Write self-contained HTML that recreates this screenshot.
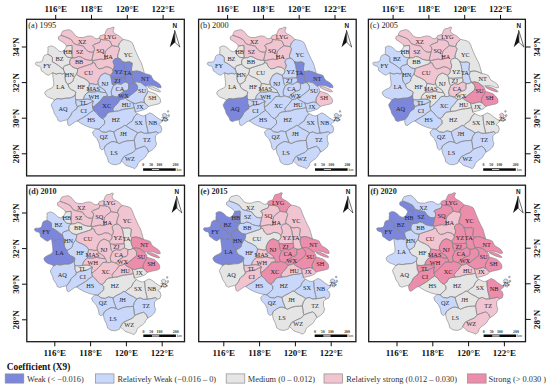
<!DOCTYPE html>
<html><head><meta charset="utf-8"><title>Coefficient (X9) maps</title>
<style>
html,body{margin:0;padding:0;background:#fff;}
body{width:550px;height:389px;overflow:hidden;font-family:"Liberation Serif",serif;}
svg{display:block;}
</style></head><body>
<svg width="550" height="389" viewBox="0 0 550 389">
<g>
<path d="M61 35.3L61.3 33.4L62.9 31L66.7 30L69.3 29.7L71.7 31.1L73.9 33.5L75.9 36.2L78.7 37.4L83.2 37.6L86.7 36.3L89.9 35.9L92.7 36.4L94.5 38L96.7 38.8L99.3 38L100.7 39.4L100 42.2L96.9 43.4L93.7 44.6L92.5 45.8L94 46.8L94.5 49.4L93.6 51.9L92 52.2L89.1 51.9L86.9 50.4L85.4 49L83.5 46.2L80.2 45.4L76.8 44.7L74.2 43.8L72.9 42L71.3 39.7L68.1 37.9L64.2 36.4Z" fill="#f1c4d1"/>
<path d="M99.3 38L100.2 35.6L102.7 35L105 34L106 30.8L107.2 28.9L110.5 28.3L113 27L114.3 27.6L113.7 28.9L113 30.8L113.7 32.7L115.6 34L118.2 35.3L120.7 37.2L123.1 39.4L121.4 41.1L119.4 43L118.8 45L118.2 46.6L115 46.2L112 45.6L111.2 43.7L110.5 41.7L108.5 40.5L106 39.8L103.4 39.8L100.7 39.4Z" fill="#f1c4d1"/>
<path d="M66.5 46L64.8 43.6L61.6 41.4L58.5 39.4L58.4 36.8L61 35.3L64.2 36.4L68.1 37.9L71.3 39.7L72.9 42L74.2 43.8L76.8 44.7L80.2 45.4L83.5 46.2L85.4 49L86.9 50.4L89.1 51.9L92 52.2L93.6 51.9L93.2 53.9L92.5 56.9L91.9 59.3L92 60.2L90.5 60.4L87.6 59.9L84.7 59.1L81.1 57L78.2 56.4L76 57.7L72.3 57.9L72.1 55.5L71.9 52.6L72.2 48.9L72 45.4L69.1 45.6Z" fill="#f1c4d1"/>
<path d="M100.7 39.4L100 42.2L96.9 43.4L93.7 44.6L92.5 45.8L94 46.8L94.5 49.4L93.6 51.9L93.2 53.9L92.5 56.9L91.9 59.3L92 60.2L94 60.5L96.9 59.8L101.2 59L103.2 59.6L106.2 59.2L104.9 56.9L104.9 53.9L105.6 51L107.8 48.9L112 45.6L111.2 43.7L110.5 41.7L108.5 40.5L106 39.8L103.4 39.8Z" fill="#f1c4d1"/>
<path d="M92 60.2L92.9 61.3L92.5 62.4L94.8 63L96.3 66.5L99 68.9L102.6 68.3L105.8 66.7L109.4 67.3L111.5 68.5L112.7 69.5L113.9 68L114.3 65L113.2 62.5L113.2 60.5L115 58.8L118 58L117.5 56L118.5 52.5L119.7 48.8L118.2 46.6L115 46.2L112 45.6L107.8 48.9L105.6 51L104.9 53.9L104.9 56.9L106.2 59.2L103.2 59.6L101.2 59L96.9 59.8L94 60.5Z" fill="#f1c4d1"/>
<path d="M123.1 39.4L126.2 40L129.2 40.8L131.8 42.2L133.3 45L134.3 47.9L135.8 51.5L137.4 55.1L139.4 59.3L141.4 63L142.6 66.8L143.6 70.5L144.5 73.5L140.5 71.8L136.8 70.9L132.7 71.6L131.4 70L131.8 66.8L132.3 63.2L129.5 61.8L125 62.3L122.3 61.4L120.5 59.1L118 58L117.5 56L118.5 52.5L119.7 48.8L118.2 46.6L118.8 45L119.4 43L121.4 41.1Z" fill="#e5e5e6"/>
<path d="M63.7 50.8L65.1 49L65.9 47.5L66.5 46L69.1 45.6L72 45.4L72.2 48.9L71.9 52.6L72.1 55.5L72.3 57.9L67.9 57.3L65.5 55.4L64.3 53Z" fill="#e5e5e6"/>
<path d="M47.9 54.4L47.8 52L48.1 49.5L47.8 47.3L50.6 45.9L53.3 46.4L56 48.2L58.7 50.9L61.5 51.8L63.7 50.8L64.3 53L65.5 55.4L67.9 57.3L72.3 57.9L70.1 59.5L69.6 62L69.9 64.2L68.2 64.7L64.6 65.8L63.3 67.5L63.5 69.5L62 68.3L58.8 65.7L54.9 63.1L52.4 61.9L52.4 57.6L51.2 56L49 54.9Z" fill="#e5e5e6"/>
<path d="M52.5 72.8L50.4 74.1L48.5 75.3L45.9 74.1L43.4 72.1L41.4 70.8L40.8 67.6L39.9 66.3L37.7 65.8L35.9 64.8L35.3 63.2L36.2 62.2L39.2 62.2L41.7 61.6L42.8 60L43.1 58.2L43.6 56.5L44.7 55.2L46.8 54.6L47.9 54.4L49 54.9L51.2 56L52.4 57.6L52.4 61.9L54.9 63.1L58.8 65.7L62 68.3L63.5 69.5L64 71L64.7 72.6L62.6 74.1L60.7 73.4L58.8 73.4L56.2 74.1L54.3 73.4Z" fill="#e5e5e6"/>
<path d="M69.9 64.2L69.6 62L70.1 59.5L72.3 57.9L76 57.7L78.2 56.4L81.1 57L84.7 59.1L87.6 59.9L90.5 60.4L92 60.2L92.9 61.3L92.5 62.4L92.3 63.5L89.3 64.6L83.9 66.4L80.2 67.6L77.5 68.6L74.2 67.9L71.9 66.4Z" fill="#f1c4d1"/>
<path d="M63.5 69.5L63.3 67.5L64.6 65.8L68.2 64.7L69.9 64.2L71.9 66.4L74.2 67.9L77.5 68.6L77.5 71.2L76.5 74.1L74.6 76.5L73.3 79.5L73.2 81L70.9 82.8L67.9 84.4L65.9 82L65.1 79L65.1 75.6L64.7 72.6L64 71Z" fill="#e5e5e6"/>
<path d="M92.5 62.4L92.3 63.5L89.3 64.6L83.9 66.4L80.2 67.6L77.5 68.6L77.5 71.2L76.5 74.1L78 75.5L80.7 77L82.9 77.8L85.1 79L87.8 80.8L89.5 83.5L93.1 83.9L95.9 84.6L98.2 83.8L98 81.2L99.5 77.6L101.3 74.9L104.9 73L108.6 74.6L110.2 75.3L111.7 74L113 71.8L112.7 69.5L111.5 68.5L109.4 67.3L105.8 66.7L102.6 68.3L99 68.9L96.3 66.5L94.8 63Z" fill="#f1c4d1"/>
<path d="M54.5 100L52.7 98.8L50.1 98L47.5 96.8L45.7 95.2L44.7 92.8L45.9 91L48.5 89.4L51.9 88L53.7 85.8L53.7 82.5L53 77.3L52.5 72.8L54.3 73.4L56.2 74.1L58.8 73.4L60.7 73.4L62.6 74.1L64.7 72.6L65.1 75.6L65.1 79L65.9 82L67.9 84.4L68.9 87.4L71.2 89.5L74.2 90.9L75.9 92.2L75.2 95L73 96.8L70.1 98L65.5 98.2L61 99L57.3 98.5Z" fill="#e5e5e6"/>
<path d="M76.5 74.1L74.6 76.5L73.3 79.5L73.2 81L70.9 82.8L67.9 84.4L68.9 87.4L71.2 89.5L74.2 90.9L75.9 92.2L75.2 95L75.3 97.5L75.7 99.6L79.6 99.9L83.5 99.4L84.2 96.5L85.9 93.9L88.5 92L88 90L88.6 87.6L89.5 83.5L87.8 80.8L85.1 79L82.9 77.8L80.7 77L78 75.5Z" fill="#e5e5e6"/>
<path d="M118 58L115 58.8L113.2 60.5L113.2 62.5L114.3 65L113.9 68L112.7 69.5L113 71.8L111.7 74L110.2 75.3L111.2 78L115.7 78.3L119.7 78L125 77.8L125 73.6L124.5 70L123.7 65L122.3 61.4L120.5 59.1Z" fill="#7c87dc"/>
<path d="M122.3 61.4L123.7 65L124.5 70L125 73.6L125 77.8L125.7 80L125.2 82L127.2 82.8L128.9 83.6L131.2 83.6L134 82.3L132.7 79.1L131.8 75.5L132.7 71.6L131.4 70L131.8 66.8L132.3 63.2L129.5 61.8L125 62.3Z" fill="#7c87dc"/>
<path d="M144.5 73.5L148.6 74.4L151.2 75.6L152.2 78L153.8 80.3L157.1 82.2L159.6 84L161 86.2L161 87.8L158 87.6L154.8 86.1L151.7 85.6L148.6 85.6L145.5 86.3L144.5 85.5L140.9 82.7L137.2 81.8L134 82.3L132.7 79.1L131.8 75.5L132.7 71.6L136.8 70.9L140.5 71.8Z" fill="#7c87dc"/>
<path d="M110.2 75.3L111.2 78L111.6 81.4L112.2 84.2L113.5 85.5L112.2 88.5L111.2 91.5L111.5 94.2L112.2 95.8L110.2 96.5L108.6 96.7L107.2 96.2L107.2 94.4L106 92.6L105 90.4L102.4 88.5L99.3 86.4L98.2 83.8L98 81.2L99.5 77.6L101.3 74.9L104.9 73L108.6 74.6Z" fill="#c9d8fa"/>
<path d="M111.2 78L115.7 78.3L119.7 78L125 77.8L125.7 80L125.2 82L123.6 82.7L120.9 84.3L117.2 83.6L113.5 85.5L112.2 84.2L111.6 81.4Z" fill="#7c87dc"/>
<path d="M113.5 85.5L117.2 83.6L120.9 84.3L123.6 82.7L125.2 82L127.2 82.8L128.9 83.6L128.5 85.9L128.7 88.2L127.2 90.5L124.5 91L121.8 92.7L119.1 94.5L117.2 97.2L114.5 96.4L112.2 95.8L111.5 94.2L111.2 91.5L112.2 88.5Z" fill="#c9d8fa"/>
<path d="M128.9 83.6L131.2 83.6L134 82.3L136.7 84.5L137.7 87L137.2 90L134 92.5L130.4 95.4L127.7 97.3L125.2 98L123.2 99L120.7 99.5L119.2 98.8L117.2 97.2L119.1 94.5L121.8 92.7L124.5 91L127.2 90.5L128.7 88.2L128.5 85.9Z" fill="#7c87dc"/>
<path d="M145.5 86.3L146.7 87.5L147.7 89.6L147.9 91.4L146.6 94.1L144.7 97.3L143.9 100L144.6 102.8L141.9 101.9L138.2 102.8L135.5 103.7L132.8 102.8L131 101.9L127.3 99.8L125.2 98L127.7 97.3L130.4 95.4L134 92.5L137.2 90L137.7 87L136.7 84.5L134 82.3L137.2 81.8L140.9 82.7L144.5 85.5Z" fill="#c9d8fa"/>
<path d="M147.9 91.4L150.4 91.9L153 92.8L155.6 93.8L158.1 96.1L160.1 98.6L160.7 101.2L160.1 103.1L158.2 104L154.6 104.8L151 105.6L148.2 106.5L146.4 104.6L144.6 102.8L143.9 100L144.7 97.3L146.6 94.1Z" fill="#e5e5e6"/>
<path d="M106 92.6L102.7 92.4L97.7 91.4L93.1 92.1L88.5 92L88 90L88.6 87.6L89.5 83.5L93.1 83.9L95.9 84.6L98.2 83.8L99.3 86.4L102.4 88.5L105 90.4Z" fill="#c9d8fa"/>
<path d="M83.5 99.4L87.8 99L91.5 99.9L93.3 101.2L92.4 104.4L92.5 107L94.2 106.2L97.3 103.6L100.9 100L103.6 96.6L107.2 96.2L107.2 94.4L106 92.6L102.7 92.4L97.7 91.4L93.1 92.1L88.5 92L85.9 93.9L84.2 96.5Z" fill="#c9d8fa"/>
<path d="M117.2 97.2L119.2 98.8L120.7 99.5L119.2 100.9L117.4 103.7L114.6 106.4L112.8 109.1L113.7 111.6L111.9 111.7L109.2 112.2L106.9 113.8L105.5 116.5L102.7 118.6L100.5 117.6L98.4 115.4L96.4 112.8L93.5 110.4L93 109L92.5 107L94.2 106.2L97.3 103.6L100.9 100L103.6 96.6L107.2 96.2L108.6 96.7L110.2 96.5L112.2 95.8L114.5 96.4Z" fill="#7c87dc"/>
<path d="M75.7 99.6L75.9 103.5L77.3 106.6L80.5 105.6L84.2 104.9L87.8 104L90.6 102.6L93.3 101.2L91.5 99.9L87.8 99L83.5 99.4L79.6 99.9Z" fill="#c9d8fa"/>
<path d="M77.5 120.9L75.2 121.7L72.9 123.4L69.6 125.7L68 124.9L67.2 121L67.9 119.2L68.9 118.1L70.5 115.8L72 112.7L74.3 110.4L76.6 108.9L77.3 106.6L80.5 105.6L84.2 104.9L87.8 104L90.6 102.6L93.3 101.2L92.4 104.4L92.5 107L93 109L93.5 110.4L92.2 111.2L89.7 112.8L86.7 115.3L83.7 117.2L80.7 118.9Z" fill="#c9d8fa"/>
<path d="M67.9 119.2L66.6 119.9L63.5 120.6L60.4 121.6L58.1 120.4L57.4 118.1L55.8 115.8L54.3 113.5L53.5 110.4L52 107.3L51.2 104.9L52.7 102.4L54.5 100L57.3 98.5L61 99L65.5 98.2L70.1 98L73 96.8L75.2 95L75.3 97.5L75.7 99.6L75.9 103.5L77.3 106.6L76.6 108.9L74.3 110.4L72 112.7L70.5 115.8L68.9 118.1Z" fill="#c9d8fa"/>
<path d="M95.8 128.8L94.4 128.6L90.1 127.5L84.6 125.3L80.7 123.2L77.5 120.9L80.7 118.9L83.7 117.2L86.7 115.3L89.7 112.8L92.2 111.2L93.5 110.4L96.4 112.8L98.4 115.4L100.5 117.6L102.7 118.6L104.6 120.5L104.6 123.7L101.9 126.4L98.7 129.2Z" fill="#c9d8fa"/>
<path d="M120.7 99.5L123.2 99L125.2 98L127.3 99.8L131 101.9L132.8 102.8L133.7 105.3L134.2 107.5L131.9 108.2L128.3 108.7L124.6 109.1L121 110L118.3 111L115.5 111.2L113.7 111.6L112.8 109.1L114.6 106.4L117.4 103.7L119.2 100.9Z" fill="#c9d8fa"/>
<path d="M148.2 106.5L146.6 108.4L144.4 109.5L141.1 110.6L137.9 111.5L135.3 112L134.9 110L134.2 107.5L133.7 105.3L132.8 102.8L135.5 103.7L138.2 102.8L141.9 101.9L144.6 102.8L146.4 104.6Z" fill="#c9d8fa"/>
<path d="M135.3 112L136.2 113L137.2 113.6L134.2 116.8L132.3 120.9L129 123.1L127 124.8L126.2 125.8L124.7 125.3L121.4 127.5L117 129.7L113.8 131.8L109.4 130.8L106.1 132.4L101.8 131.8L98.7 129.2L101.9 126.4L104.6 123.7L104.6 120.5L102.7 118.6L105.5 116.5L106.9 113.8L109.2 112.2L111.9 111.7L113.7 111.6L115.5 111.2L118.3 111L121 110L124.6 109.1L128.3 108.7L131.9 108.2L134.2 107.5L134.9 110Z" fill="#c9d8fa"/>
<path d="M137.2 113.6L139.2 114.5L141.1 115.5L143.2 116L145.5 115.3L145.9 120.9L146.5 125.3L147.6 129.7L148.2 133.2L144.3 133.3L141 131.8L137.7 132.9L134.5 130.8L130.1 128.6L126.8 126.4L126.2 125.8L127 124.8L129 123.1L132.3 120.9L134.2 116.8Z" fill="#c9d8fa"/>
<path d="M145.5 115.3L149.9 112.8L153.1 114.4L156.4 117.1L159.7 119.3L163 120.9L160.8 122.6L158.6 124.8L160.8 125.8L161.9 129.1L160.8 132.4L158.3 133.2L156.4 131.6L152.1 132.6L148.2 133.2L147.6 129.7L146.5 125.3L145.9 120.9Z" fill="#c9d8fa"/>
<path d="M113.8 131.8L114.9 136.2L116.2 139.5L117.2 142.5L119.2 143.6L123.6 141.7L127.2 140.8L131.4 140.6L134.2 140.3L135.2 136.5L137.7 132.9L134.5 130.8L130.1 128.6L126.8 126.4L126.2 125.8L124.7 125.3L121.4 127.5L117 129.7Z" fill="#c9d8fa"/>
<path d="M104.2 148.5L101.9 150L100.1 148.4L99 143L96.9 138.6L93.6 135.3L92.5 132L95.8 128.8L98.7 129.2L101.8 131.8L106.1 132.4L109.4 130.8L113.8 131.8L114.9 136.2L116.2 139.5L117.2 142.5L114.2 141.6L111.8 141.6L108.3 143.5L105.2 145.8Z" fill="#c9d8fa"/>
<path d="M158.3 133.2L155.4 135.9L155.4 140.3L156.5 143.6L155.4 146.9L152.1 150.1L148.7 152L147.2 148.5L144.5 146.2L140.1 147.6L135.9 149.2L135.2 147.5L134.9 144L134.2 140.3L135.2 136.5L137.7 132.9L141 131.8L144.3 133.3L148.2 133.2L152.1 132.6L156.4 131.6Z" fill="#c9d8fa"/>
<path d="M121.2 161L120.5 163.2L116.1 164.8L111.8 164.3L108.5 162.1L107.4 157.8L105.2 153.4L104.2 148.5L105.2 145.8L108.3 143.5L111.8 141.6L114.2 141.6L117.2 142.5L119.2 143.6L123.6 141.7L127.2 140.8L131.4 140.6L134.2 140.3L134.9 144L135.2 147.5L135.9 149.2L133.2 152.3L128.1 154.5L123.8 156.7Z" fill="#c9d8fa"/>
<path d="M148.7 152L146.7 154.5L145.6 156.7L143.4 158.8L140.1 161L138 163.2L136.9 166.5L134.7 168.7L132.5 167.6L129.2 166.5L126 165.4L122.7 162.1L121.2 161L123.8 156.7L128.1 154.5L133.2 152.3L135.9 149.2L140.1 147.6L144.5 146.2L147.2 148.5Z" fill="#c9d8fa"/>
<path d="M147.9 86.4L152.4 86.9L156.2 88.5L159.4 90.2L160.7 91.6L159.2 91.9L154.3 90.4L150.4 88.7L148.5 87.6Z" fill="#e5e5e6"/>
<path d="M162.2 114.5L164.2 113.2L166.2 114L166.7 116L165.2 117.5L163.2 117Z" fill="#c9d8fa"/>
<path d="M163.7 118.5L165.7 118L167.2 119.5L166.2 121.5L164.2 121Z" fill="#c9d8fa"/>
<path d="M167.7 115L169.2 114.5L169.7 116L168.2 116.8Z" fill="#c9d8fa"/>
<path d="M167.2 111L168.5 110.5L168.9 111.8L167.7 112.3Z" fill="#c9d8fa"/>
<path d="M61 35.3L61.3 33.4L62.9 31L66.7 30L69.3 29.7L71.7 31.1L73.9 33.5L75.9 36.2L78.7 37.4L83.2 37.6L86.7 36.3L89.9 35.9L92.7 36.4L94.5 38L96.7 38.8L99.3 38L100.7 39.4L100 42.2L96.9 43.4L93.7 44.6L92.5 45.8L94 46.8L94.5 49.4L93.6 51.9L92 52.2L89.1 51.9L86.9 50.4L85.4 49L83.5 46.2L80.2 45.4L76.8 44.7L74.2 43.8L72.9 42L71.3 39.7L68.1 37.9L64.2 36.4ZM99.3 38L100.2 35.6L102.7 35L105 34L106 30.8L107.2 28.9L110.5 28.3L113 27L114.3 27.6L113.7 28.9L113 30.8L113.7 32.7L115.6 34L118.2 35.3L120.7 37.2L123.1 39.4L121.4 41.1L119.4 43L118.8 45L118.2 46.6L115 46.2L112 45.6L111.2 43.7L110.5 41.7L108.5 40.5L106 39.8L103.4 39.8L100.7 39.4ZM66.5 46L64.8 43.6L61.6 41.4L58.5 39.4L58.4 36.8L61 35.3L64.2 36.4L68.1 37.9L71.3 39.7L72.9 42L74.2 43.8L76.8 44.7L80.2 45.4L83.5 46.2L85.4 49L86.9 50.4L89.1 51.9L92 52.2L93.6 51.9L93.2 53.9L92.5 56.9L91.9 59.3L92 60.2L90.5 60.4L87.6 59.9L84.7 59.1L81.1 57L78.2 56.4L76 57.7L72.3 57.9L72.1 55.5L71.9 52.6L72.2 48.9L72 45.4L69.1 45.6ZM100.7 39.4L100 42.2L96.9 43.4L93.7 44.6L92.5 45.8L94 46.8L94.5 49.4L93.6 51.9L93.2 53.9L92.5 56.9L91.9 59.3L92 60.2L94 60.5L96.9 59.8L101.2 59L103.2 59.6L106.2 59.2L104.9 56.9L104.9 53.9L105.6 51L107.8 48.9L112 45.6L111.2 43.7L110.5 41.7L108.5 40.5L106 39.8L103.4 39.8ZM92 60.2L92.9 61.3L92.5 62.4L94.8 63L96.3 66.5L99 68.9L102.6 68.3L105.8 66.7L109.4 67.3L111.5 68.5L112.7 69.5L113.9 68L114.3 65L113.2 62.5L113.2 60.5L115 58.8L118 58L117.5 56L118.5 52.5L119.7 48.8L118.2 46.6L115 46.2L112 45.6L107.8 48.9L105.6 51L104.9 53.9L104.9 56.9L106.2 59.2L103.2 59.6L101.2 59L96.9 59.8L94 60.5ZM123.1 39.4L126.2 40L129.2 40.8L131.8 42.2L133.3 45L134.3 47.9L135.8 51.5L137.4 55.1L139.4 59.3L141.4 63L142.6 66.8L143.6 70.5L144.5 73.5L140.5 71.8L136.8 70.9L132.7 71.6L131.4 70L131.8 66.8L132.3 63.2L129.5 61.8L125 62.3L122.3 61.4L120.5 59.1L118 58L117.5 56L118.5 52.5L119.7 48.8L118.2 46.6L118.8 45L119.4 43L121.4 41.1ZM63.7 50.8L65.1 49L65.9 47.5L66.5 46L69.1 45.6L72 45.4L72.2 48.9L71.9 52.6L72.1 55.5L72.3 57.9L67.9 57.3L65.5 55.4L64.3 53ZM47.9 54.4L47.8 52L48.1 49.5L47.8 47.3L50.6 45.9L53.3 46.4L56 48.2L58.7 50.9L61.5 51.8L63.7 50.8L64.3 53L65.5 55.4L67.9 57.3L72.3 57.9L70.1 59.5L69.6 62L69.9 64.2L68.2 64.7L64.6 65.8L63.3 67.5L63.5 69.5L62 68.3L58.8 65.7L54.9 63.1L52.4 61.9L52.4 57.6L51.2 56L49 54.9ZM52.5 72.8L50.4 74.1L48.5 75.3L45.9 74.1L43.4 72.1L41.4 70.8L40.8 67.6L39.9 66.3L37.7 65.8L35.9 64.8L35.3 63.2L36.2 62.2L39.2 62.2L41.7 61.6L42.8 60L43.1 58.2L43.6 56.5L44.7 55.2L46.8 54.6L47.9 54.4L49 54.9L51.2 56L52.4 57.6L52.4 61.9L54.9 63.1L58.8 65.7L62 68.3L63.5 69.5L64 71L64.7 72.6L62.6 74.1L60.7 73.4L58.8 73.4L56.2 74.1L54.3 73.4ZM69.9 64.2L69.6 62L70.1 59.5L72.3 57.9L76 57.7L78.2 56.4L81.1 57L84.7 59.1L87.6 59.9L90.5 60.4L92 60.2L92.9 61.3L92.5 62.4L92.3 63.5L89.3 64.6L83.9 66.4L80.2 67.6L77.5 68.6L74.2 67.9L71.9 66.4ZM63.5 69.5L63.3 67.5L64.6 65.8L68.2 64.7L69.9 64.2L71.9 66.4L74.2 67.9L77.5 68.6L77.5 71.2L76.5 74.1L74.6 76.5L73.3 79.5L73.2 81L70.9 82.8L67.9 84.4L65.9 82L65.1 79L65.1 75.6L64.7 72.6L64 71ZM92.5 62.4L92.3 63.5L89.3 64.6L83.9 66.4L80.2 67.6L77.5 68.6L77.5 71.2L76.5 74.1L78 75.5L80.7 77L82.9 77.8L85.1 79L87.8 80.8L89.5 83.5L93.1 83.9L95.9 84.6L98.2 83.8L98 81.2L99.5 77.6L101.3 74.9L104.9 73L108.6 74.6L110.2 75.3L111.7 74L113 71.8L112.7 69.5L111.5 68.5L109.4 67.3L105.8 66.7L102.6 68.3L99 68.9L96.3 66.5L94.8 63ZM54.5 100L52.7 98.8L50.1 98L47.5 96.8L45.7 95.2L44.7 92.8L45.9 91L48.5 89.4L51.9 88L53.7 85.8L53.7 82.5L53 77.3L52.5 72.8L54.3 73.4L56.2 74.1L58.8 73.4L60.7 73.4L62.6 74.1L64.7 72.6L65.1 75.6L65.1 79L65.9 82L67.9 84.4L68.9 87.4L71.2 89.5L74.2 90.9L75.9 92.2L75.2 95L73 96.8L70.1 98L65.5 98.2L61 99L57.3 98.5ZM76.5 74.1L74.6 76.5L73.3 79.5L73.2 81L70.9 82.8L67.9 84.4L68.9 87.4L71.2 89.5L74.2 90.9L75.9 92.2L75.2 95L75.3 97.5L75.7 99.6L79.6 99.9L83.5 99.4L84.2 96.5L85.9 93.9L88.5 92L88 90L88.6 87.6L89.5 83.5L87.8 80.8L85.1 79L82.9 77.8L80.7 77L78 75.5ZM118 58L115 58.8L113.2 60.5L113.2 62.5L114.3 65L113.9 68L112.7 69.5L113 71.8L111.7 74L110.2 75.3L111.2 78L115.7 78.3L119.7 78L125 77.8L125 73.6L124.5 70L123.7 65L122.3 61.4L120.5 59.1ZM122.3 61.4L123.7 65L124.5 70L125 73.6L125 77.8L125.7 80L125.2 82L127.2 82.8L128.9 83.6L131.2 83.6L134 82.3L132.7 79.1L131.8 75.5L132.7 71.6L131.4 70L131.8 66.8L132.3 63.2L129.5 61.8L125 62.3ZM144.5 73.5L148.6 74.4L151.2 75.6L152.2 78L153.8 80.3L157.1 82.2L159.6 84L161 86.2L161 87.8L158 87.6L154.8 86.1L151.7 85.6L148.6 85.6L145.5 86.3L144.5 85.5L140.9 82.7L137.2 81.8L134 82.3L132.7 79.1L131.8 75.5L132.7 71.6L136.8 70.9L140.5 71.8ZM110.2 75.3L111.2 78L111.6 81.4L112.2 84.2L113.5 85.5L112.2 88.5L111.2 91.5L111.5 94.2L112.2 95.8L110.2 96.5L108.6 96.7L107.2 96.2L107.2 94.4L106 92.6L105 90.4L102.4 88.5L99.3 86.4L98.2 83.8L98 81.2L99.5 77.6L101.3 74.9L104.9 73L108.6 74.6ZM111.2 78L115.7 78.3L119.7 78L125 77.8L125.7 80L125.2 82L123.6 82.7L120.9 84.3L117.2 83.6L113.5 85.5L112.2 84.2L111.6 81.4ZM113.5 85.5L117.2 83.6L120.9 84.3L123.6 82.7L125.2 82L127.2 82.8L128.9 83.6L128.5 85.9L128.7 88.2L127.2 90.5L124.5 91L121.8 92.7L119.1 94.5L117.2 97.2L114.5 96.4L112.2 95.8L111.5 94.2L111.2 91.5L112.2 88.5ZM128.9 83.6L131.2 83.6L134 82.3L136.7 84.5L137.7 87L137.2 90L134 92.5L130.4 95.4L127.7 97.3L125.2 98L123.2 99L120.7 99.5L119.2 98.8L117.2 97.2L119.1 94.5L121.8 92.7L124.5 91L127.2 90.5L128.7 88.2L128.5 85.9ZM145.5 86.3L146.7 87.5L147.7 89.6L147.9 91.4L146.6 94.1L144.7 97.3L143.9 100L144.6 102.8L141.9 101.9L138.2 102.8L135.5 103.7L132.8 102.8L131 101.9L127.3 99.8L125.2 98L127.7 97.3L130.4 95.4L134 92.5L137.2 90L137.7 87L136.7 84.5L134 82.3L137.2 81.8L140.9 82.7L144.5 85.5ZM147.9 91.4L150.4 91.9L153 92.8L155.6 93.8L158.1 96.1L160.1 98.6L160.7 101.2L160.1 103.1L158.2 104L154.6 104.8L151 105.6L148.2 106.5L146.4 104.6L144.6 102.8L143.9 100L144.7 97.3L146.6 94.1ZM106 92.6L102.7 92.4L97.7 91.4L93.1 92.1L88.5 92L88 90L88.6 87.6L89.5 83.5L93.1 83.9L95.9 84.6L98.2 83.8L99.3 86.4L102.4 88.5L105 90.4ZM83.5 99.4L87.8 99L91.5 99.9L93.3 101.2L92.4 104.4L92.5 107L94.2 106.2L97.3 103.6L100.9 100L103.6 96.6L107.2 96.2L107.2 94.4L106 92.6L102.7 92.4L97.7 91.4L93.1 92.1L88.5 92L85.9 93.9L84.2 96.5ZM117.2 97.2L119.2 98.8L120.7 99.5L119.2 100.9L117.4 103.7L114.6 106.4L112.8 109.1L113.7 111.6L111.9 111.7L109.2 112.2L106.9 113.8L105.5 116.5L102.7 118.6L100.5 117.6L98.4 115.4L96.4 112.8L93.5 110.4L93 109L92.5 107L94.2 106.2L97.3 103.6L100.9 100L103.6 96.6L107.2 96.2L108.6 96.7L110.2 96.5L112.2 95.8L114.5 96.4ZM75.7 99.6L75.9 103.5L77.3 106.6L80.5 105.6L84.2 104.9L87.8 104L90.6 102.6L93.3 101.2L91.5 99.9L87.8 99L83.5 99.4L79.6 99.9ZM77.5 120.9L75.2 121.7L72.9 123.4L69.6 125.7L68 124.9L67.2 121L67.9 119.2L68.9 118.1L70.5 115.8L72 112.7L74.3 110.4L76.6 108.9L77.3 106.6L80.5 105.6L84.2 104.9L87.8 104L90.6 102.6L93.3 101.2L92.4 104.4L92.5 107L93 109L93.5 110.4L92.2 111.2L89.7 112.8L86.7 115.3L83.7 117.2L80.7 118.9ZM67.9 119.2L66.6 119.9L63.5 120.6L60.4 121.6L58.1 120.4L57.4 118.1L55.8 115.8L54.3 113.5L53.5 110.4L52 107.3L51.2 104.9L52.7 102.4L54.5 100L57.3 98.5L61 99L65.5 98.2L70.1 98L73 96.8L75.2 95L75.3 97.5L75.7 99.6L75.9 103.5L77.3 106.6L76.6 108.9L74.3 110.4L72 112.7L70.5 115.8L68.9 118.1ZM95.8 128.8L94.4 128.6L90.1 127.5L84.6 125.3L80.7 123.2L77.5 120.9L80.7 118.9L83.7 117.2L86.7 115.3L89.7 112.8L92.2 111.2L93.5 110.4L96.4 112.8L98.4 115.4L100.5 117.6L102.7 118.6L104.6 120.5L104.6 123.7L101.9 126.4L98.7 129.2ZM120.7 99.5L123.2 99L125.2 98L127.3 99.8L131 101.9L132.8 102.8L133.7 105.3L134.2 107.5L131.9 108.2L128.3 108.7L124.6 109.1L121 110L118.3 111L115.5 111.2L113.7 111.6L112.8 109.1L114.6 106.4L117.4 103.7L119.2 100.9ZM148.2 106.5L146.6 108.4L144.4 109.5L141.1 110.6L137.9 111.5L135.3 112L134.9 110L134.2 107.5L133.7 105.3L132.8 102.8L135.5 103.7L138.2 102.8L141.9 101.9L144.6 102.8L146.4 104.6ZM135.3 112L136.2 113L137.2 113.6L134.2 116.8L132.3 120.9L129 123.1L127 124.8L126.2 125.8L124.7 125.3L121.4 127.5L117 129.7L113.8 131.8L109.4 130.8L106.1 132.4L101.8 131.8L98.7 129.2L101.9 126.4L104.6 123.7L104.6 120.5L102.7 118.6L105.5 116.5L106.9 113.8L109.2 112.2L111.9 111.7L113.7 111.6L115.5 111.2L118.3 111L121 110L124.6 109.1L128.3 108.7L131.9 108.2L134.2 107.5L134.9 110ZM137.2 113.6L139.2 114.5L141.1 115.5L143.2 116L145.5 115.3L145.9 120.9L146.5 125.3L147.6 129.7L148.2 133.2L144.3 133.3L141 131.8L137.7 132.9L134.5 130.8L130.1 128.6L126.8 126.4L126.2 125.8L127 124.8L129 123.1L132.3 120.9L134.2 116.8ZM145.5 115.3L149.9 112.8L153.1 114.4L156.4 117.1L159.7 119.3L163 120.9L160.8 122.6L158.6 124.8L160.8 125.8L161.9 129.1L160.8 132.4L158.3 133.2L156.4 131.6L152.1 132.6L148.2 133.2L147.6 129.7L146.5 125.3L145.9 120.9ZM113.8 131.8L114.9 136.2L116.2 139.5L117.2 142.5L119.2 143.6L123.6 141.7L127.2 140.8L131.4 140.6L134.2 140.3L135.2 136.5L137.7 132.9L134.5 130.8L130.1 128.6L126.8 126.4L126.2 125.8L124.7 125.3L121.4 127.5L117 129.7ZM104.2 148.5L101.9 150L100.1 148.4L99 143L96.9 138.6L93.6 135.3L92.5 132L95.8 128.8L98.7 129.2L101.8 131.8L106.1 132.4L109.4 130.8L113.8 131.8L114.9 136.2L116.2 139.5L117.2 142.5L114.2 141.6L111.8 141.6L108.3 143.5L105.2 145.8ZM158.3 133.2L155.4 135.9L155.4 140.3L156.5 143.6L155.4 146.9L152.1 150.1L148.7 152L147.2 148.5L144.5 146.2L140.1 147.6L135.9 149.2L135.2 147.5L134.9 144L134.2 140.3L135.2 136.5L137.7 132.9L141 131.8L144.3 133.3L148.2 133.2L152.1 132.6L156.4 131.6ZM121.2 161L120.5 163.2L116.1 164.8L111.8 164.3L108.5 162.1L107.4 157.8L105.2 153.4L104.2 148.5L105.2 145.8L108.3 143.5L111.8 141.6L114.2 141.6L117.2 142.5L119.2 143.6L123.6 141.7L127.2 140.8L131.4 140.6L134.2 140.3L134.9 144L135.2 147.5L135.9 149.2L133.2 152.3L128.1 154.5L123.8 156.7ZM148.7 152L146.7 154.5L145.6 156.7L143.4 158.8L140.1 161L138 163.2L136.9 166.5L134.7 168.7L132.5 167.6L129.2 166.5L126 165.4L122.7 162.1L121.2 161L123.8 156.7L128.1 154.5L133.2 152.3L135.9 149.2L140.1 147.6L144.5 146.2L147.2 148.5ZM147.9 86.4L152.4 86.9L156.2 88.5L159.4 90.2L160.7 91.6L159.2 91.9L154.3 90.4L150.4 88.7L148.5 87.6ZM162.2 114.5L164.2 113.2L166.2 114L166.7 116L165.2 117.5L163.2 117ZM163.7 118.5L165.7 118L167.2 119.5L166.2 121.5L164.2 121ZM167.7 115L169.2 114.5L169.7 116L168.2 116.8ZM167.2 111L168.5 110.5L168.9 111.8L167.7 112.3Z" fill="none" stroke="#808080" stroke-width="0.6" stroke-linejoin="round"/>
</g>
<g font-family="Liberation Serif" font-size="6.3" fill="#1e1e2a" text-anchor="middle"><text transform="translate(82.2 44.25) scale(1.0 1.06)">XZ</text><text transform="translate(110.1 38.95) scale(1.0 1.06)">LYG</text><text transform="translate(67.7 53.95) scale(1.0 1.06)">HB</text><text transform="translate(79.6 53.55) scale(1.0 1.06)">SZ</text><text transform="translate(100.2 52.85) scale(1.0 1.06)">SQ</text><text transform="translate(108.3 59.15) scale(1.0 1.06)">HA</text><text transform="translate(128 57.35) scale(1.0 1.06)">YC</text><text transform="translate(59.5 61.35) scale(1.0 1.06)">BZ</text><text transform="translate(79.1 63.95) scale(1.0 1.06)">BB</text><text transform="translate(47.2 68.35) scale(1.0 1.06)">FY</text><text transform="translate(69.4 77.45) scale(1.0 1.06)">HN</text><text transform="translate(88.7 75.25) scale(1.0 1.06)">CU</text><text transform="translate(118.7 74.05) scale(1.0 1.06)">YZ</text><text transform="translate(127.5 74.55) scale(1.0 1.06)">TA</text><text transform="translate(145.3 81.35) scale(1.0 1.06)">NT</text><text transform="translate(117.3 83.25) scale(1.0 1.06)">ZJ</text><text transform="translate(104.9 86.15) scale(1.0 1.06)">NJ</text><text transform="translate(81.2 88.95) scale(1.0 1.06)">HF</text><text transform="translate(60.5 88.85) scale(1.0 1.06)">LA</text><text transform="translate(93.3 91.35) scale(1.0 1.06)">MAS</text><text transform="translate(119.8 90.85) scale(1.0 1.06)">CA</text><text transform="translate(142.1 93.45) scale(1.0 1.06)">SU</text><text transform="translate(123.6 97.85) scale(1.0 1.06)">WX</text><text transform="translate(93.7 99.15) scale(1.0 1.06)">WH</text><text transform="translate(152.2 100.35) scale(1.0 1.06)">SH</text><text transform="translate(83.5 105.15) scale(1.0 1.06)">TL</text><text transform="translate(106.7 107.95) scale(1.0 1.06)">XC</text><text transform="translate(126.2 107.35) scale(1.0 1.06)">HU</text><text transform="translate(140.1 108.65) scale(1.0 1.06)">JX</text><text transform="translate(63.1 110.95) scale(1.0 1.06)">AQ</text><text transform="translate(83.6 113.15) scale(1.0 1.06)">CI</text><text transform="translate(164.9 120.65) scale(1.0 1.06)">ZS</text><text transform="translate(91.2 122.05) scale(1.0 1.06)">HS</text><text transform="translate(115.9 122.35) scale(1.0 1.06)">HZ</text><text transform="translate(138.8 124.55) scale(1.0 1.06)">SX</text><text transform="translate(152.8 125.15) scale(1.0 1.06)">NB</text><text transform="translate(103.9 139.45) scale(1.0 1.06)">QZ</text><text transform="translate(123.3 136.35) scale(1.0 1.06)">JH</text><text transform="translate(146.9 142.05) scale(1.0 1.06)">TZ</text><text transform="translate(114.1 154.55) scale(1.0 1.06)">LS</text><text transform="translate(130 160.85) scale(1.0 1.06)">WZ</text></g>
<rect x="26.6" y="19.3" width="157.7" height="156.6" fill="none" stroke="#1a1a1a" stroke-width="1.3"/>
<text x="28.3" y="28.2" font-family="Liberation Serif" font-weight="normal" font-size="8.3" fill="#222">(a) 1995</text>
<text x="174.9" y="28" font-family="Liberation Sans" font-weight="bold" font-size="6.4" fill="#222" text-anchor="middle">N</text>
<path d="M174.7 30.3L169.7 47.2L175 42.3Z" fill="#111"/>
<path d="M174.7 30.3L179.9 47.1L175 42.3Z" fill="#fff" stroke="#111" stroke-width="0.6" stroke-linejoin="round"/>
<rect x="143.1" y="168.3" width="32.6" height="2.5" fill="#0a0a0a"/>
<rect x="151.9" y="169.1" width="7.2" height="0.9" fill="#d8d8d8"/>
<g font-family="Liberation Serif" font-weight="bold" font-size="3.9" fill="#333"><text x="143.3" y="166.4" text-anchor="middle">0</text><text x="151.1" y="166.4" text-anchor="middle">50</text><text x="159.3" y="166.4" text-anchor="middle">100</text><text x="175.5" y="166.4" text-anchor="middle">200</text><text x="176.6" y="170.7" font-weight="normal">km</text></g>
<g>
<path d="M232.9 35.3L233.2 33.4L234.8 31L238.6 30L241.2 29.7L243.6 31.1L245.8 33.5L247.8 36.2L250.6 37.4L255.1 37.6L258.6 36.3L261.8 35.9L264.6 36.4L266.4 38L268.6 38.8L271.2 38L272.6 39.4L271.9 42.2L268.8 43.4L265.6 44.6L264.4 45.8L265.9 46.8L266.4 49.4L265.5 51.9L263.9 52.2L261 51.9L258.8 50.4L257.3 49L255.4 46.2L252.1 45.4L248.7 44.7L246.1 43.8L244.8 42L243.2 39.7L240 37.9L236.1 36.4Z" fill="#f1c4d1"/>
<path d="M271.2 38L272.1 35.6L274.6 35L276.9 34L277.9 30.8L279.1 28.9L282.4 28.3L284.9 27L286.2 27.6L285.6 28.9L284.9 30.8L285.6 32.7L287.5 34L290.1 35.3L292.6 37.2L295 39.4L293.3 41.1L291.3 43L290.7 45L290.1 46.6L286.9 46.2L283.9 45.6L283.1 43.7L282.4 41.7L280.4 40.5L277.9 39.8L275.3 39.8L272.6 39.4Z" fill="#f1c4d1"/>
<path d="M238.4 46L236.7 43.6L233.5 41.4L230.4 39.4L230.3 36.8L232.9 35.3L236.1 36.4L240 37.9L243.2 39.7L244.8 42L246.1 43.8L248.7 44.7L252.1 45.4L255.4 46.2L257.3 49L258.8 50.4L261 51.9L263.9 52.2L265.5 51.9L265.1 53.9L264.4 56.9L263.8 59.3L263.9 60.2L262.4 60.4L259.5 59.9L256.6 59.1L253 57L250.1 56.4L247.9 57.7L244.2 57.9L244 55.5L243.8 52.6L244.1 48.9L243.9 45.4L241 45.6Z" fill="#f1c4d1"/>
<path d="M272.6 39.4L271.9 42.2L268.8 43.4L265.6 44.6L264.4 45.8L265.9 46.8L266.4 49.4L265.5 51.9L265.1 53.9L264.4 56.9L263.8 59.3L263.9 60.2L265.9 60.5L268.8 59.8L273.1 59L275.1 59.6L278.1 59.2L276.8 56.9L276.8 53.9L277.5 51L279.7 48.9L283.9 45.6L283.1 43.7L282.4 41.7L280.4 40.5L277.9 39.8L275.3 39.8Z" fill="#f1c4d1"/>
<path d="M263.9 60.2L264.8 61.3L264.4 62.4L266.7 63L268.2 66.5L270.9 68.9L274.5 68.3L277.7 66.7L281.3 67.3L283.4 68.5L284.6 69.5L285.8 68L286.2 65L285.1 62.5L285.1 60.5L286.9 58.8L289.9 58L289.4 56L290.4 52.5L291.6 48.8L290.1 46.6L286.9 46.2L283.9 45.6L279.7 48.9L277.5 51L276.8 53.9L276.8 56.9L278.1 59.2L275.1 59.6L273.1 59L268.8 59.8L265.9 60.5Z" fill="#f1c4d1"/>
<path d="M295 39.4L298.1 40L301.1 40.8L303.7 42.2L305.2 45L306.2 47.9L307.7 51.5L309.3 55.1L311.3 59.3L313.3 63L314.5 66.8L315.5 70.5L316.4 73.5L312.4 71.8L308.7 70.9L304.6 71.6L303.3 70L303.7 66.8L304.2 63.2L301.4 61.8L296.9 62.3L294.2 61.4L292.4 59.1L289.9 58L289.4 56L290.4 52.5L291.6 48.8L290.1 46.6L290.7 45L291.3 43L293.3 41.1Z" fill="#c9d8fa"/>
<path d="M235.6 50.8L237 49L237.8 47.5L238.4 46L241 45.6L243.9 45.4L244.1 48.9L243.8 52.6L244 55.5L244.2 57.9L239.8 57.3L237.4 55.4L236.2 53Z" fill="#e5e5e6"/>
<path d="M219.8 54.4L219.7 52L220 49.5L219.7 47.3L222.5 45.9L225.2 46.4L227.9 48.2L230.6 50.9L233.4 51.8L235.6 50.8L236.2 53L237.4 55.4L239.8 57.3L244.2 57.9L242 59.5L241.5 62L241.8 64.2L240.1 64.7L236.5 65.8L235.2 67.5L235.4 69.5L233.9 68.3L230.7 65.7L226.8 63.1L224.3 61.9L224.3 57.6L223.1 56L220.9 54.9Z" fill="#e5e5e6"/>
<path d="M224.4 72.8L222.3 74.1L220.4 75.3L217.8 74.1L215.3 72.1L213.3 70.8L212.7 67.6L211.8 66.3L209.6 65.8L207.8 64.8L207.2 63.2L208.1 62.2L211.1 62.2L213.6 61.6L214.7 60L215 58.2L215.5 56.5L216.6 55.2L218.7 54.6L219.8 54.4L220.9 54.9L223.1 56L224.3 57.6L224.3 61.9L226.8 63.1L230.7 65.7L233.9 68.3L235.4 69.5L235.9 71L236.6 72.6L234.5 74.1L232.6 73.4L230.7 73.4L228.1 74.1L226.2 73.4Z" fill="#c9d8fa"/>
<path d="M241.8 64.2L241.5 62L242 59.5L244.2 57.9L247.9 57.7L250.1 56.4L253 57L256.6 59.1L259.5 59.9L262.4 60.4L263.9 60.2L264.8 61.3L264.4 62.4L264.2 63.5L261.2 64.6L255.8 66.4L252.1 67.6L249.4 68.6L246.1 67.9L243.8 66.4Z" fill="#e5e5e6"/>
<path d="M235.4 69.5L235.2 67.5L236.5 65.8L240.1 64.7L241.8 64.2L243.8 66.4L246.1 67.9L249.4 68.6L249.4 71.2L248.4 74.1L246.5 76.5L245.2 79.5L245.1 81L242.8 82.8L239.8 84.4L237.8 82L237 79L237 75.6L236.6 72.6L235.9 71Z" fill="#e5e5e6"/>
<path d="M264.4 62.4L264.2 63.5L261.2 64.6L255.8 66.4L252.1 67.6L249.4 68.6L249.4 71.2L248.4 74.1L249.9 75.5L252.6 77L254.8 77.8L257 79L259.7 80.8L261.4 83.5L265 83.9L267.8 84.6L270.1 83.8L269.9 81.2L271.4 77.6L273.2 74.9L276.8 73L280.5 74.6L282.1 75.3L283.6 74L284.9 71.8L284.6 69.5L283.4 68.5L281.3 67.3L277.7 66.7L274.5 68.3L270.9 68.9L268.2 66.5L266.7 63Z" fill="#e5e5e6"/>
<path d="M226.4 100L224.6 98.8L222 98L219.4 96.8L217.6 95.2L216.6 92.8L217.8 91L220.4 89.4L223.8 88L225.6 85.8L225.6 82.5L224.9 77.3L224.4 72.8L226.2 73.4L228.1 74.1L230.7 73.4L232.6 73.4L234.5 74.1L236.6 72.6L237 75.6L237 79L237.8 82L239.8 84.4L240.8 87.4L243.1 89.5L246.1 90.9L247.8 92.2L247.1 95L244.9 96.8L242 98L237.4 98.2L232.9 99L229.2 98.5Z" fill="#e5e5e6"/>
<path d="M248.4 74.1L246.5 76.5L245.2 79.5L245.1 81L242.8 82.8L239.8 84.4L240.8 87.4L243.1 89.5L246.1 90.9L247.8 92.2L247.1 95L247.2 97.5L247.6 99.6L251.5 99.9L255.4 99.4L256.1 96.5L257.8 93.9L260.4 92L259.9 90L260.5 87.6L261.4 83.5L259.7 80.8L257 79L254.8 77.8L252.6 77L249.9 75.5Z" fill="#e5e5e6"/>
<path d="M289.9 58L286.9 58.8L285.1 60.5L285.1 62.5L286.2 65L285.8 68L284.6 69.5L284.9 71.8L283.6 74L282.1 75.3L283.1 78L287.6 78.3L291.6 78L296.9 77.8L296.9 73.6L296.4 70L295.6 65L294.2 61.4L292.4 59.1Z" fill="#c9d8fa"/>
<path d="M294.2 61.4L295.6 65L296.4 70L296.9 73.6L296.9 77.8L297.6 80L297.1 82L299.1 82.8L300.8 83.6L303.1 83.6L305.9 82.3L304.6 79.1L303.7 75.5L304.6 71.6L303.3 70L303.7 66.8L304.2 63.2L301.4 61.8L296.9 62.3Z" fill="#7c87dc"/>
<path d="M316.4 73.5L320.5 74.4L323.1 75.6L324.1 78L325.7 80.3L329 82.2L331.5 84L332.9 86.2L332.9 87.8L329.9 87.6L326.7 86.1L323.6 85.6L320.5 85.6L317.4 86.3L316.4 85.5L312.8 82.7L309.1 81.8L305.9 82.3L304.6 79.1L303.7 75.5L304.6 71.6L308.7 70.9L312.4 71.8Z" fill="#7c87dc"/>
<path d="M282.1 75.3L283.1 78L283.5 81.4L284.1 84.2L285.4 85.5L284.1 88.5L283.1 91.5L283.4 94.2L284.1 95.8L282.1 96.5L280.5 96.7L279.1 96.2L279.1 94.4L277.9 92.6L276.9 90.4L274.3 88.5L271.2 86.4L270.1 83.8L269.9 81.2L271.4 77.6L273.2 74.9L276.8 73L280.5 74.6Z" fill="#c9d8fa"/>
<path d="M283.1 78L287.6 78.3L291.6 78L296.9 77.8L297.6 80L297.1 82L295.5 82.7L292.8 84.3L289.1 83.6L285.4 85.5L284.1 84.2L283.5 81.4Z" fill="#c9d8fa"/>
<path d="M285.4 85.5L289.1 83.6L292.8 84.3L295.5 82.7L297.1 82L299.1 82.8L300.8 83.6L300.4 85.9L300.6 88.2L299.1 90.5L296.4 91L293.7 92.7L291 94.5L289.1 97.2L286.4 96.4L284.1 95.8L283.4 94.2L283.1 91.5L284.1 88.5Z" fill="#c9d8fa"/>
<path d="M300.8 83.6L303.1 83.6L305.9 82.3L308.6 84.5L309.6 87L309.1 90L305.9 92.5L302.3 95.4L299.6 97.3L297.1 98L295.1 99L292.6 99.5L291.1 98.8L289.1 97.2L291 94.5L293.7 92.7L296.4 91L299.1 90.5L300.6 88.2L300.4 85.9Z" fill="#c9d8fa"/>
<path d="M317.4 86.3L318.6 87.5L319.6 89.6L319.8 91.4L318.5 94.1L316.6 97.3L315.8 100L316.5 102.8L313.8 101.9L310.1 102.8L307.4 103.7L304.7 102.8L302.9 101.9L299.2 99.8L297.1 98L299.6 97.3L302.3 95.4L305.9 92.5L309.1 90L309.6 87L308.6 84.5L305.9 82.3L309.1 81.8L312.8 82.7L316.4 85.5Z" fill="#c9d8fa"/>
<path d="M319.8 91.4L322.3 91.9L324.9 92.8L327.5 93.8L330 96.1L332 98.6L332.6 101.2L332 103.1L330.1 104L326.5 104.8L322.9 105.6L320.1 106.5L318.3 104.6L316.5 102.8L315.8 100L316.6 97.3L318.5 94.1Z" fill="#f1c4d1"/>
<path d="M277.9 92.6L274.6 92.4L269.6 91.4L265 92.1L260.4 92L259.9 90L260.5 87.6L261.4 83.5L265 83.9L267.8 84.6L270.1 83.8L271.2 86.4L274.3 88.5L276.9 90.4Z" fill="#e5e5e6"/>
<path d="M255.4 99.4L259.7 99L263.4 99.9L265.2 101.2L264.3 104.4L264.4 107L266.1 106.2L269.2 103.6L272.8 100L275.5 96.6L279.1 96.2L279.1 94.4L277.9 92.6L274.6 92.4L269.6 91.4L265 92.1L260.4 92L257.8 93.9L256.1 96.5Z" fill="#c9d8fa"/>
<path d="M289.1 97.2L291.1 98.8L292.6 99.5L291.1 100.9L289.3 103.7L286.5 106.4L284.7 109.1L285.6 111.6L283.8 111.7L281.1 112.2L278.8 113.8L277.4 116.5L274.6 118.6L272.4 117.6L270.3 115.4L268.3 112.8L265.4 110.4L264.9 109L264.4 107L266.1 106.2L269.2 103.6L272.8 100L275.5 96.6L279.1 96.2L280.5 96.7L282.1 96.5L284.1 95.8L286.4 96.4Z" fill="#c9d8fa"/>
<path d="M247.6 99.6L247.8 103.5L249.2 106.6L252.4 105.6L256.1 104.9L259.7 104L262.5 102.6L265.2 101.2L263.4 99.9L259.7 99L255.4 99.4L251.5 99.9Z" fill="#c9d8fa"/>
<path d="M249.4 120.9L247.1 121.7L244.8 123.4L241.5 125.7L239.9 124.9L239.1 121L239.8 119.2L240.8 118.1L242.4 115.8L243.9 112.7L246.2 110.4L248.5 108.9L249.2 106.6L252.4 105.6L256.1 104.9L259.7 104L262.5 102.6L265.2 101.2L264.3 104.4L264.4 107L264.9 109L265.4 110.4L264.1 111.2L261.6 112.8L258.6 115.3L255.6 117.2L252.6 118.9Z" fill="#c9d8fa"/>
<path d="M239.8 119.2L238.5 119.9L235.4 120.6L232.3 121.6L230 120.4L229.3 118.1L227.7 115.8L226.2 113.5L225.4 110.4L223.9 107.3L223.1 104.9L224.6 102.4L226.4 100L229.2 98.5L232.9 99L237.4 98.2L242 98L244.9 96.8L247.1 95L247.2 97.5L247.6 99.6L247.8 103.5L249.2 106.6L248.5 108.9L246.2 110.4L243.9 112.7L242.4 115.8L240.8 118.1Z" fill="#7c87dc"/>
<path d="M267.7 128.8L266.3 128.6L262 127.5L256.5 125.3L252.6 123.2L249.4 120.9L252.6 118.9L255.6 117.2L258.6 115.3L261.6 112.8L264.1 111.2L265.4 110.4L268.3 112.8L270.3 115.4L272.4 117.6L274.6 118.6L276.5 120.5L276.5 123.7L273.8 126.4L270.6 129.2Z" fill="#c9d8fa"/>
<path d="M292.6 99.5L295.1 99L297.1 98L299.2 99.8L302.9 101.9L304.7 102.8L305.6 105.3L306.1 107.5L303.8 108.2L300.2 108.7L296.5 109.1L292.9 110L290.2 111L287.4 111.2L285.6 111.6L284.7 109.1L286.5 106.4L289.3 103.7L291.1 100.9Z" fill="#c9d8fa"/>
<path d="M320.1 106.5L318.5 108.4L316.3 109.5L313 110.6L309.8 111.5L307.2 112L306.8 110L306.1 107.5L305.6 105.3L304.7 102.8L307.4 103.7L310.1 102.8L313.8 101.9L316.5 102.8L318.3 104.6Z" fill="#c9d8fa"/>
<path d="M307.2 112L308.1 113L309.1 113.6L306.1 116.8L304.2 120.9L300.9 123.1L298.9 124.8L298.1 125.8L296.6 125.3L293.3 127.5L288.9 129.7L285.7 131.8L281.3 130.8L278 132.4L273.7 131.8L270.6 129.2L273.8 126.4L276.5 123.7L276.5 120.5L274.6 118.6L277.4 116.5L278.8 113.8L281.1 112.2L283.8 111.7L285.6 111.6L287.4 111.2L290.2 111L292.9 110L296.5 109.1L300.2 108.7L303.8 108.2L306.1 107.5L306.8 110Z" fill="#c9d8fa"/>
<path d="M309.1 113.6L311.1 114.5L313 115.5L315.1 116L317.4 115.3L317.8 120.9L318.4 125.3L319.5 129.7L320.1 133.2L316.2 133.3L312.9 131.8L309.6 132.9L306.4 130.8L302 128.6L298.7 126.4L298.1 125.8L298.9 124.8L300.9 123.1L304.2 120.9L306.1 116.8Z" fill="#c9d8fa"/>
<path d="M317.4 115.3L321.8 112.8L325 114.4L328.3 117.1L331.6 119.3L334.9 120.9L332.7 122.6L330.5 124.8L332.7 125.8L333.8 129.1L332.7 132.4L330.2 133.2L328.3 131.6L324 132.6L320.1 133.2L319.5 129.7L318.4 125.3L317.8 120.9Z" fill="#c9d8fa"/>
<path d="M285.7 131.8L286.8 136.2L288.1 139.5L289.1 142.5L291.1 143.6L295.5 141.7L299.1 140.8L303.3 140.6L306.1 140.3L307.1 136.5L309.6 132.9L306.4 130.8L302 128.6L298.7 126.4L298.1 125.8L296.6 125.3L293.3 127.5L288.9 129.7Z" fill="#c9d8fa"/>
<path d="M276.1 148.5L273.8 150L272 148.4L270.9 143L268.8 138.6L265.5 135.3L264.4 132L267.7 128.8L270.6 129.2L273.7 131.8L278 132.4L281.3 130.8L285.7 131.8L286.8 136.2L288.1 139.5L289.1 142.5L286.1 141.6L283.7 141.6L280.2 143.5L277.1 145.8Z" fill="#c9d8fa"/>
<path d="M330.2 133.2L327.3 135.9L327.3 140.3L328.4 143.6L327.3 146.9L324 150.1L320.6 152L319.1 148.5L316.4 146.2L312 147.6L307.8 149.2L307.1 147.5L306.8 144L306.1 140.3L307.1 136.5L309.6 132.9L312.9 131.8L316.2 133.3L320.1 133.2L324 132.6L328.3 131.6Z" fill="#c9d8fa"/>
<path d="M293.1 161L292.4 163.2L288 164.8L283.7 164.3L280.4 162.1L279.3 157.8L277.1 153.4L276.1 148.5L277.1 145.8L280.2 143.5L283.7 141.6L286.1 141.6L289.1 142.5L291.1 143.6L295.5 141.7L299.1 140.8L303.3 140.6L306.1 140.3L306.8 144L307.1 147.5L307.8 149.2L305.1 152.3L300 154.5L295.7 156.7Z" fill="#c9d8fa"/>
<path d="M320.6 152L318.6 154.5L317.5 156.7L315.3 158.8L312 161L309.9 163.2L308.8 166.5L306.6 168.7L304.4 167.6L301.1 166.5L297.9 165.4L294.6 162.1L293.1 161L295.7 156.7L300 154.5L305.1 152.3L307.8 149.2L312 147.6L316.4 146.2L319.1 148.5Z" fill="#c9d8fa"/>
<path d="M319.8 86.4L324.3 86.9L328.1 88.5L331.3 90.2L332.6 91.6L331.1 91.9L326.2 90.4L322.3 88.7L320.4 87.6Z" fill="#f1c4d1"/>
<path d="M334.1 114.5L336.1 113.2L338.1 114L338.6 116L337.1 117.5L335.1 117Z" fill="#c9d8fa"/>
<path d="M335.6 118.5L337.6 118L339.1 119.5L338.1 121.5L336.1 121Z" fill="#c9d8fa"/>
<path d="M339.6 115L341.1 114.5L341.6 116L340.1 116.8Z" fill="#c9d8fa"/>
<path d="M339.1 111L340.4 110.5L340.8 111.8L339.6 112.3Z" fill="#c9d8fa"/>
<path d="M232.9 35.3L233.2 33.4L234.8 31L238.6 30L241.2 29.7L243.6 31.1L245.8 33.5L247.8 36.2L250.6 37.4L255.1 37.6L258.6 36.3L261.8 35.9L264.6 36.4L266.4 38L268.6 38.8L271.2 38L272.6 39.4L271.9 42.2L268.8 43.4L265.6 44.6L264.4 45.8L265.9 46.8L266.4 49.4L265.5 51.9L263.9 52.2L261 51.9L258.8 50.4L257.3 49L255.4 46.2L252.1 45.4L248.7 44.7L246.1 43.8L244.8 42L243.2 39.7L240 37.9L236.1 36.4ZM271.2 38L272.1 35.6L274.6 35L276.9 34L277.9 30.8L279.1 28.9L282.4 28.3L284.9 27L286.2 27.6L285.6 28.9L284.9 30.8L285.6 32.7L287.5 34L290.1 35.3L292.6 37.2L295 39.4L293.3 41.1L291.3 43L290.7 45L290.1 46.6L286.9 46.2L283.9 45.6L283.1 43.7L282.4 41.7L280.4 40.5L277.9 39.8L275.3 39.8L272.6 39.4ZM238.4 46L236.7 43.6L233.5 41.4L230.4 39.4L230.3 36.8L232.9 35.3L236.1 36.4L240 37.9L243.2 39.7L244.8 42L246.1 43.8L248.7 44.7L252.1 45.4L255.4 46.2L257.3 49L258.8 50.4L261 51.9L263.9 52.2L265.5 51.9L265.1 53.9L264.4 56.9L263.8 59.3L263.9 60.2L262.4 60.4L259.5 59.9L256.6 59.1L253 57L250.1 56.4L247.9 57.7L244.2 57.9L244 55.5L243.8 52.6L244.1 48.9L243.9 45.4L241 45.6ZM272.6 39.4L271.9 42.2L268.8 43.4L265.6 44.6L264.4 45.8L265.9 46.8L266.4 49.4L265.5 51.9L265.1 53.9L264.4 56.9L263.8 59.3L263.9 60.2L265.9 60.5L268.8 59.8L273.1 59L275.1 59.6L278.1 59.2L276.8 56.9L276.8 53.9L277.5 51L279.7 48.9L283.9 45.6L283.1 43.7L282.4 41.7L280.4 40.5L277.9 39.8L275.3 39.8ZM263.9 60.2L264.8 61.3L264.4 62.4L266.7 63L268.2 66.5L270.9 68.9L274.5 68.3L277.7 66.7L281.3 67.3L283.4 68.5L284.6 69.5L285.8 68L286.2 65L285.1 62.5L285.1 60.5L286.9 58.8L289.9 58L289.4 56L290.4 52.5L291.6 48.8L290.1 46.6L286.9 46.2L283.9 45.6L279.7 48.9L277.5 51L276.8 53.9L276.8 56.9L278.1 59.2L275.1 59.6L273.1 59L268.8 59.8L265.9 60.5ZM295 39.4L298.1 40L301.1 40.8L303.7 42.2L305.2 45L306.2 47.9L307.7 51.5L309.3 55.1L311.3 59.3L313.3 63L314.5 66.8L315.5 70.5L316.4 73.5L312.4 71.8L308.7 70.9L304.6 71.6L303.3 70L303.7 66.8L304.2 63.2L301.4 61.8L296.9 62.3L294.2 61.4L292.4 59.1L289.9 58L289.4 56L290.4 52.5L291.6 48.8L290.1 46.6L290.7 45L291.3 43L293.3 41.1ZM235.6 50.8L237 49L237.8 47.5L238.4 46L241 45.6L243.9 45.4L244.1 48.9L243.8 52.6L244 55.5L244.2 57.9L239.8 57.3L237.4 55.4L236.2 53ZM219.8 54.4L219.7 52L220 49.5L219.7 47.3L222.5 45.9L225.2 46.4L227.9 48.2L230.6 50.9L233.4 51.8L235.6 50.8L236.2 53L237.4 55.4L239.8 57.3L244.2 57.9L242 59.5L241.5 62L241.8 64.2L240.1 64.7L236.5 65.8L235.2 67.5L235.4 69.5L233.9 68.3L230.7 65.7L226.8 63.1L224.3 61.9L224.3 57.6L223.1 56L220.9 54.9ZM224.4 72.8L222.3 74.1L220.4 75.3L217.8 74.1L215.3 72.1L213.3 70.8L212.7 67.6L211.8 66.3L209.6 65.8L207.8 64.8L207.2 63.2L208.1 62.2L211.1 62.2L213.6 61.6L214.7 60L215 58.2L215.5 56.5L216.6 55.2L218.7 54.6L219.8 54.4L220.9 54.9L223.1 56L224.3 57.6L224.3 61.9L226.8 63.1L230.7 65.7L233.9 68.3L235.4 69.5L235.9 71L236.6 72.6L234.5 74.1L232.6 73.4L230.7 73.4L228.1 74.1L226.2 73.4ZM241.8 64.2L241.5 62L242 59.5L244.2 57.9L247.9 57.7L250.1 56.4L253 57L256.6 59.1L259.5 59.9L262.4 60.4L263.9 60.2L264.8 61.3L264.4 62.4L264.2 63.5L261.2 64.6L255.8 66.4L252.1 67.6L249.4 68.6L246.1 67.9L243.8 66.4ZM235.4 69.5L235.2 67.5L236.5 65.8L240.1 64.7L241.8 64.2L243.8 66.4L246.1 67.9L249.4 68.6L249.4 71.2L248.4 74.1L246.5 76.5L245.2 79.5L245.1 81L242.8 82.8L239.8 84.4L237.8 82L237 79L237 75.6L236.6 72.6L235.9 71ZM264.4 62.4L264.2 63.5L261.2 64.6L255.8 66.4L252.1 67.6L249.4 68.6L249.4 71.2L248.4 74.1L249.9 75.5L252.6 77L254.8 77.8L257 79L259.7 80.8L261.4 83.5L265 83.9L267.8 84.6L270.1 83.8L269.9 81.2L271.4 77.6L273.2 74.9L276.8 73L280.5 74.6L282.1 75.3L283.6 74L284.9 71.8L284.6 69.5L283.4 68.5L281.3 67.3L277.7 66.7L274.5 68.3L270.9 68.9L268.2 66.5L266.7 63ZM226.4 100L224.6 98.8L222 98L219.4 96.8L217.6 95.2L216.6 92.8L217.8 91L220.4 89.4L223.8 88L225.6 85.8L225.6 82.5L224.9 77.3L224.4 72.8L226.2 73.4L228.1 74.1L230.7 73.4L232.6 73.4L234.5 74.1L236.6 72.6L237 75.6L237 79L237.8 82L239.8 84.4L240.8 87.4L243.1 89.5L246.1 90.9L247.8 92.2L247.1 95L244.9 96.8L242 98L237.4 98.2L232.9 99L229.2 98.5ZM248.4 74.1L246.5 76.5L245.2 79.5L245.1 81L242.8 82.8L239.8 84.4L240.8 87.4L243.1 89.5L246.1 90.9L247.8 92.2L247.1 95L247.2 97.5L247.6 99.6L251.5 99.9L255.4 99.4L256.1 96.5L257.8 93.9L260.4 92L259.9 90L260.5 87.6L261.4 83.5L259.7 80.8L257 79L254.8 77.8L252.6 77L249.9 75.5ZM289.9 58L286.9 58.8L285.1 60.5L285.1 62.5L286.2 65L285.8 68L284.6 69.5L284.9 71.8L283.6 74L282.1 75.3L283.1 78L287.6 78.3L291.6 78L296.9 77.8L296.9 73.6L296.4 70L295.6 65L294.2 61.4L292.4 59.1ZM294.2 61.4L295.6 65L296.4 70L296.9 73.6L296.9 77.8L297.6 80L297.1 82L299.1 82.8L300.8 83.6L303.1 83.6L305.9 82.3L304.6 79.1L303.7 75.5L304.6 71.6L303.3 70L303.7 66.8L304.2 63.2L301.4 61.8L296.9 62.3ZM316.4 73.5L320.5 74.4L323.1 75.6L324.1 78L325.7 80.3L329 82.2L331.5 84L332.9 86.2L332.9 87.8L329.9 87.6L326.7 86.1L323.6 85.6L320.5 85.6L317.4 86.3L316.4 85.5L312.8 82.7L309.1 81.8L305.9 82.3L304.6 79.1L303.7 75.5L304.6 71.6L308.7 70.9L312.4 71.8ZM282.1 75.3L283.1 78L283.5 81.4L284.1 84.2L285.4 85.5L284.1 88.5L283.1 91.5L283.4 94.2L284.1 95.8L282.1 96.5L280.5 96.7L279.1 96.2L279.1 94.4L277.9 92.6L276.9 90.4L274.3 88.5L271.2 86.4L270.1 83.8L269.9 81.2L271.4 77.6L273.2 74.9L276.8 73L280.5 74.6ZM283.1 78L287.6 78.3L291.6 78L296.9 77.8L297.6 80L297.1 82L295.5 82.7L292.8 84.3L289.1 83.6L285.4 85.5L284.1 84.2L283.5 81.4ZM285.4 85.5L289.1 83.6L292.8 84.3L295.5 82.7L297.1 82L299.1 82.8L300.8 83.6L300.4 85.9L300.6 88.2L299.1 90.5L296.4 91L293.7 92.7L291 94.5L289.1 97.2L286.4 96.4L284.1 95.8L283.4 94.2L283.1 91.5L284.1 88.5ZM300.8 83.6L303.1 83.6L305.9 82.3L308.6 84.5L309.6 87L309.1 90L305.9 92.5L302.3 95.4L299.6 97.3L297.1 98L295.1 99L292.6 99.5L291.1 98.8L289.1 97.2L291 94.5L293.7 92.7L296.4 91L299.1 90.5L300.6 88.2L300.4 85.9ZM317.4 86.3L318.6 87.5L319.6 89.6L319.8 91.4L318.5 94.1L316.6 97.3L315.8 100L316.5 102.8L313.8 101.9L310.1 102.8L307.4 103.7L304.7 102.8L302.9 101.9L299.2 99.8L297.1 98L299.6 97.3L302.3 95.4L305.9 92.5L309.1 90L309.6 87L308.6 84.5L305.9 82.3L309.1 81.8L312.8 82.7L316.4 85.5ZM319.8 91.4L322.3 91.9L324.9 92.8L327.5 93.8L330 96.1L332 98.6L332.6 101.2L332 103.1L330.1 104L326.5 104.8L322.9 105.6L320.1 106.5L318.3 104.6L316.5 102.8L315.8 100L316.6 97.3L318.5 94.1ZM277.9 92.6L274.6 92.4L269.6 91.4L265 92.1L260.4 92L259.9 90L260.5 87.6L261.4 83.5L265 83.9L267.8 84.6L270.1 83.8L271.2 86.4L274.3 88.5L276.9 90.4ZM255.4 99.4L259.7 99L263.4 99.9L265.2 101.2L264.3 104.4L264.4 107L266.1 106.2L269.2 103.6L272.8 100L275.5 96.6L279.1 96.2L279.1 94.4L277.9 92.6L274.6 92.4L269.6 91.4L265 92.1L260.4 92L257.8 93.9L256.1 96.5ZM289.1 97.2L291.1 98.8L292.6 99.5L291.1 100.9L289.3 103.7L286.5 106.4L284.7 109.1L285.6 111.6L283.8 111.7L281.1 112.2L278.8 113.8L277.4 116.5L274.6 118.6L272.4 117.6L270.3 115.4L268.3 112.8L265.4 110.4L264.9 109L264.4 107L266.1 106.2L269.2 103.6L272.8 100L275.5 96.6L279.1 96.2L280.5 96.7L282.1 96.5L284.1 95.8L286.4 96.4ZM247.6 99.6L247.8 103.5L249.2 106.6L252.4 105.6L256.1 104.9L259.7 104L262.5 102.6L265.2 101.2L263.4 99.9L259.7 99L255.4 99.4L251.5 99.9ZM249.4 120.9L247.1 121.7L244.8 123.4L241.5 125.7L239.9 124.9L239.1 121L239.8 119.2L240.8 118.1L242.4 115.8L243.9 112.7L246.2 110.4L248.5 108.9L249.2 106.6L252.4 105.6L256.1 104.9L259.7 104L262.5 102.6L265.2 101.2L264.3 104.4L264.4 107L264.9 109L265.4 110.4L264.1 111.2L261.6 112.8L258.6 115.3L255.6 117.2L252.6 118.9ZM239.8 119.2L238.5 119.9L235.4 120.6L232.3 121.6L230 120.4L229.3 118.1L227.7 115.8L226.2 113.5L225.4 110.4L223.9 107.3L223.1 104.9L224.6 102.4L226.4 100L229.2 98.5L232.9 99L237.4 98.2L242 98L244.9 96.8L247.1 95L247.2 97.5L247.6 99.6L247.8 103.5L249.2 106.6L248.5 108.9L246.2 110.4L243.9 112.7L242.4 115.8L240.8 118.1ZM267.7 128.8L266.3 128.6L262 127.5L256.5 125.3L252.6 123.2L249.4 120.9L252.6 118.9L255.6 117.2L258.6 115.3L261.6 112.8L264.1 111.2L265.4 110.4L268.3 112.8L270.3 115.4L272.4 117.6L274.6 118.6L276.5 120.5L276.5 123.7L273.8 126.4L270.6 129.2ZM292.6 99.5L295.1 99L297.1 98L299.2 99.8L302.9 101.9L304.7 102.8L305.6 105.3L306.1 107.5L303.8 108.2L300.2 108.7L296.5 109.1L292.9 110L290.2 111L287.4 111.2L285.6 111.6L284.7 109.1L286.5 106.4L289.3 103.7L291.1 100.9ZM320.1 106.5L318.5 108.4L316.3 109.5L313 110.6L309.8 111.5L307.2 112L306.8 110L306.1 107.5L305.6 105.3L304.7 102.8L307.4 103.7L310.1 102.8L313.8 101.9L316.5 102.8L318.3 104.6ZM307.2 112L308.1 113L309.1 113.6L306.1 116.8L304.2 120.9L300.9 123.1L298.9 124.8L298.1 125.8L296.6 125.3L293.3 127.5L288.9 129.7L285.7 131.8L281.3 130.8L278 132.4L273.7 131.8L270.6 129.2L273.8 126.4L276.5 123.7L276.5 120.5L274.6 118.6L277.4 116.5L278.8 113.8L281.1 112.2L283.8 111.7L285.6 111.6L287.4 111.2L290.2 111L292.9 110L296.5 109.1L300.2 108.7L303.8 108.2L306.1 107.5L306.8 110ZM309.1 113.6L311.1 114.5L313 115.5L315.1 116L317.4 115.3L317.8 120.9L318.4 125.3L319.5 129.7L320.1 133.2L316.2 133.3L312.9 131.8L309.6 132.9L306.4 130.8L302 128.6L298.7 126.4L298.1 125.8L298.9 124.8L300.9 123.1L304.2 120.9L306.1 116.8ZM317.4 115.3L321.8 112.8L325 114.4L328.3 117.1L331.6 119.3L334.9 120.9L332.7 122.6L330.5 124.8L332.7 125.8L333.8 129.1L332.7 132.4L330.2 133.2L328.3 131.6L324 132.6L320.1 133.2L319.5 129.7L318.4 125.3L317.8 120.9ZM285.7 131.8L286.8 136.2L288.1 139.5L289.1 142.5L291.1 143.6L295.5 141.7L299.1 140.8L303.3 140.6L306.1 140.3L307.1 136.5L309.6 132.9L306.4 130.8L302 128.6L298.7 126.4L298.1 125.8L296.6 125.3L293.3 127.5L288.9 129.7ZM276.1 148.5L273.8 150L272 148.4L270.9 143L268.8 138.6L265.5 135.3L264.4 132L267.7 128.8L270.6 129.2L273.7 131.8L278 132.4L281.3 130.8L285.7 131.8L286.8 136.2L288.1 139.5L289.1 142.5L286.1 141.6L283.7 141.6L280.2 143.5L277.1 145.8ZM330.2 133.2L327.3 135.9L327.3 140.3L328.4 143.6L327.3 146.9L324 150.1L320.6 152L319.1 148.5L316.4 146.2L312 147.6L307.8 149.2L307.1 147.5L306.8 144L306.1 140.3L307.1 136.5L309.6 132.9L312.9 131.8L316.2 133.3L320.1 133.2L324 132.6L328.3 131.6ZM293.1 161L292.4 163.2L288 164.8L283.7 164.3L280.4 162.1L279.3 157.8L277.1 153.4L276.1 148.5L277.1 145.8L280.2 143.5L283.7 141.6L286.1 141.6L289.1 142.5L291.1 143.6L295.5 141.7L299.1 140.8L303.3 140.6L306.1 140.3L306.8 144L307.1 147.5L307.8 149.2L305.1 152.3L300 154.5L295.7 156.7ZM320.6 152L318.6 154.5L317.5 156.7L315.3 158.8L312 161L309.9 163.2L308.8 166.5L306.6 168.7L304.4 167.6L301.1 166.5L297.9 165.4L294.6 162.1L293.1 161L295.7 156.7L300 154.5L305.1 152.3L307.8 149.2L312 147.6L316.4 146.2L319.1 148.5ZM319.8 86.4L324.3 86.9L328.1 88.5L331.3 90.2L332.6 91.6L331.1 91.9L326.2 90.4L322.3 88.7L320.4 87.6ZM334.1 114.5L336.1 113.2L338.1 114L338.6 116L337.1 117.5L335.1 117ZM335.6 118.5L337.6 118L339.1 119.5L338.1 121.5L336.1 121ZM339.6 115L341.1 114.5L341.6 116L340.1 116.8ZM339.1 111L340.4 110.5L340.8 111.8L339.6 112.3Z" fill="none" stroke="#808080" stroke-width="0.6" stroke-linejoin="round"/>
</g>
<g font-family="Liberation Serif" font-size="6.3" fill="#1e1e2a" text-anchor="middle"><text transform="translate(254.1 44.25) scale(1.0 1.06)">XZ</text><text transform="translate(282 38.95) scale(1.0 1.06)">LYG</text><text transform="translate(239.6 53.95) scale(1.0 1.06)">HB</text><text transform="translate(251.5 53.55) scale(1.0 1.06)">SZ</text><text transform="translate(272.1 52.85) scale(1.0 1.06)">SQ</text><text transform="translate(280.2 59.15) scale(1.0 1.06)">HA</text><text transform="translate(299.9 57.35) scale(1.0 1.06)">YC</text><text transform="translate(231.4 61.35) scale(1.0 1.06)">BZ</text><text transform="translate(251 63.95) scale(1.0 1.06)">BB</text><text transform="translate(219.1 68.35) scale(1.0 1.06)">FY</text><text transform="translate(241.3 77.45) scale(1.0 1.06)">HN</text><text transform="translate(260.6 75.25) scale(1.0 1.06)">CU</text><text transform="translate(290.6 74.05) scale(1.0 1.06)">YZ</text><text transform="translate(299.4 74.55) scale(1.0 1.06)">TA</text><text transform="translate(317.2 81.35) scale(1.0 1.06)">NT</text><text transform="translate(289.2 83.25) scale(1.0 1.06)">ZJ</text><text transform="translate(276.8 86.15) scale(1.0 1.06)">NJ</text><text transform="translate(253.1 88.95) scale(1.0 1.06)">HF</text><text transform="translate(232.4 88.85) scale(1.0 1.06)">LA</text><text transform="translate(265.2 91.35) scale(1.0 1.06)">MAS</text><text transform="translate(291.7 90.85) scale(1.0 1.06)">CA</text><text transform="translate(314 93.45) scale(1.0 1.06)">SU</text><text transform="translate(295.5 97.85) scale(1.0 1.06)">WX</text><text transform="translate(265.6 99.15) scale(1.0 1.06)">WH</text><text transform="translate(324.1 100.35) scale(1.0 1.06)">SH</text><text transform="translate(255.4 105.15) scale(1.0 1.06)">TL</text><text transform="translate(278.6 107.95) scale(1.0 1.06)">XC</text><text transform="translate(298.1 107.35) scale(1.0 1.06)">HU</text><text transform="translate(312 108.65) scale(1.0 1.06)">JX</text><text transform="translate(235 110.95) scale(1.0 1.06)">AQ</text><text transform="translate(255.5 113.15) scale(1.0 1.06)">CI</text><text transform="translate(336.8 120.65) scale(1.0 1.06)">ZS</text><text transform="translate(263.1 122.05) scale(1.0 1.06)">HS</text><text transform="translate(287.8 122.35) scale(1.0 1.06)">HZ</text><text transform="translate(310.7 124.55) scale(1.0 1.06)">SX</text><text transform="translate(324.7 125.15) scale(1.0 1.06)">NB</text><text transform="translate(275.8 139.45) scale(1.0 1.06)">QZ</text><text transform="translate(295.2 136.35) scale(1.0 1.06)">JH</text><text transform="translate(318.8 142.05) scale(1.0 1.06)">TZ</text><text transform="translate(286 154.55) scale(1.0 1.06)">LS</text><text transform="translate(301.9 160.85) scale(1.0 1.06)">WZ</text></g>
<rect x="198.6" y="19.3" width="157.6" height="156.6" fill="none" stroke="#1a1a1a" stroke-width="1.3"/>
<text x="200.3" y="28.2" font-family="Liberation Serif" font-weight="normal" font-size="8.3" fill="#222">(b) 2000</text>
<text x="346.7" y="28" font-family="Liberation Sans" font-weight="bold" font-size="6.4" fill="#222" text-anchor="middle">N</text>
<path d="M346.5 30.3L341.5 47.2L346.8 42.3Z" fill="#111"/>
<path d="M346.5 30.3L351.7 47.1L346.8 42.3Z" fill="#fff" stroke="#111" stroke-width="0.6" stroke-linejoin="round"/>
<rect x="315" y="168.3" width="32.6" height="2.5" fill="#0a0a0a"/>
<rect x="323.8" y="169.1" width="7.2" height="0.9" fill="#d8d8d8"/>
<g font-family="Liberation Serif" font-weight="bold" font-size="3.9" fill="#333"><text x="315.2" y="166.4" text-anchor="middle">0</text><text x="323" y="166.4" text-anchor="middle">50</text><text x="331.2" y="166.4" text-anchor="middle">100</text><text x="347.4" y="166.4" text-anchor="middle">200</text><text x="348.5" y="170.7" font-weight="normal">km</text></g>
<g>
<path d="M398.4 35.3L398.7 33.4L400.3 31L404.1 30L406.7 29.7L409.1 31.1L411.3 33.5L413.3 36.2L416.1 37.4L420.6 37.6L424.1 36.3L427.3 35.9L430.1 36.4L431.9 38L434.1 38.8L436.7 38L438.1 39.4L437.4 42.2L434.3 43.4L431.1 44.6L429.9 45.8L431.4 46.8L431.9 49.4L431 51.9L429.4 52.2L426.5 51.9L424.3 50.4L422.8 49L420.9 46.2L417.6 45.4L414.2 44.7L411.6 43.8L410.3 42L408.7 39.7L405.5 37.9L401.6 36.4Z" fill="#f1c4d1"/>
<path d="M436.7 38L437.6 35.6L440.1 35L442.4 34L443.4 30.8L444.6 28.9L447.9 28.3L450.4 27L451.7 27.6L451.1 28.9L450.4 30.8L451.1 32.7L453 34L455.6 35.3L458.1 37.2L460.5 39.4L458.8 41.1L456.8 43L456.2 45L455.6 46.6L452.4 46.2L449.4 45.6L448.6 43.7L447.9 41.7L445.9 40.5L443.4 39.8L440.8 39.8L438.1 39.4Z" fill="#f1c4d1"/>
<path d="M403.9 46L402.2 43.6L399 41.4L395.9 39.4L395.8 36.8L398.4 35.3L401.6 36.4L405.5 37.9L408.7 39.7L410.3 42L411.6 43.8L414.2 44.7L417.6 45.4L420.9 46.2L422.8 49L424.3 50.4L426.5 51.9L429.4 52.2L431 51.9L430.6 53.9L429.9 56.9L429.3 59.3L429.4 60.2L427.9 60.4L425 59.9L422.1 59.1L418.5 57L415.6 56.4L413.4 57.7L409.7 57.9L409.5 55.5L409.3 52.6L409.6 48.9L409.4 45.4L406.5 45.6Z" fill="#f1c4d1"/>
<path d="M438.1 39.4L437.4 42.2L434.3 43.4L431.1 44.6L429.9 45.8L431.4 46.8L431.9 49.4L431 51.9L430.6 53.9L429.9 56.9L429.3 59.3L429.4 60.2L431.4 60.5L434.3 59.8L438.6 59L440.6 59.6L443.6 59.2L442.3 56.9L442.3 53.9L443 51L445.2 48.9L449.4 45.6L448.6 43.7L447.9 41.7L445.9 40.5L443.4 39.8L440.8 39.8Z" fill="#f1c4d1"/>
<path d="M429.4 60.2L430.3 61.3L429.9 62.4L432.2 63L433.7 66.5L436.4 68.9L440 68.3L443.2 66.7L446.8 67.3L448.9 68.5L450.1 69.5L451.3 68L451.7 65L450.6 62.5L450.6 60.5L452.4 58.8L455.4 58L454.9 56L455.9 52.5L457.1 48.8L455.6 46.6L452.4 46.2L449.4 45.6L445.2 48.9L443 51L442.3 53.9L442.3 56.9L443.6 59.2L440.6 59.6L438.6 59L434.3 59.8L431.4 60.5Z" fill="#f1c4d1"/>
<path d="M460.5 39.4L463.6 40L466.6 40.8L469.2 42.2L470.7 45L471.7 47.9L473.2 51.5L474.8 55.1L476.8 59.3L478.8 63L480 66.8L481 70.5L481.9 73.5L477.9 71.8L474.2 70.9L470.1 71.6L468.8 70L469.2 66.8L469.7 63.2L466.9 61.8L462.4 62.3L459.7 61.4L457.9 59.1L455.4 58L454.9 56L455.9 52.5L457.1 48.8L455.6 46.6L456.2 45L456.8 43L458.8 41.1Z" fill="#e5e5e6"/>
<path d="M401.1 50.8L402.5 49L403.3 47.5L403.9 46L406.5 45.6L409.4 45.4L409.6 48.9L409.3 52.6L409.5 55.5L409.7 57.9L405.3 57.3L402.9 55.4L401.7 53Z" fill="#e5e5e6"/>
<path d="M385.3 54.4L385.2 52L385.5 49.5L385.2 47.3L388 45.9L390.7 46.4L393.4 48.2L396.1 50.9L398.9 51.8L401.1 50.8L401.7 53L402.9 55.4L405.3 57.3L409.7 57.9L407.5 59.5L407 62L407.3 64.2L405.6 64.7L402 65.8L400.7 67.5L400.9 69.5L399.4 68.3L396.2 65.7L392.3 63.1L389.8 61.9L389.8 57.6L388.6 56L386.4 54.9Z" fill="#c9d8fa"/>
<path d="M389.9 72.8L387.8 74.1L385.9 75.3L383.3 74.1L380.8 72.1L378.8 70.8L378.2 67.6L377.3 66.3L375.1 65.8L373.3 64.8L372.7 63.2L373.6 62.2L376.6 62.2L379.1 61.6L380.2 60L380.5 58.2L381 56.5L382.1 55.2L384.2 54.6L385.3 54.4L386.4 54.9L388.6 56L389.8 57.6L389.8 61.9L392.3 63.1L396.2 65.7L399.4 68.3L400.9 69.5L401.4 71L402.1 72.6L400 74.1L398.1 73.4L396.2 73.4L393.6 74.1L391.7 73.4Z" fill="#c9d8fa"/>
<path d="M407.3 64.2L407 62L407.5 59.5L409.7 57.9L413.4 57.7L415.6 56.4L418.5 57L422.1 59.1L425 59.9L427.9 60.4L429.4 60.2L430.3 61.3L429.9 62.4L429.7 63.5L426.7 64.6L421.3 66.4L417.6 67.6L414.9 68.6L411.6 67.9L409.3 66.4Z" fill="#e5e5e6"/>
<path d="M400.9 69.5L400.7 67.5L402 65.8L405.6 64.7L407.3 64.2L409.3 66.4L411.6 67.9L414.9 68.6L414.9 71.2L413.9 74.1L412 76.5L410.7 79.5L410.6 81L408.3 82.8L405.3 84.4L403.3 82L402.5 79L402.5 75.6L402.1 72.6L401.4 71Z" fill="#c9d8fa"/>
<path d="M429.9 62.4L429.7 63.5L426.7 64.6L421.3 66.4L417.6 67.6L414.9 68.6L414.9 71.2L413.9 74.1L415.4 75.5L418.1 77L420.3 77.8L422.5 79L425.2 80.8L426.9 83.5L430.5 83.9L433.3 84.6L435.6 83.8L435.4 81.2L436.9 77.6L438.7 74.9L442.3 73L446 74.6L447.6 75.3L449.1 74L450.4 71.8L450.1 69.5L448.9 68.5L446.8 67.3L443.2 66.7L440 68.3L436.4 68.9L433.7 66.5L432.2 63Z" fill="#f1c4d1"/>
<path d="M391.9 100L390.1 98.8L387.5 98L384.9 96.8L383.1 95.2L382.1 92.8L383.3 91L385.9 89.4L389.3 88L391.1 85.8L391.1 82.5L390.4 77.3L389.9 72.8L391.7 73.4L393.6 74.1L396.2 73.4L398.1 73.4L400 74.1L402.1 72.6L402.5 75.6L402.5 79L403.3 82L405.3 84.4L406.3 87.4L408.6 89.5L411.6 90.9L413.3 92.2L412.6 95L410.4 96.8L407.5 98L402.9 98.2L398.4 99L394.7 98.5Z" fill="#c9d8fa"/>
<path d="M413.9 74.1L412 76.5L410.7 79.5L410.6 81L408.3 82.8L405.3 84.4L406.3 87.4L408.6 89.5L411.6 90.9L413.3 92.2L412.6 95L412.7 97.5L413.1 99.6L417 99.9L420.9 99.4L421.6 96.5L423.3 93.9L425.9 92L425.4 90L426 87.6L426.9 83.5L425.2 80.8L422.5 79L420.3 77.8L418.1 77L415.4 75.5Z" fill="#e5e5e6"/>
<path d="M455.4 58L452.4 58.8L450.6 60.5L450.6 62.5L451.7 65L451.3 68L450.1 69.5L450.4 71.8L449.1 74L447.6 75.3L448.6 78L453.1 78.3L457.1 78L462.4 77.8L462.4 73.6L461.9 70L461.1 65L459.7 61.4L457.9 59.1Z" fill="#e5e5e6"/>
<path d="M459.7 61.4L461.1 65L461.9 70L462.4 73.6L462.4 77.8L463.1 80L462.6 82L464.6 82.8L466.3 83.6L468.6 83.6L471.4 82.3L470.1 79.1L469.2 75.5L470.1 71.6L468.8 70L469.2 66.8L469.7 63.2L466.9 61.8L462.4 62.3Z" fill="#c9d8fa"/>
<path d="M481.9 73.5L486 74.4L488.6 75.6L489.6 78L491.2 80.3L494.5 82.2L497 84L498.4 86.2L498.4 87.8L495.4 87.6L492.2 86.1L489.1 85.6L486 85.6L482.9 86.3L481.9 85.5L478.3 82.7L474.6 81.8L471.4 82.3L470.1 79.1L469.2 75.5L470.1 71.6L474.2 70.9L477.9 71.8Z" fill="#e5e5e6"/>
<path d="M447.6 75.3L448.6 78L449 81.4L449.6 84.2L450.9 85.5L449.6 88.5L448.6 91.5L448.9 94.2L449.6 95.8L447.6 96.5L446 96.7L444.6 96.2L444.6 94.4L443.4 92.6L442.4 90.4L439.8 88.5L436.7 86.4L435.6 83.8L435.4 81.2L436.9 77.6L438.7 74.9L442.3 73L446 74.6Z" fill="#e5e5e6"/>
<path d="M448.6 78L453.1 78.3L457.1 78L462.4 77.8L463.1 80L462.6 82L461 82.7L458.3 84.3L454.6 83.6L450.9 85.5L449.6 84.2L449 81.4Z" fill="#e5e5e6"/>
<path d="M450.9 85.5L454.6 83.6L458.3 84.3L461 82.7L462.6 82L464.6 82.8L466.3 83.6L465.9 85.9L466.1 88.2L464.6 90.5L461.9 91L459.2 92.7L456.5 94.5L454.6 97.2L451.9 96.4L449.6 95.8L448.9 94.2L448.6 91.5L449.6 88.5Z" fill="#f1c4d1"/>
<path d="M466.3 83.6L468.6 83.6L471.4 82.3L474.1 84.5L475.1 87L474.6 90L471.4 92.5L467.8 95.4L465.1 97.3L462.6 98L460.6 99L458.1 99.5L456.6 98.8L454.6 97.2L456.5 94.5L459.2 92.7L461.9 91L464.6 90.5L466.1 88.2L465.9 85.9Z" fill="#e5e5e6"/>
<path d="M482.9 86.3L484.1 87.5L485.1 89.6L485.3 91.4L484 94.1L482.1 97.3L481.3 100L482 102.8L479.3 101.9L475.6 102.8L472.9 103.7L470.2 102.8L468.4 101.9L464.7 99.8L462.6 98L465.1 97.3L467.8 95.4L471.4 92.5L474.6 90L475.1 87L474.1 84.5L471.4 82.3L474.6 81.8L478.3 82.7L481.9 85.5Z" fill="#ec8dab"/>
<path d="M485.3 91.4L487.8 91.9L490.4 92.8L493 93.8L495.5 96.1L497.5 98.6L498.1 101.2L497.5 103.1L495.6 104L492 104.8L488.4 105.6L485.6 106.5L483.8 104.6L482 102.8L481.3 100L482.1 97.3L484 94.1Z" fill="#ec8dab"/>
<path d="M443.4 92.6L440.1 92.4L435.1 91.4L430.5 92.1L425.9 92L425.4 90L426 87.6L426.9 83.5L430.5 83.9L433.3 84.6L435.6 83.8L436.7 86.4L439.8 88.5L442.4 90.4Z" fill="#e5e5e6"/>
<path d="M420.9 99.4L425.2 99L428.9 99.9L430.7 101.2L429.8 104.4L429.9 107L431.6 106.2L434.7 103.6L438.3 100L441 96.6L444.6 96.2L444.6 94.4L443.4 92.6L440.1 92.4L435.1 91.4L430.5 92.1L425.9 92L423.3 93.9L421.6 96.5Z" fill="#e5e5e6"/>
<path d="M454.6 97.2L456.6 98.8L458.1 99.5L456.6 100.9L454.8 103.7L452 106.4L450.2 109.1L451.1 111.6L449.3 111.7L446.6 112.2L444.3 113.8L442.9 116.5L440.1 118.6L437.9 117.6L435.8 115.4L433.8 112.8L430.9 110.4L430.4 109L429.9 107L431.6 106.2L434.7 103.6L438.3 100L441 96.6L444.6 96.2L446 96.7L447.6 96.5L449.6 95.8L451.9 96.4Z" fill="#c9d8fa"/>
<path d="M413.1 99.6L413.3 103.5L414.7 106.6L417.9 105.6L421.6 104.9L425.2 104L428 102.6L430.7 101.2L428.9 99.9L425.2 99L420.9 99.4L417 99.9Z" fill="#c9d8fa"/>
<path d="M414.9 120.9L412.6 121.7L410.3 123.4L407 125.7L405.4 124.9L404.6 121L405.3 119.2L406.3 118.1L407.9 115.8L409.4 112.7L411.7 110.4L414 108.9L414.7 106.6L417.9 105.6L421.6 104.9L425.2 104L428 102.6L430.7 101.2L429.8 104.4L429.9 107L430.4 109L430.9 110.4L429.6 111.2L427.1 112.8L424.1 115.3L421.1 117.2L418.1 118.9Z" fill="#c9d8fa"/>
<path d="M405.3 119.2L404 119.9L400.9 120.6L397.8 121.6L395.5 120.4L394.8 118.1L393.2 115.8L391.7 113.5L390.9 110.4L389.4 107.3L388.6 104.9L390.1 102.4L391.9 100L394.7 98.5L398.4 99L402.9 98.2L407.5 98L410.4 96.8L412.6 95L412.7 97.5L413.1 99.6L413.3 103.5L414.7 106.6L414 108.9L411.7 110.4L409.4 112.7L407.9 115.8L406.3 118.1Z" fill="#7c87dc"/>
<path d="M433.2 128.8L431.8 128.6L427.5 127.5L422 125.3L418.1 123.2L414.9 120.9L418.1 118.9L421.1 117.2L424.1 115.3L427.1 112.8L429.6 111.2L430.9 110.4L433.8 112.8L435.8 115.4L437.9 117.6L440.1 118.6L442 120.5L442 123.7L439.3 126.4L436.1 129.2Z" fill="#c9d8fa"/>
<path d="M458.1 99.5L460.6 99L462.6 98L464.7 99.8L468.4 101.9L470.2 102.8L471.1 105.3L471.6 107.5L469.3 108.2L465.7 108.7L462 109.1L458.4 110L455.7 111L452.9 111.2L451.1 111.6L450.2 109.1L452 106.4L454.8 103.7L456.6 100.9Z" fill="#e5e5e6"/>
<path d="M485.6 106.5L484 108.4L481.8 109.5L478.5 110.6L475.3 111.5L472.7 112L472.3 110L471.6 107.5L471.1 105.3L470.2 102.8L472.9 103.7L475.6 102.8L479.3 101.9L482 102.8L483.8 104.6Z" fill="#e5e5e6"/>
<path d="M472.7 112L473.6 113L474.6 113.6L471.6 116.8L469.7 120.9L466.4 123.1L464.4 124.8L463.6 125.8L462.1 125.3L458.8 127.5L454.4 129.7L451.2 131.8L446.8 130.8L443.5 132.4L439.2 131.8L436.1 129.2L439.3 126.4L442 123.7L442 120.5L440.1 118.6L442.9 116.5L444.3 113.8L446.6 112.2L449.3 111.7L451.1 111.6L452.9 111.2L455.7 111L458.4 110L462 109.1L465.7 108.7L469.3 108.2L471.6 107.5L472.3 110Z" fill="#e5e5e6"/>
<path d="M474.6 113.6L476.6 114.5L478.5 115.5L480.6 116L482.9 115.3L483.3 120.9L483.9 125.3L485 129.7L485.6 133.2L481.7 133.3L478.4 131.8L475.1 132.9L471.9 130.8L467.5 128.6L464.2 126.4L463.6 125.8L464.4 124.8L466.4 123.1L469.7 120.9L471.6 116.8Z" fill="#e5e5e6"/>
<path d="M482.9 115.3L487.3 112.8L490.5 114.4L493.8 117.1L497.1 119.3L500.4 120.9L498.2 122.6L496 124.8L498.2 125.8L499.3 129.1L498.2 132.4L495.7 133.2L493.8 131.6L489.5 132.6L485.6 133.2L485 129.7L483.9 125.3L483.3 120.9Z" fill="#e5e5e6"/>
<path d="M451.2 131.8L452.3 136.2L453.6 139.5L454.6 142.5L456.6 143.6L461 141.7L464.6 140.8L468.8 140.6L471.6 140.3L472.6 136.5L475.1 132.9L471.9 130.8L467.5 128.6L464.2 126.4L463.6 125.8L462.1 125.3L458.8 127.5L454.4 129.7Z" fill="#c9d8fa"/>
<path d="M441.6 148.5L439.3 150L437.5 148.4L436.4 143L434.3 138.6L431 135.3L429.9 132L433.2 128.8L436.1 129.2L439.2 131.8L443.5 132.4L446.8 130.8L451.2 131.8L452.3 136.2L453.6 139.5L454.6 142.5L451.6 141.6L449.2 141.6L445.7 143.5L442.6 145.8Z" fill="#c9d8fa"/>
<path d="M495.7 133.2L492.8 135.9L492.8 140.3L493.9 143.6L492.8 146.9L489.5 150.1L486.1 152L484.6 148.5L481.9 146.2L477.5 147.6L473.3 149.2L472.6 147.5L472.3 144L471.6 140.3L472.6 136.5L475.1 132.9L478.4 131.8L481.7 133.3L485.6 133.2L489.5 132.6L493.8 131.6Z" fill="#c9d8fa"/>
<path d="M458.6 161L457.9 163.2L453.5 164.8L449.2 164.3L445.9 162.1L444.8 157.8L442.6 153.4L441.6 148.5L442.6 145.8L445.7 143.5L449.2 141.6L451.6 141.6L454.6 142.5L456.6 143.6L461 141.7L464.6 140.8L468.8 140.6L471.6 140.3L472.3 144L472.6 147.5L473.3 149.2L470.6 152.3L465.5 154.5L461.2 156.7Z" fill="#c9d8fa"/>
<path d="M486.1 152L484.1 154.5L483 156.7L480.8 158.8L477.5 161L475.4 163.2L474.3 166.5L472.1 168.7L469.9 167.6L466.6 166.5L463.4 165.4L460.1 162.1L458.6 161L461.2 156.7L465.5 154.5L470.6 152.3L473.3 149.2L477.5 147.6L481.9 146.2L484.6 148.5Z" fill="#c9d8fa"/>
<path d="M485.3 86.4L489.8 86.9L493.6 88.5L496.8 90.2L498.1 91.6L496.6 91.9L491.7 90.4L487.8 88.7L485.9 87.6Z" fill="#ec8dab"/>
<path d="M499.6 114.5L501.6 113.2L503.6 114L504.1 116L502.6 117.5L500.6 117Z" fill="#f1c4d1"/>
<path d="M501.1 118.5L503.1 118L504.6 119.5L503.6 121.5L501.6 121Z" fill="#f1c4d1"/>
<path d="M505.1 115L506.6 114.5L507.1 116L505.6 116.8Z" fill="#f1c4d1"/>
<path d="M504.6 111L505.9 110.5L506.3 111.8L505.1 112.3Z" fill="#f1c4d1"/>
<path d="M398.4 35.3L398.7 33.4L400.3 31L404.1 30L406.7 29.7L409.1 31.1L411.3 33.5L413.3 36.2L416.1 37.4L420.6 37.6L424.1 36.3L427.3 35.9L430.1 36.4L431.9 38L434.1 38.8L436.7 38L438.1 39.4L437.4 42.2L434.3 43.4L431.1 44.6L429.9 45.8L431.4 46.8L431.9 49.4L431 51.9L429.4 52.2L426.5 51.9L424.3 50.4L422.8 49L420.9 46.2L417.6 45.4L414.2 44.7L411.6 43.8L410.3 42L408.7 39.7L405.5 37.9L401.6 36.4ZM436.7 38L437.6 35.6L440.1 35L442.4 34L443.4 30.8L444.6 28.9L447.9 28.3L450.4 27L451.7 27.6L451.1 28.9L450.4 30.8L451.1 32.7L453 34L455.6 35.3L458.1 37.2L460.5 39.4L458.8 41.1L456.8 43L456.2 45L455.6 46.6L452.4 46.2L449.4 45.6L448.6 43.7L447.9 41.7L445.9 40.5L443.4 39.8L440.8 39.8L438.1 39.4ZM403.9 46L402.2 43.6L399 41.4L395.9 39.4L395.8 36.8L398.4 35.3L401.6 36.4L405.5 37.9L408.7 39.7L410.3 42L411.6 43.8L414.2 44.7L417.6 45.4L420.9 46.2L422.8 49L424.3 50.4L426.5 51.9L429.4 52.2L431 51.9L430.6 53.9L429.9 56.9L429.3 59.3L429.4 60.2L427.9 60.4L425 59.9L422.1 59.1L418.5 57L415.6 56.4L413.4 57.7L409.7 57.9L409.5 55.5L409.3 52.6L409.6 48.9L409.4 45.4L406.5 45.6ZM438.1 39.4L437.4 42.2L434.3 43.4L431.1 44.6L429.9 45.8L431.4 46.8L431.9 49.4L431 51.9L430.6 53.9L429.9 56.9L429.3 59.3L429.4 60.2L431.4 60.5L434.3 59.8L438.6 59L440.6 59.6L443.6 59.2L442.3 56.9L442.3 53.9L443 51L445.2 48.9L449.4 45.6L448.6 43.7L447.9 41.7L445.9 40.5L443.4 39.8L440.8 39.8ZM429.4 60.2L430.3 61.3L429.9 62.4L432.2 63L433.7 66.5L436.4 68.9L440 68.3L443.2 66.7L446.8 67.3L448.9 68.5L450.1 69.5L451.3 68L451.7 65L450.6 62.5L450.6 60.5L452.4 58.8L455.4 58L454.9 56L455.9 52.5L457.1 48.8L455.6 46.6L452.4 46.2L449.4 45.6L445.2 48.9L443 51L442.3 53.9L442.3 56.9L443.6 59.2L440.6 59.6L438.6 59L434.3 59.8L431.4 60.5ZM460.5 39.4L463.6 40L466.6 40.8L469.2 42.2L470.7 45L471.7 47.9L473.2 51.5L474.8 55.1L476.8 59.3L478.8 63L480 66.8L481 70.5L481.9 73.5L477.9 71.8L474.2 70.9L470.1 71.6L468.8 70L469.2 66.8L469.7 63.2L466.9 61.8L462.4 62.3L459.7 61.4L457.9 59.1L455.4 58L454.9 56L455.9 52.5L457.1 48.8L455.6 46.6L456.2 45L456.8 43L458.8 41.1ZM401.1 50.8L402.5 49L403.3 47.5L403.9 46L406.5 45.6L409.4 45.4L409.6 48.9L409.3 52.6L409.5 55.5L409.7 57.9L405.3 57.3L402.9 55.4L401.7 53ZM385.3 54.4L385.2 52L385.5 49.5L385.2 47.3L388 45.9L390.7 46.4L393.4 48.2L396.1 50.9L398.9 51.8L401.1 50.8L401.7 53L402.9 55.4L405.3 57.3L409.7 57.9L407.5 59.5L407 62L407.3 64.2L405.6 64.7L402 65.8L400.7 67.5L400.9 69.5L399.4 68.3L396.2 65.7L392.3 63.1L389.8 61.9L389.8 57.6L388.6 56L386.4 54.9ZM389.9 72.8L387.8 74.1L385.9 75.3L383.3 74.1L380.8 72.1L378.8 70.8L378.2 67.6L377.3 66.3L375.1 65.8L373.3 64.8L372.7 63.2L373.6 62.2L376.6 62.2L379.1 61.6L380.2 60L380.5 58.2L381 56.5L382.1 55.2L384.2 54.6L385.3 54.4L386.4 54.9L388.6 56L389.8 57.6L389.8 61.9L392.3 63.1L396.2 65.7L399.4 68.3L400.9 69.5L401.4 71L402.1 72.6L400 74.1L398.1 73.4L396.2 73.4L393.6 74.1L391.7 73.4ZM407.3 64.2L407 62L407.5 59.5L409.7 57.9L413.4 57.7L415.6 56.4L418.5 57L422.1 59.1L425 59.9L427.9 60.4L429.4 60.2L430.3 61.3L429.9 62.4L429.7 63.5L426.7 64.6L421.3 66.4L417.6 67.6L414.9 68.6L411.6 67.9L409.3 66.4ZM400.9 69.5L400.7 67.5L402 65.8L405.6 64.7L407.3 64.2L409.3 66.4L411.6 67.9L414.9 68.6L414.9 71.2L413.9 74.1L412 76.5L410.7 79.5L410.6 81L408.3 82.8L405.3 84.4L403.3 82L402.5 79L402.5 75.6L402.1 72.6L401.4 71ZM429.9 62.4L429.7 63.5L426.7 64.6L421.3 66.4L417.6 67.6L414.9 68.6L414.9 71.2L413.9 74.1L415.4 75.5L418.1 77L420.3 77.8L422.5 79L425.2 80.8L426.9 83.5L430.5 83.9L433.3 84.6L435.6 83.8L435.4 81.2L436.9 77.6L438.7 74.9L442.3 73L446 74.6L447.6 75.3L449.1 74L450.4 71.8L450.1 69.5L448.9 68.5L446.8 67.3L443.2 66.7L440 68.3L436.4 68.9L433.7 66.5L432.2 63ZM391.9 100L390.1 98.8L387.5 98L384.9 96.8L383.1 95.2L382.1 92.8L383.3 91L385.9 89.4L389.3 88L391.1 85.8L391.1 82.5L390.4 77.3L389.9 72.8L391.7 73.4L393.6 74.1L396.2 73.4L398.1 73.4L400 74.1L402.1 72.6L402.5 75.6L402.5 79L403.3 82L405.3 84.4L406.3 87.4L408.6 89.5L411.6 90.9L413.3 92.2L412.6 95L410.4 96.8L407.5 98L402.9 98.2L398.4 99L394.7 98.5ZM413.9 74.1L412 76.5L410.7 79.5L410.6 81L408.3 82.8L405.3 84.4L406.3 87.4L408.6 89.5L411.6 90.9L413.3 92.2L412.6 95L412.7 97.5L413.1 99.6L417 99.9L420.9 99.4L421.6 96.5L423.3 93.9L425.9 92L425.4 90L426 87.6L426.9 83.5L425.2 80.8L422.5 79L420.3 77.8L418.1 77L415.4 75.5ZM455.4 58L452.4 58.8L450.6 60.5L450.6 62.5L451.7 65L451.3 68L450.1 69.5L450.4 71.8L449.1 74L447.6 75.3L448.6 78L453.1 78.3L457.1 78L462.4 77.8L462.4 73.6L461.9 70L461.1 65L459.7 61.4L457.9 59.1ZM459.7 61.4L461.1 65L461.9 70L462.4 73.6L462.4 77.8L463.1 80L462.6 82L464.6 82.8L466.3 83.6L468.6 83.6L471.4 82.3L470.1 79.1L469.2 75.5L470.1 71.6L468.8 70L469.2 66.8L469.7 63.2L466.9 61.8L462.4 62.3ZM481.9 73.5L486 74.4L488.6 75.6L489.6 78L491.2 80.3L494.5 82.2L497 84L498.4 86.2L498.4 87.8L495.4 87.6L492.2 86.1L489.1 85.6L486 85.6L482.9 86.3L481.9 85.5L478.3 82.7L474.6 81.8L471.4 82.3L470.1 79.1L469.2 75.5L470.1 71.6L474.2 70.9L477.9 71.8ZM447.6 75.3L448.6 78L449 81.4L449.6 84.2L450.9 85.5L449.6 88.5L448.6 91.5L448.9 94.2L449.6 95.8L447.6 96.5L446 96.7L444.6 96.2L444.6 94.4L443.4 92.6L442.4 90.4L439.8 88.5L436.7 86.4L435.6 83.8L435.4 81.2L436.9 77.6L438.7 74.9L442.3 73L446 74.6ZM448.6 78L453.1 78.3L457.1 78L462.4 77.8L463.1 80L462.6 82L461 82.7L458.3 84.3L454.6 83.6L450.9 85.5L449.6 84.2L449 81.4ZM450.9 85.5L454.6 83.6L458.3 84.3L461 82.7L462.6 82L464.6 82.8L466.3 83.6L465.9 85.9L466.1 88.2L464.6 90.5L461.9 91L459.2 92.7L456.5 94.5L454.6 97.2L451.9 96.4L449.6 95.8L448.9 94.2L448.6 91.5L449.6 88.5ZM466.3 83.6L468.6 83.6L471.4 82.3L474.1 84.5L475.1 87L474.6 90L471.4 92.5L467.8 95.4L465.1 97.3L462.6 98L460.6 99L458.1 99.5L456.6 98.8L454.6 97.2L456.5 94.5L459.2 92.7L461.9 91L464.6 90.5L466.1 88.2L465.9 85.9ZM482.9 86.3L484.1 87.5L485.1 89.6L485.3 91.4L484 94.1L482.1 97.3L481.3 100L482 102.8L479.3 101.9L475.6 102.8L472.9 103.7L470.2 102.8L468.4 101.9L464.7 99.8L462.6 98L465.1 97.3L467.8 95.4L471.4 92.5L474.6 90L475.1 87L474.1 84.5L471.4 82.3L474.6 81.8L478.3 82.7L481.9 85.5ZM485.3 91.4L487.8 91.9L490.4 92.8L493 93.8L495.5 96.1L497.5 98.6L498.1 101.2L497.5 103.1L495.6 104L492 104.8L488.4 105.6L485.6 106.5L483.8 104.6L482 102.8L481.3 100L482.1 97.3L484 94.1ZM443.4 92.6L440.1 92.4L435.1 91.4L430.5 92.1L425.9 92L425.4 90L426 87.6L426.9 83.5L430.5 83.9L433.3 84.6L435.6 83.8L436.7 86.4L439.8 88.5L442.4 90.4ZM420.9 99.4L425.2 99L428.9 99.9L430.7 101.2L429.8 104.4L429.9 107L431.6 106.2L434.7 103.6L438.3 100L441 96.6L444.6 96.2L444.6 94.4L443.4 92.6L440.1 92.4L435.1 91.4L430.5 92.1L425.9 92L423.3 93.9L421.6 96.5ZM454.6 97.2L456.6 98.8L458.1 99.5L456.6 100.9L454.8 103.7L452 106.4L450.2 109.1L451.1 111.6L449.3 111.7L446.6 112.2L444.3 113.8L442.9 116.5L440.1 118.6L437.9 117.6L435.8 115.4L433.8 112.8L430.9 110.4L430.4 109L429.9 107L431.6 106.2L434.7 103.6L438.3 100L441 96.6L444.6 96.2L446 96.7L447.6 96.5L449.6 95.8L451.9 96.4ZM413.1 99.6L413.3 103.5L414.7 106.6L417.9 105.6L421.6 104.9L425.2 104L428 102.6L430.7 101.2L428.9 99.9L425.2 99L420.9 99.4L417 99.9ZM414.9 120.9L412.6 121.7L410.3 123.4L407 125.7L405.4 124.9L404.6 121L405.3 119.2L406.3 118.1L407.9 115.8L409.4 112.7L411.7 110.4L414 108.9L414.7 106.6L417.9 105.6L421.6 104.9L425.2 104L428 102.6L430.7 101.2L429.8 104.4L429.9 107L430.4 109L430.9 110.4L429.6 111.2L427.1 112.8L424.1 115.3L421.1 117.2L418.1 118.9ZM405.3 119.2L404 119.9L400.9 120.6L397.8 121.6L395.5 120.4L394.8 118.1L393.2 115.8L391.7 113.5L390.9 110.4L389.4 107.3L388.6 104.9L390.1 102.4L391.9 100L394.7 98.5L398.4 99L402.9 98.2L407.5 98L410.4 96.8L412.6 95L412.7 97.5L413.1 99.6L413.3 103.5L414.7 106.6L414 108.9L411.7 110.4L409.4 112.7L407.9 115.8L406.3 118.1ZM433.2 128.8L431.8 128.6L427.5 127.5L422 125.3L418.1 123.2L414.9 120.9L418.1 118.9L421.1 117.2L424.1 115.3L427.1 112.8L429.6 111.2L430.9 110.4L433.8 112.8L435.8 115.4L437.9 117.6L440.1 118.6L442 120.5L442 123.7L439.3 126.4L436.1 129.2ZM458.1 99.5L460.6 99L462.6 98L464.7 99.8L468.4 101.9L470.2 102.8L471.1 105.3L471.6 107.5L469.3 108.2L465.7 108.7L462 109.1L458.4 110L455.7 111L452.9 111.2L451.1 111.6L450.2 109.1L452 106.4L454.8 103.7L456.6 100.9ZM485.6 106.5L484 108.4L481.8 109.5L478.5 110.6L475.3 111.5L472.7 112L472.3 110L471.6 107.5L471.1 105.3L470.2 102.8L472.9 103.7L475.6 102.8L479.3 101.9L482 102.8L483.8 104.6ZM472.7 112L473.6 113L474.6 113.6L471.6 116.8L469.7 120.9L466.4 123.1L464.4 124.8L463.6 125.8L462.1 125.3L458.8 127.5L454.4 129.7L451.2 131.8L446.8 130.8L443.5 132.4L439.2 131.8L436.1 129.2L439.3 126.4L442 123.7L442 120.5L440.1 118.6L442.9 116.5L444.3 113.8L446.6 112.2L449.3 111.7L451.1 111.6L452.9 111.2L455.7 111L458.4 110L462 109.1L465.7 108.7L469.3 108.2L471.6 107.5L472.3 110ZM474.6 113.6L476.6 114.5L478.5 115.5L480.6 116L482.9 115.3L483.3 120.9L483.9 125.3L485 129.7L485.6 133.2L481.7 133.3L478.4 131.8L475.1 132.9L471.9 130.8L467.5 128.6L464.2 126.4L463.6 125.8L464.4 124.8L466.4 123.1L469.7 120.9L471.6 116.8ZM482.9 115.3L487.3 112.8L490.5 114.4L493.8 117.1L497.1 119.3L500.4 120.9L498.2 122.6L496 124.8L498.2 125.8L499.3 129.1L498.2 132.4L495.7 133.2L493.8 131.6L489.5 132.6L485.6 133.2L485 129.7L483.9 125.3L483.3 120.9ZM451.2 131.8L452.3 136.2L453.6 139.5L454.6 142.5L456.6 143.6L461 141.7L464.6 140.8L468.8 140.6L471.6 140.3L472.6 136.5L475.1 132.9L471.9 130.8L467.5 128.6L464.2 126.4L463.6 125.8L462.1 125.3L458.8 127.5L454.4 129.7ZM441.6 148.5L439.3 150L437.5 148.4L436.4 143L434.3 138.6L431 135.3L429.9 132L433.2 128.8L436.1 129.2L439.2 131.8L443.5 132.4L446.8 130.8L451.2 131.8L452.3 136.2L453.6 139.5L454.6 142.5L451.6 141.6L449.2 141.6L445.7 143.5L442.6 145.8ZM495.7 133.2L492.8 135.9L492.8 140.3L493.9 143.6L492.8 146.9L489.5 150.1L486.1 152L484.6 148.5L481.9 146.2L477.5 147.6L473.3 149.2L472.6 147.5L472.3 144L471.6 140.3L472.6 136.5L475.1 132.9L478.4 131.8L481.7 133.3L485.6 133.2L489.5 132.6L493.8 131.6ZM458.6 161L457.9 163.2L453.5 164.8L449.2 164.3L445.9 162.1L444.8 157.8L442.6 153.4L441.6 148.5L442.6 145.8L445.7 143.5L449.2 141.6L451.6 141.6L454.6 142.5L456.6 143.6L461 141.7L464.6 140.8L468.8 140.6L471.6 140.3L472.3 144L472.6 147.5L473.3 149.2L470.6 152.3L465.5 154.5L461.2 156.7ZM486.1 152L484.1 154.5L483 156.7L480.8 158.8L477.5 161L475.4 163.2L474.3 166.5L472.1 168.7L469.9 167.6L466.6 166.5L463.4 165.4L460.1 162.1L458.6 161L461.2 156.7L465.5 154.5L470.6 152.3L473.3 149.2L477.5 147.6L481.9 146.2L484.6 148.5ZM485.3 86.4L489.8 86.9L493.6 88.5L496.8 90.2L498.1 91.6L496.6 91.9L491.7 90.4L487.8 88.7L485.9 87.6ZM499.6 114.5L501.6 113.2L503.6 114L504.1 116L502.6 117.5L500.6 117ZM501.1 118.5L503.1 118L504.6 119.5L503.6 121.5L501.6 121ZM505.1 115L506.6 114.5L507.1 116L505.6 116.8ZM504.6 111L505.9 110.5L506.3 111.8L505.1 112.3Z" fill="none" stroke="#808080" stroke-width="0.6" stroke-linejoin="round"/>
</g>
<g font-family="Liberation Serif" font-size="6.3" fill="#1e1e2a" text-anchor="middle"><text transform="translate(419.6 44.25) scale(1.0 1.06)">XZ</text><text transform="translate(447.5 38.95) scale(1.0 1.06)">LYG</text><text transform="translate(405.1 53.95) scale(1.0 1.06)">HB</text><text transform="translate(417 53.55) scale(1.0 1.06)">SZ</text><text transform="translate(437.6 52.85) scale(1.0 1.06)">SQ</text><text transform="translate(445.7 59.15) scale(1.0 1.06)">HA</text><text transform="translate(465.4 57.35) scale(1.0 1.06)">YC</text><text transform="translate(396.9 61.35) scale(1.0 1.06)">BZ</text><text transform="translate(416.5 63.95) scale(1.0 1.06)">BB</text><text transform="translate(384.6 68.35) scale(1.0 1.06)">FY</text><text transform="translate(406.8 77.45) scale(1.0 1.06)">HN</text><text transform="translate(426.1 75.25) scale(1.0 1.06)">CU</text><text transform="translate(456.1 74.05) scale(1.0 1.06)">YZ</text><text transform="translate(464.9 74.55) scale(1.0 1.06)">TA</text><text transform="translate(482.7 81.35) scale(1.0 1.06)">NT</text><text transform="translate(454.7 83.25) scale(1.0 1.06)">ZJ</text><text transform="translate(442.3 86.15) scale(1.0 1.06)">NJ</text><text transform="translate(418.6 88.95) scale(1.0 1.06)">HF</text><text transform="translate(397.9 88.85) scale(1.0 1.06)">LA</text><text transform="translate(430.7 91.35) scale(1.0 1.06)">MAS</text><text transform="translate(457.2 90.85) scale(1.0 1.06)">CA</text><text transform="translate(479.5 93.45) scale(1.0 1.06)">SU</text><text transform="translate(461 97.85) scale(1.0 1.06)">WX</text><text transform="translate(431.1 99.15) scale(1.0 1.06)">WH</text><text transform="translate(489.6 100.35) scale(1.0 1.06)">SH</text><text transform="translate(420.9 105.15) scale(1.0 1.06)">TL</text><text transform="translate(444.1 107.95) scale(1.0 1.06)">XC</text><text transform="translate(463.6 107.35) scale(1.0 1.06)">HU</text><text transform="translate(477.5 108.65) scale(1.0 1.06)">JX</text><text transform="translate(400.5 110.95) scale(1.0 1.06)">AQ</text><text transform="translate(421 113.15) scale(1.0 1.06)">CI</text><text transform="translate(502.3 120.65) scale(1.0 1.06)">ZS</text><text transform="translate(428.6 122.05) scale(1.0 1.06)">HS</text><text transform="translate(453.3 122.35) scale(1.0 1.06)">HZ</text><text transform="translate(476.2 124.55) scale(1.0 1.06)">SX</text><text transform="translate(490.2 125.15) scale(1.0 1.06)">NB</text><text transform="translate(441.3 139.45) scale(1.0 1.06)">QZ</text><text transform="translate(460.7 136.35) scale(1.0 1.06)">JH</text><text transform="translate(484.3 142.05) scale(1.0 1.06)">TZ</text><text transform="translate(451.5 154.55) scale(1.0 1.06)">LS</text><text transform="translate(467.4 160.85) scale(1.0 1.06)">WZ</text></g>
<rect x="368.4" y="19.3" width="157" height="156.6" fill="none" stroke="#1a1a1a" stroke-width="1.3"/>
<text x="370.1" y="28.2" font-family="Liberation Serif" font-weight="normal" font-size="8.3" fill="#222">(c) 2005</text>
<text x="518.9" y="28" font-family="Liberation Sans" font-weight="bold" font-size="6.4" fill="#222" text-anchor="middle">N</text>
<path d="M518.7 30.3L513.7 47.2L519 42.3Z" fill="#111"/>
<path d="M518.7 30.3L523.9 47.1L519 42.3Z" fill="#fff" stroke="#111" stroke-width="0.6" stroke-linejoin="round"/>
<rect x="483.2" y="168.3" width="32.6" height="2.5" fill="#0a0a0a"/>
<rect x="492" y="169.1" width="7.2" height="0.9" fill="#d8d8d8"/>
<g font-family="Liberation Serif" font-weight="bold" font-size="3.9" fill="#333"><text x="483.4" y="166.4" text-anchor="middle">0</text><text x="491.2" y="166.4" text-anchor="middle">50</text><text x="499.4" y="166.4" text-anchor="middle">100</text><text x="515.6" y="166.4" text-anchor="middle">200</text><text x="516.7" y="170.7" font-weight="normal">km</text></g>
<g>
<path d="M60.1 201.3L60.4 199.4L62 197L65.8 196L68.4 195.7L70.8 197.1L73 199.5L75 202.2L77.8 203.4L82.3 203.6L85.8 202.3L89 201.9L91.8 202.4L93.6 204L95.8 204.8L98.4 204L99.8 205.4L99.1 208.2L96 209.4L92.8 210.6L91.6 211.8L93.1 212.8L93.6 215.4L92.7 217.9L91.1 218.2L88.2 217.9L86 216.4L84.5 215L82.6 212.2L79.3 211.4L75.9 210.7L73.3 209.8L72 208L70.4 205.7L67.2 203.9L63.3 202.4Z" fill="#f1c4d1"/>
<path d="M98.4 204L99.3 201.6L101.8 201L104.1 200L105.1 196.8L106.3 194.9L109.6 194.3L112.1 193L113.4 193.6L112.8 194.9L112.1 196.8L112.8 198.7L114.7 200L117.3 201.3L119.8 203.2L122.2 205.4L120.5 207.1L118.5 209L117.9 211L117.3 212.6L114.1 212.2L111.1 211.6L110.3 209.7L109.6 207.7L107.6 206.5L105.1 205.8L102.5 205.8L99.8 205.4Z" fill="#f1c4d1"/>
<path d="M65.6 212L63.9 209.6L60.7 207.4L57.6 205.4L57.5 202.8L60.1 201.3L63.3 202.4L67.2 203.9L70.4 205.7L72 208L73.3 209.8L75.9 210.7L79.3 211.4L82.6 212.2L84.5 215L86 216.4L88.2 217.9L91.1 218.2L92.7 217.9L92.3 219.9L91.6 222.9L91 225.3L91.1 226.2L89.6 226.4L86.7 225.9L83.8 225.1L80.2 223L77.3 222.4L75.1 223.7L71.4 223.9L71.2 221.5L71 218.6L71.3 214.9L71.1 211.4L68.2 211.6Z" fill="#f1c4d1"/>
<path d="M99.8 205.4L99.1 208.2L96 209.4L92.8 210.6L91.6 211.8L93.1 212.8L93.6 215.4L92.7 217.9L92.3 219.9L91.6 222.9L91 225.3L91.1 226.2L93.1 226.5L96 225.8L100.3 225L102.3 225.6L105.3 225.2L104 222.9L104 219.9L104.7 217L106.9 214.9L111.1 211.6L110.3 209.7L109.6 207.7L107.6 206.5L105.1 205.8L102.5 205.8Z" fill="#f1c4d1"/>
<path d="M91.1 226.2L92 227.3L91.6 228.4L93.9 229L95.4 232.5L98.1 234.9L101.7 234.3L104.9 232.7L108.5 233.3L110.6 234.5L111.8 235.5L113 234L113.4 231L112.3 228.5L112.3 226.5L114.1 224.8L117.1 224L116.6 222L117.6 218.5L118.8 214.8L117.3 212.6L114.1 212.2L111.1 211.6L106.9 214.9L104.7 217L104 219.9L104 222.9L105.3 225.2L102.3 225.6L100.3 225L96 225.8L93.1 226.5Z" fill="#f1c4d1"/>
<path d="M122.2 205.4L125.3 206L128.3 206.8L130.9 208.2L132.4 211L133.4 213.9L134.9 217.5L136.5 221.1L138.5 225.3L140.5 229L141.7 232.8L142.7 236.5L143.6 239.5L139.6 237.8L135.9 236.9L131.8 237.6L130.5 236L130.9 232.8L131.4 229.2L128.6 227.8L124.1 228.3L121.4 227.4L119.6 225.1L117.1 224L116.6 222L117.6 218.5L118.8 214.8L117.3 212.6L117.9 211L118.5 209L120.5 207.1Z" fill="#f1c4d1"/>
<path d="M62.8 216.8L64.2 215L65 213.5L65.6 212L68.2 211.6L71.1 211.4L71.3 214.9L71 218.6L71.2 221.5L71.4 223.9L67 223.3L64.6 221.4L63.4 219Z" fill="#e5e5e6"/>
<path d="M47 220.4L46.9 218L47.2 215.5L46.9 213.3L49.7 211.9L52.4 212.4L55.1 214.2L57.8 216.9L60.6 217.8L62.8 216.8L63.4 219L64.6 221.4L67 223.3L71.4 223.9L69.2 225.5L68.7 228L69 230.2L67.3 230.7L63.7 231.8L62.4 233.5L62.6 235.5L61.1 234.3L57.9 231.7L54 229.1L51.5 227.9L51.5 223.6L50.3 222L48.1 220.9Z" fill="#c9d8fa"/>
<path d="M51.6 238.8L49.5 240.1L47.6 241.3L45 240.1L42.5 238.1L40.5 236.8L39.9 233.6L39 232.3L36.8 231.8L35 230.8L34.4 229.2L35.3 228.2L38.3 228.2L40.8 227.6L41.9 226L42.2 224.2L42.7 222.5L43.8 221.2L45.9 220.6L47 220.4L48.1 220.9L50.3 222L51.5 223.6L51.5 227.9L54 229.1L57.9 231.7L61.1 234.3L62.6 235.5L63.1 237L63.8 238.6L61.7 240.1L59.8 239.4L57.9 239.4L55.3 240.1L53.4 239.4Z" fill="#7c87dc"/>
<path d="M69 230.2L68.7 228L69.2 225.5L71.4 223.9L75.1 223.7L77.3 222.4L80.2 223L83.8 225.1L86.7 225.9L89.6 226.4L91.1 226.2L92 227.3L91.6 228.4L91.4 229.5L88.4 230.6L83 232.4L79.3 233.6L76.6 234.6L73.3 233.9L71 232.4Z" fill="#e5e5e6"/>
<path d="M62.6 235.5L62.4 233.5L63.7 231.8L67.3 230.7L69 230.2L71 232.4L73.3 233.9L76.6 234.6L76.6 237.2L75.6 240.1L73.7 242.5L72.4 245.5L72.3 247L70 248.8L67 250.4L65 248L64.2 245L64.2 241.6L63.8 238.6L63.1 237Z" fill="#c9d8fa"/>
<path d="M91.6 228.4L91.4 229.5L88.4 230.6L83 232.4L79.3 233.6L76.6 234.6L76.6 237.2L75.6 240.1L77.1 241.5L79.8 243L82 243.8L84.2 245L86.9 246.8L88.6 249.5L92.2 249.9L95 250.6L97.3 249.8L97.1 247.2L98.6 243.6L100.4 240.9L104 239L107.7 240.6L109.3 241.3L110.8 240L112.1 237.8L111.8 235.5L110.6 234.5L108.5 233.3L104.9 232.7L101.7 234.3L98.1 234.9L95.4 232.5L93.9 229Z" fill="#f1c4d1"/>
<path d="M53.6 266L51.8 264.8L49.2 264L46.6 262.8L44.8 261.2L43.8 258.8L45 257L47.6 255.4L51 254L52.8 251.8L52.8 248.5L52.1 243.3L51.6 238.8L53.4 239.4L55.3 240.1L57.9 239.4L59.8 239.4L61.7 240.1L63.8 238.6L64.2 241.6L64.2 245L65 248L67 250.4L68 253.4L70.3 255.5L73.3 256.9L75 258.2L74.3 261L72.1 262.8L69.2 264L64.6 264.2L60.1 265L56.4 264.5Z" fill="#7c87dc"/>
<path d="M75.6 240.1L73.7 242.5L72.4 245.5L72.3 247L70 248.8L67 250.4L68 253.4L70.3 255.5L73.3 256.9L75 258.2L74.3 261L74.4 263.5L74.8 265.6L78.7 265.9L82.6 265.4L83.3 262.5L85 259.9L87.6 258L87.1 256L87.7 253.6L88.6 249.5L86.9 246.8L84.2 245L82 243.8L79.8 243L77.1 241.5Z" fill="#c9d8fa"/>
<path d="M117.1 224L114.1 224.8L112.3 226.5L112.3 228.5L113.4 231L113 234L111.8 235.5L112.1 237.8L110.8 240L109.3 241.3L110.3 244L114.8 244.3L118.8 244L124.1 243.8L124.1 239.6L123.6 236L122.8 231L121.4 227.4L119.6 225.1Z" fill="#f1c4d1"/>
<path d="M121.4 227.4L122.8 231L123.6 236L124.1 239.6L124.1 243.8L124.8 246L124.3 248L126.3 248.8L128 249.6L130.3 249.6L133.1 248.3L131.8 245.1L130.9 241.5L131.8 237.6L130.5 236L130.9 232.8L131.4 229.2L128.6 227.8L124.1 228.3Z" fill="#e5e5e6"/>
<path d="M143.6 239.5L147.7 240.4L150.3 241.6L151.3 244L152.9 246.3L156.2 248.2L158.7 250L160.1 252.2L160.1 253.8L157.1 253.6L153.9 252.1L150.8 251.6L147.7 251.6L144.6 252.3L143.6 251.5L140 248.7L136.3 247.8L133.1 248.3L131.8 245.1L130.9 241.5L131.8 237.6L135.9 236.9L139.6 237.8Z" fill="#ec8dab"/>
<path d="M109.3 241.3L110.3 244L110.7 247.4L111.3 250.2L112.6 251.5L111.3 254.5L110.3 257.5L110.6 260.2L111.3 261.8L109.3 262.5L107.7 262.7L106.3 262.2L106.3 260.4L105.1 258.6L104.1 256.4L101.5 254.5L98.4 252.4L97.3 249.8L97.1 247.2L98.6 243.6L100.4 240.9L104 239L107.7 240.6Z" fill="#f1c4d1"/>
<path d="M110.3 244L114.8 244.3L118.8 244L124.1 243.8L124.8 246L124.3 248L122.7 248.7L120 250.3L116.3 249.6L112.6 251.5L111.3 250.2L110.7 247.4Z" fill="#f1c4d1"/>
<path d="M112.6 251.5L116.3 249.6L120 250.3L122.7 248.7L124.3 248L126.3 248.8L128 249.6L127.6 251.9L127.8 254.2L126.3 256.5L123.6 257L120.9 258.7L118.2 260.5L116.3 263.2L113.6 262.4L111.3 261.8L110.6 260.2L110.3 257.5L111.3 254.5Z" fill="#f1c4d1"/>
<path d="M128 249.6L130.3 249.6L133.1 248.3L135.8 250.5L136.8 253L136.3 256L133.1 258.5L129.5 261.4L126.8 263.3L124.3 264L122.3 265L119.8 265.5L118.3 264.8L116.3 263.2L118.2 260.5L120.9 258.7L123.6 257L126.3 256.5L127.8 254.2L127.6 251.9Z" fill="#f1c4d1"/>
<path d="M144.6 252.3L145.8 253.5L146.8 255.6L147 257.4L145.7 260.1L143.8 263.3L143 266L143.7 268.8L141 267.9L137.3 268.8L134.6 269.7L131.9 268.8L130.1 267.9L126.4 265.8L124.3 264L126.8 263.3L129.5 261.4L133.1 258.5L136.3 256L136.8 253L135.8 250.5L133.1 248.3L136.3 247.8L140 248.7L143.6 251.5Z" fill="#ec8dab"/>
<path d="M147 257.4L149.5 257.9L152.1 258.8L154.7 259.8L157.2 262.1L159.2 264.6L159.8 267.2L159.2 269.1L157.3 270L153.7 270.8L150.1 271.6L147.3 272.5L145.5 270.6L143.7 268.8L143 266L143.8 263.3L145.7 260.1Z" fill="#ec8dab"/>
<path d="M105.1 258.6L101.8 258.4L96.8 257.4L92.2 258.1L87.6 258L87.1 256L87.7 253.6L88.6 249.5L92.2 249.9L95 250.6L97.3 249.8L98.4 252.4L101.5 254.5L104.1 256.4Z" fill="#f1c4d1"/>
<path d="M82.6 265.4L86.9 265L90.6 265.9L92.4 267.2L91.5 270.4L91.6 273L93.3 272.2L96.4 269.6L100 266L102.7 262.6L106.3 262.2L106.3 260.4L105.1 258.6L101.8 258.4L96.8 257.4L92.2 258.1L87.6 258L85 259.9L83.3 262.5Z" fill="#f1c4d1"/>
<path d="M116.3 263.2L118.3 264.8L119.8 265.5L118.3 266.9L116.5 269.7L113.7 272.4L111.9 275.1L112.8 277.6L111 277.7L108.3 278.2L106 279.8L104.6 282.5L101.8 284.6L99.6 283.6L97.5 281.4L95.5 278.8L92.6 276.4L92.1 275L91.6 273L93.3 272.2L96.4 269.6L100 266L102.7 262.6L106.3 262.2L107.7 262.7L109.3 262.5L111.3 261.8L113.6 262.4Z" fill="#f1c4d1"/>
<path d="M74.8 265.6L75 269.5L76.4 272.6L79.6 271.6L83.3 270.9L86.9 270L89.7 268.6L92.4 267.2L90.6 265.9L86.9 265L82.6 265.4L78.7 265.9Z" fill="#e5e5e6"/>
<path d="M76.6 286.9L74.3 287.7L72 289.4L68.7 291.7L67.1 290.9L66.3 287L67 285.2L68 284.1L69.6 281.8L71.1 278.7L73.4 276.4L75.7 274.9L76.4 272.6L79.6 271.6L83.3 270.9L86.9 270L89.7 268.6L92.4 267.2L91.5 270.4L91.6 273L92.1 275L92.6 276.4L91.3 277.2L88.8 278.8L85.8 281.3L82.8 283.2L79.8 284.9Z" fill="#c9d8fa"/>
<path d="M67 285.2L65.7 285.9L62.6 286.6L59.5 287.6L57.2 286.4L56.5 284.1L54.9 281.8L53.4 279.5L52.6 276.4L51.1 273.3L50.3 270.9L51.8 268.4L53.6 266L56.4 264.5L60.1 265L64.6 264.2L69.2 264L72.1 262.8L74.3 261L74.4 263.5L74.8 265.6L75 269.5L76.4 272.6L75.7 274.9L73.4 276.4L71.1 278.7L69.6 281.8L68 284.1Z" fill="#c9d8fa"/>
<path d="M94.9 294.8L93.5 294.6L89.2 293.5L83.7 291.3L79.8 289.2L76.6 286.9L79.8 284.9L82.8 283.2L85.8 281.3L88.8 278.8L91.3 277.2L92.6 276.4L95.5 278.8L97.5 281.4L99.6 283.6L101.8 284.6L103.7 286.5L103.7 289.7L101 292.4L97.8 295.2Z" fill="#c9d8fa"/>
<path d="M119.8 265.5L122.3 265L124.3 264L126.4 265.8L130.1 267.9L131.9 268.8L132.8 271.3L133.3 273.5L131 274.2L127.4 274.7L123.7 275.1L120.1 276L117.4 277L114.6 277.2L112.8 277.6L111.9 275.1L113.7 272.4L116.5 269.7L118.3 266.9Z" fill="#f1c4d1"/>
<path d="M147.3 272.5L145.7 274.4L143.5 275.5L140.2 276.6L137 277.5L134.4 278L134 276L133.3 273.5L132.8 271.3L131.9 268.8L134.6 269.7L137.3 268.8L141 267.9L143.7 268.8L145.5 270.6Z" fill="#e5e5e6"/>
<path d="M134.4 278L135.3 279L136.3 279.6L133.3 282.8L131.4 286.9L128.1 289.1L126.1 290.8L125.3 291.8L123.8 291.3L120.5 293.5L116.1 295.7L112.9 297.8L108.5 296.8L105.2 298.4L100.9 297.8L97.8 295.2L101 292.4L103.7 289.7L103.7 286.5L101.8 284.6L104.6 282.5L106 279.8L108.3 278.2L111 277.7L112.8 277.6L114.6 277.2L117.4 277L120.1 276L123.7 275.1L127.4 274.7L131 274.2L133.3 273.5L134 276Z" fill="#e5e5e6"/>
<path d="M136.3 279.6L138.3 280.5L140.2 281.5L142.3 282L144.6 281.3L145 286.9L145.6 291.3L146.7 295.7L147.3 299.2L143.4 299.3L140.1 297.8L136.8 298.9L133.6 296.8L129.2 294.6L125.9 292.4L125.3 291.8L126.1 290.8L128.1 289.1L131.4 286.9L133.3 282.8Z" fill="#e5e5e6"/>
<path d="M144.6 281.3L149 278.8L152.2 280.4L155.5 283.1L158.8 285.3L162.1 286.9L159.9 288.6L157.7 290.8L159.9 291.8L161 295.1L159.9 298.4L157.4 299.2L155.5 297.6L151.2 298.6L147.3 299.2L146.7 295.7L145.6 291.3L145 286.9Z" fill="#e5e5e6"/>
<path d="M112.9 297.8L114 302.2L115.3 305.5L116.3 308.5L118.3 309.6L122.7 307.7L126.3 306.8L130.5 306.6L133.3 306.3L134.3 302.5L136.8 298.9L133.6 296.8L129.2 294.6L125.9 292.4L125.3 291.8L123.8 291.3L120.5 293.5L116.1 295.7Z" fill="#c9d8fa"/>
<path d="M103.3 314.5L101 316L99.2 314.4L98.1 309L96 304.6L92.7 301.3L91.6 298L94.9 294.8L97.8 295.2L100.9 297.8L105.2 298.4L108.5 296.8L112.9 297.8L114 302.2L115.3 305.5L116.3 308.5L113.3 307.6L110.9 307.6L107.4 309.5L104.3 311.8Z" fill="#c9d8fa"/>
<path d="M157.4 299.2L154.5 301.9L154.5 306.3L155.6 309.6L154.5 312.9L151.2 316.1L147.8 318L146.3 314.5L143.6 312.2L139.2 313.6L135 315.2L134.3 313.5L134 310L133.3 306.3L134.3 302.5L136.8 298.9L140.1 297.8L143.4 299.3L147.3 299.2L151.2 298.6L155.5 297.6Z" fill="#c9d8fa"/>
<path d="M120.3 327L119.6 329.2L115.2 330.8L110.9 330.3L107.6 328.1L106.5 323.8L104.3 319.4L103.3 314.5L104.3 311.8L107.4 309.5L110.9 307.6L113.3 307.6L116.3 308.5L118.3 309.6L122.7 307.7L126.3 306.8L130.5 306.6L133.3 306.3L134 310L134.3 313.5L135 315.2L132.3 318.3L127.2 320.5L122.9 322.7Z" fill="#c9d8fa"/>
<path d="M147.8 318L145.8 320.5L144.7 322.7L142.5 324.8L139.2 327L137.1 329.2L136 332.5L133.8 334.7L131.6 333.6L128.3 332.5L125.1 331.4L121.8 328.1L120.3 327L122.9 322.7L127.2 320.5L132.3 318.3L135 315.2L139.2 313.6L143.6 312.2L146.3 314.5Z" fill="#e5e5e6"/>
<path d="M147 252.4L151.5 252.9L155.3 254.5L158.5 256.2L159.8 257.6L158.3 257.9L153.4 256.4L149.5 254.7L147.6 253.6Z" fill="#ec8dab"/>
<path d="M161.3 280.5L163.3 279.2L165.3 280L165.8 282L164.3 283.5L162.3 283Z" fill="#e5e5e6"/>
<path d="M162.8 284.5L164.8 284L166.3 285.5L165.3 287.5L163.3 287Z" fill="#e5e5e6"/>
<path d="M166.8 281L168.3 280.5L168.8 282L167.3 282.8Z" fill="#e5e5e6"/>
<path d="M166.3 277L167.6 276.5L168 277.8L166.8 278.3Z" fill="#e5e5e6"/>
<path d="M60.1 201.3L60.4 199.4L62 197L65.8 196L68.4 195.7L70.8 197.1L73 199.5L75 202.2L77.8 203.4L82.3 203.6L85.8 202.3L89 201.9L91.8 202.4L93.6 204L95.8 204.8L98.4 204L99.8 205.4L99.1 208.2L96 209.4L92.8 210.6L91.6 211.8L93.1 212.8L93.6 215.4L92.7 217.9L91.1 218.2L88.2 217.9L86 216.4L84.5 215L82.6 212.2L79.3 211.4L75.9 210.7L73.3 209.8L72 208L70.4 205.7L67.2 203.9L63.3 202.4ZM98.4 204L99.3 201.6L101.8 201L104.1 200L105.1 196.8L106.3 194.9L109.6 194.3L112.1 193L113.4 193.6L112.8 194.9L112.1 196.8L112.8 198.7L114.7 200L117.3 201.3L119.8 203.2L122.2 205.4L120.5 207.1L118.5 209L117.9 211L117.3 212.6L114.1 212.2L111.1 211.6L110.3 209.7L109.6 207.7L107.6 206.5L105.1 205.8L102.5 205.8L99.8 205.4ZM65.6 212L63.9 209.6L60.7 207.4L57.6 205.4L57.5 202.8L60.1 201.3L63.3 202.4L67.2 203.9L70.4 205.7L72 208L73.3 209.8L75.9 210.7L79.3 211.4L82.6 212.2L84.5 215L86 216.4L88.2 217.9L91.1 218.2L92.7 217.9L92.3 219.9L91.6 222.9L91 225.3L91.1 226.2L89.6 226.4L86.7 225.9L83.8 225.1L80.2 223L77.3 222.4L75.1 223.7L71.4 223.9L71.2 221.5L71 218.6L71.3 214.9L71.1 211.4L68.2 211.6ZM99.8 205.4L99.1 208.2L96 209.4L92.8 210.6L91.6 211.8L93.1 212.8L93.6 215.4L92.7 217.9L92.3 219.9L91.6 222.9L91 225.3L91.1 226.2L93.1 226.5L96 225.8L100.3 225L102.3 225.6L105.3 225.2L104 222.9L104 219.9L104.7 217L106.9 214.9L111.1 211.6L110.3 209.7L109.6 207.7L107.6 206.5L105.1 205.8L102.5 205.8ZM91.1 226.2L92 227.3L91.6 228.4L93.9 229L95.4 232.5L98.1 234.9L101.7 234.3L104.9 232.7L108.5 233.3L110.6 234.5L111.8 235.5L113 234L113.4 231L112.3 228.5L112.3 226.5L114.1 224.8L117.1 224L116.6 222L117.6 218.5L118.8 214.8L117.3 212.6L114.1 212.2L111.1 211.6L106.9 214.9L104.7 217L104 219.9L104 222.9L105.3 225.2L102.3 225.6L100.3 225L96 225.8L93.1 226.5ZM122.2 205.4L125.3 206L128.3 206.8L130.9 208.2L132.4 211L133.4 213.9L134.9 217.5L136.5 221.1L138.5 225.3L140.5 229L141.7 232.8L142.7 236.5L143.6 239.5L139.6 237.8L135.9 236.9L131.8 237.6L130.5 236L130.9 232.8L131.4 229.2L128.6 227.8L124.1 228.3L121.4 227.4L119.6 225.1L117.1 224L116.6 222L117.6 218.5L118.8 214.8L117.3 212.6L117.9 211L118.5 209L120.5 207.1ZM62.8 216.8L64.2 215L65 213.5L65.6 212L68.2 211.6L71.1 211.4L71.3 214.9L71 218.6L71.2 221.5L71.4 223.9L67 223.3L64.6 221.4L63.4 219ZM47 220.4L46.9 218L47.2 215.5L46.9 213.3L49.7 211.9L52.4 212.4L55.1 214.2L57.8 216.9L60.6 217.8L62.8 216.8L63.4 219L64.6 221.4L67 223.3L71.4 223.9L69.2 225.5L68.7 228L69 230.2L67.3 230.7L63.7 231.8L62.4 233.5L62.6 235.5L61.1 234.3L57.9 231.7L54 229.1L51.5 227.9L51.5 223.6L50.3 222L48.1 220.9ZM51.6 238.8L49.5 240.1L47.6 241.3L45 240.1L42.5 238.1L40.5 236.8L39.9 233.6L39 232.3L36.8 231.8L35 230.8L34.4 229.2L35.3 228.2L38.3 228.2L40.8 227.6L41.9 226L42.2 224.2L42.7 222.5L43.8 221.2L45.9 220.6L47 220.4L48.1 220.9L50.3 222L51.5 223.6L51.5 227.9L54 229.1L57.9 231.7L61.1 234.3L62.6 235.5L63.1 237L63.8 238.6L61.7 240.1L59.8 239.4L57.9 239.4L55.3 240.1L53.4 239.4ZM69 230.2L68.7 228L69.2 225.5L71.4 223.9L75.1 223.7L77.3 222.4L80.2 223L83.8 225.1L86.7 225.9L89.6 226.4L91.1 226.2L92 227.3L91.6 228.4L91.4 229.5L88.4 230.6L83 232.4L79.3 233.6L76.6 234.6L73.3 233.9L71 232.4ZM62.6 235.5L62.4 233.5L63.7 231.8L67.3 230.7L69 230.2L71 232.4L73.3 233.9L76.6 234.6L76.6 237.2L75.6 240.1L73.7 242.5L72.4 245.5L72.3 247L70 248.8L67 250.4L65 248L64.2 245L64.2 241.6L63.8 238.6L63.1 237ZM91.6 228.4L91.4 229.5L88.4 230.6L83 232.4L79.3 233.6L76.6 234.6L76.6 237.2L75.6 240.1L77.1 241.5L79.8 243L82 243.8L84.2 245L86.9 246.8L88.6 249.5L92.2 249.9L95 250.6L97.3 249.8L97.1 247.2L98.6 243.6L100.4 240.9L104 239L107.7 240.6L109.3 241.3L110.8 240L112.1 237.8L111.8 235.5L110.6 234.5L108.5 233.3L104.9 232.7L101.7 234.3L98.1 234.9L95.4 232.5L93.9 229ZM53.6 266L51.8 264.8L49.2 264L46.6 262.8L44.8 261.2L43.8 258.8L45 257L47.6 255.4L51 254L52.8 251.8L52.8 248.5L52.1 243.3L51.6 238.8L53.4 239.4L55.3 240.1L57.9 239.4L59.8 239.4L61.7 240.1L63.8 238.6L64.2 241.6L64.2 245L65 248L67 250.4L68 253.4L70.3 255.5L73.3 256.9L75 258.2L74.3 261L72.1 262.8L69.2 264L64.6 264.2L60.1 265L56.4 264.5ZM75.6 240.1L73.7 242.5L72.4 245.5L72.3 247L70 248.8L67 250.4L68 253.4L70.3 255.5L73.3 256.9L75 258.2L74.3 261L74.4 263.5L74.8 265.6L78.7 265.9L82.6 265.4L83.3 262.5L85 259.9L87.6 258L87.1 256L87.7 253.6L88.6 249.5L86.9 246.8L84.2 245L82 243.8L79.8 243L77.1 241.5ZM117.1 224L114.1 224.8L112.3 226.5L112.3 228.5L113.4 231L113 234L111.8 235.5L112.1 237.8L110.8 240L109.3 241.3L110.3 244L114.8 244.3L118.8 244L124.1 243.8L124.1 239.6L123.6 236L122.8 231L121.4 227.4L119.6 225.1ZM121.4 227.4L122.8 231L123.6 236L124.1 239.6L124.1 243.8L124.8 246L124.3 248L126.3 248.8L128 249.6L130.3 249.6L133.1 248.3L131.8 245.1L130.9 241.5L131.8 237.6L130.5 236L130.9 232.8L131.4 229.2L128.6 227.8L124.1 228.3ZM143.6 239.5L147.7 240.4L150.3 241.6L151.3 244L152.9 246.3L156.2 248.2L158.7 250L160.1 252.2L160.1 253.8L157.1 253.6L153.9 252.1L150.8 251.6L147.7 251.6L144.6 252.3L143.6 251.5L140 248.7L136.3 247.8L133.1 248.3L131.8 245.1L130.9 241.5L131.8 237.6L135.9 236.9L139.6 237.8ZM109.3 241.3L110.3 244L110.7 247.4L111.3 250.2L112.6 251.5L111.3 254.5L110.3 257.5L110.6 260.2L111.3 261.8L109.3 262.5L107.7 262.7L106.3 262.2L106.3 260.4L105.1 258.6L104.1 256.4L101.5 254.5L98.4 252.4L97.3 249.8L97.1 247.2L98.6 243.6L100.4 240.9L104 239L107.7 240.6ZM110.3 244L114.8 244.3L118.8 244L124.1 243.8L124.8 246L124.3 248L122.7 248.7L120 250.3L116.3 249.6L112.6 251.5L111.3 250.2L110.7 247.4ZM112.6 251.5L116.3 249.6L120 250.3L122.7 248.7L124.3 248L126.3 248.8L128 249.6L127.6 251.9L127.8 254.2L126.3 256.5L123.6 257L120.9 258.7L118.2 260.5L116.3 263.2L113.6 262.4L111.3 261.8L110.6 260.2L110.3 257.5L111.3 254.5ZM128 249.6L130.3 249.6L133.1 248.3L135.8 250.5L136.8 253L136.3 256L133.1 258.5L129.5 261.4L126.8 263.3L124.3 264L122.3 265L119.8 265.5L118.3 264.8L116.3 263.2L118.2 260.5L120.9 258.7L123.6 257L126.3 256.5L127.8 254.2L127.6 251.9ZM144.6 252.3L145.8 253.5L146.8 255.6L147 257.4L145.7 260.1L143.8 263.3L143 266L143.7 268.8L141 267.9L137.3 268.8L134.6 269.7L131.9 268.8L130.1 267.9L126.4 265.8L124.3 264L126.8 263.3L129.5 261.4L133.1 258.5L136.3 256L136.8 253L135.8 250.5L133.1 248.3L136.3 247.8L140 248.7L143.6 251.5ZM147 257.4L149.5 257.9L152.1 258.8L154.7 259.8L157.2 262.1L159.2 264.6L159.8 267.2L159.2 269.1L157.3 270L153.7 270.8L150.1 271.6L147.3 272.5L145.5 270.6L143.7 268.8L143 266L143.8 263.3L145.7 260.1ZM105.1 258.6L101.8 258.4L96.8 257.4L92.2 258.1L87.6 258L87.1 256L87.7 253.6L88.6 249.5L92.2 249.9L95 250.6L97.3 249.8L98.4 252.4L101.5 254.5L104.1 256.4ZM82.6 265.4L86.9 265L90.6 265.9L92.4 267.2L91.5 270.4L91.6 273L93.3 272.2L96.4 269.6L100 266L102.7 262.6L106.3 262.2L106.3 260.4L105.1 258.6L101.8 258.4L96.8 257.4L92.2 258.1L87.6 258L85 259.9L83.3 262.5ZM116.3 263.2L118.3 264.8L119.8 265.5L118.3 266.9L116.5 269.7L113.7 272.4L111.9 275.1L112.8 277.6L111 277.7L108.3 278.2L106 279.8L104.6 282.5L101.8 284.6L99.6 283.6L97.5 281.4L95.5 278.8L92.6 276.4L92.1 275L91.6 273L93.3 272.2L96.4 269.6L100 266L102.7 262.6L106.3 262.2L107.7 262.7L109.3 262.5L111.3 261.8L113.6 262.4ZM74.8 265.6L75 269.5L76.4 272.6L79.6 271.6L83.3 270.9L86.9 270L89.7 268.6L92.4 267.2L90.6 265.9L86.9 265L82.6 265.4L78.7 265.9ZM76.6 286.9L74.3 287.7L72 289.4L68.7 291.7L67.1 290.9L66.3 287L67 285.2L68 284.1L69.6 281.8L71.1 278.7L73.4 276.4L75.7 274.9L76.4 272.6L79.6 271.6L83.3 270.9L86.9 270L89.7 268.6L92.4 267.2L91.5 270.4L91.6 273L92.1 275L92.6 276.4L91.3 277.2L88.8 278.8L85.8 281.3L82.8 283.2L79.8 284.9ZM67 285.2L65.7 285.9L62.6 286.6L59.5 287.6L57.2 286.4L56.5 284.1L54.9 281.8L53.4 279.5L52.6 276.4L51.1 273.3L50.3 270.9L51.8 268.4L53.6 266L56.4 264.5L60.1 265L64.6 264.2L69.2 264L72.1 262.8L74.3 261L74.4 263.5L74.8 265.6L75 269.5L76.4 272.6L75.7 274.9L73.4 276.4L71.1 278.7L69.6 281.8L68 284.1ZM94.9 294.8L93.5 294.6L89.2 293.5L83.7 291.3L79.8 289.2L76.6 286.9L79.8 284.9L82.8 283.2L85.8 281.3L88.8 278.8L91.3 277.2L92.6 276.4L95.5 278.8L97.5 281.4L99.6 283.6L101.8 284.6L103.7 286.5L103.7 289.7L101 292.4L97.8 295.2ZM119.8 265.5L122.3 265L124.3 264L126.4 265.8L130.1 267.9L131.9 268.8L132.8 271.3L133.3 273.5L131 274.2L127.4 274.7L123.7 275.1L120.1 276L117.4 277L114.6 277.2L112.8 277.6L111.9 275.1L113.7 272.4L116.5 269.7L118.3 266.9ZM147.3 272.5L145.7 274.4L143.5 275.5L140.2 276.6L137 277.5L134.4 278L134 276L133.3 273.5L132.8 271.3L131.9 268.8L134.6 269.7L137.3 268.8L141 267.9L143.7 268.8L145.5 270.6ZM134.4 278L135.3 279L136.3 279.6L133.3 282.8L131.4 286.9L128.1 289.1L126.1 290.8L125.3 291.8L123.8 291.3L120.5 293.5L116.1 295.7L112.9 297.8L108.5 296.8L105.2 298.4L100.9 297.8L97.8 295.2L101 292.4L103.7 289.7L103.7 286.5L101.8 284.6L104.6 282.5L106 279.8L108.3 278.2L111 277.7L112.8 277.6L114.6 277.2L117.4 277L120.1 276L123.7 275.1L127.4 274.7L131 274.2L133.3 273.5L134 276ZM136.3 279.6L138.3 280.5L140.2 281.5L142.3 282L144.6 281.3L145 286.9L145.6 291.3L146.7 295.7L147.3 299.2L143.4 299.3L140.1 297.8L136.8 298.9L133.6 296.8L129.2 294.6L125.9 292.4L125.3 291.8L126.1 290.8L128.1 289.1L131.4 286.9L133.3 282.8ZM144.6 281.3L149 278.8L152.2 280.4L155.5 283.1L158.8 285.3L162.1 286.9L159.9 288.6L157.7 290.8L159.9 291.8L161 295.1L159.9 298.4L157.4 299.2L155.5 297.6L151.2 298.6L147.3 299.2L146.7 295.7L145.6 291.3L145 286.9ZM112.9 297.8L114 302.2L115.3 305.5L116.3 308.5L118.3 309.6L122.7 307.7L126.3 306.8L130.5 306.6L133.3 306.3L134.3 302.5L136.8 298.9L133.6 296.8L129.2 294.6L125.9 292.4L125.3 291.8L123.8 291.3L120.5 293.5L116.1 295.7ZM103.3 314.5L101 316L99.2 314.4L98.1 309L96 304.6L92.7 301.3L91.6 298L94.9 294.8L97.8 295.2L100.9 297.8L105.2 298.4L108.5 296.8L112.9 297.8L114 302.2L115.3 305.5L116.3 308.5L113.3 307.6L110.9 307.6L107.4 309.5L104.3 311.8ZM157.4 299.2L154.5 301.9L154.5 306.3L155.6 309.6L154.5 312.9L151.2 316.1L147.8 318L146.3 314.5L143.6 312.2L139.2 313.6L135 315.2L134.3 313.5L134 310L133.3 306.3L134.3 302.5L136.8 298.9L140.1 297.8L143.4 299.3L147.3 299.2L151.2 298.6L155.5 297.6ZM120.3 327L119.6 329.2L115.2 330.8L110.9 330.3L107.6 328.1L106.5 323.8L104.3 319.4L103.3 314.5L104.3 311.8L107.4 309.5L110.9 307.6L113.3 307.6L116.3 308.5L118.3 309.6L122.7 307.7L126.3 306.8L130.5 306.6L133.3 306.3L134 310L134.3 313.5L135 315.2L132.3 318.3L127.2 320.5L122.9 322.7ZM147.8 318L145.8 320.5L144.7 322.7L142.5 324.8L139.2 327L137.1 329.2L136 332.5L133.8 334.7L131.6 333.6L128.3 332.5L125.1 331.4L121.8 328.1L120.3 327L122.9 322.7L127.2 320.5L132.3 318.3L135 315.2L139.2 313.6L143.6 312.2L146.3 314.5ZM147 252.4L151.5 252.9L155.3 254.5L158.5 256.2L159.8 257.6L158.3 257.9L153.4 256.4L149.5 254.7L147.6 253.6ZM161.3 280.5L163.3 279.2L165.3 280L165.8 282L164.3 283.5L162.3 283ZM162.8 284.5L164.8 284L166.3 285.5L165.3 287.5L163.3 287ZM166.8 281L168.3 280.5L168.8 282L167.3 282.8ZM166.3 277L167.6 276.5L168 277.8L166.8 278.3Z" fill="none" stroke="#808080" stroke-width="0.6" stroke-linejoin="round"/>
</g>
<g font-family="Liberation Serif" font-size="6.3" fill="#1e1e2a" text-anchor="middle"><text transform="translate(81.3 210.25) scale(1.0 1.06)">XZ</text><text transform="translate(109.2 204.95) scale(1.0 1.06)">LYG</text><text transform="translate(66.8 219.95) scale(1.0 1.06)">HB</text><text transform="translate(78.7 219.55) scale(1.0 1.06)">SZ</text><text transform="translate(99.3 218.85) scale(1.0 1.06)">SQ</text><text transform="translate(107.4 225.15) scale(1.0 1.06)">HA</text><text transform="translate(127.1 223.35) scale(1.0 1.06)">YC</text><text transform="translate(58.6 227.35) scale(1.0 1.06)">BZ</text><text transform="translate(78.2 229.95) scale(1.0 1.06)">BB</text><text transform="translate(46.3 234.35) scale(1.0 1.06)">FY</text><text transform="translate(68.5 243.45) scale(1.0 1.06)">HN</text><text transform="translate(87.8 241.25) scale(1.0 1.06)">CU</text><text transform="translate(117.8 240.05) scale(1.0 1.06)">YZ</text><text transform="translate(126.6 240.55) scale(1.0 1.06)">TA</text><text transform="translate(144.4 247.35) scale(1.0 1.06)">NT</text><text transform="translate(116.4 249.25) scale(1.0 1.06)">ZJ</text><text transform="translate(104 252.15) scale(1.0 1.06)">NJ</text><text transform="translate(80.3 254.95) scale(1.0 1.06)">HF</text><text transform="translate(59.6 254.85) scale(1.0 1.06)">LA</text><text transform="translate(92.4 257.35) scale(1.0 1.06)">MAS</text><text transform="translate(118.9 256.85) scale(1.0 1.06)">CA</text><text transform="translate(141.2 259.45) scale(1.0 1.06)">SU</text><text transform="translate(122.7 263.85) scale(1.0 1.06)">WX</text><text transform="translate(92.8 265.15) scale(1.0 1.06)">WH</text><text transform="translate(151.3 266.35) scale(1.0 1.06)">SH</text><text transform="translate(82.6 271.15) scale(1.0 1.06)">TL</text><text transform="translate(105.8 273.95) scale(1.0 1.06)">XC</text><text transform="translate(125.3 273.35) scale(1.0 1.06)">HU</text><text transform="translate(139.2 274.65) scale(1.0 1.06)">JX</text><text transform="translate(62.2 276.95) scale(1.0 1.06)">AQ</text><text transform="translate(82.7 279.15) scale(1.0 1.06)">CI</text><text transform="translate(164 286.65) scale(1.0 1.06)">ZS</text><text transform="translate(90.3 288.05) scale(1.0 1.06)">HS</text><text transform="translate(115 288.35) scale(1.0 1.06)">HZ</text><text transform="translate(137.9 290.55) scale(1.0 1.06)">SX</text><text transform="translate(151.9 291.15) scale(1.0 1.06)">NB</text><text transform="translate(103 305.45) scale(1.0 1.06)">QZ</text><text transform="translate(122.4 302.35) scale(1.0 1.06)">JH</text><text transform="translate(146 308.05) scale(1.0 1.06)">TZ</text><text transform="translate(113.2 320.55) scale(1.0 1.06)">LS</text><text transform="translate(129.1 326.85) scale(1.0 1.06)">WZ</text></g>
<rect x="26.8" y="185.2" width="157.7" height="156.5" fill="none" stroke="#1a1a1a" stroke-width="1.3"/>
<text x="28.5" y="194.1" font-family="Liberation Serif" font-weight="bold" font-size="8.1" fill="#2a2a2a">(d) 2010</text>
<text x="176.8" y="193.9" font-family="Liberation Sans" font-weight="bold" font-size="6.4" fill="#222" text-anchor="middle">N</text>
<path d="M176.6 196.2L171.6 213.1L176.9 208.2Z" fill="#111"/>
<path d="M176.6 196.2L181.8 213L176.9 208.2Z" fill="#fff" stroke="#111" stroke-width="0.6" stroke-linejoin="round"/>
<rect x="143.3" y="334.5" width="32.6" height="2.5" fill="#0a0a0a"/>
<rect x="151.9" y="334.7" width="7.3" height="2.1" fill="#a8a8a8"/>
<g font-family="Liberation Serif" font-weight="bold" font-size="3.9" fill="#333"><text x="143.5" y="332.6" text-anchor="middle">0</text><text x="151.3" y="332.6" text-anchor="middle">50</text><text x="159.5" y="332.6" text-anchor="middle">100</text><text x="175.7" y="332.6" text-anchor="middle">200</text><text x="176.8" y="336.9" font-weight="normal">km</text></g>
<g>
<path d="M229.1 200.9L229.4 199L231 196.6L234.8 195.6L237.4 195.3L239.8 196.7L242 199.1L244 201.8L246.8 203L251.3 203.2L254.8 201.9L258 201.5L260.8 202L262.6 203.6L264.8 204.4L267.4 203.6L268.8 205L268.1 207.8L265 209L261.8 210.2L260.6 211.4L262.1 212.4L262.6 215L261.7 217.5L260.1 217.8L257.2 217.5L255 216L253.5 214.6L251.6 211.8L248.3 211L244.9 210.3L242.3 209.4L241 207.6L239.4 205.3L236.2 203.5L232.3 202Z" fill="#e5e5e6"/>
<path d="M267.4 203.6L268.3 201.2L270.8 200.6L273.1 199.6L274.1 196.4L275.3 194.5L278.6 193.9L281.1 192.6L282.4 193.2L281.8 194.5L281.1 196.4L281.8 198.3L283.7 199.6L286.3 200.9L288.8 202.8L291.2 205L289.5 206.7L287.5 208.6L286.9 210.6L286.3 212.2L283.1 211.8L280.1 211.2L279.3 209.3L278.6 207.3L276.6 206.1L274.1 205.4L271.5 205.4L268.8 205Z" fill="#ec8dab"/>
<path d="M234.6 211.6L232.9 209.2L229.7 207L226.6 205L226.5 202.4L229.1 200.9L232.3 202L236.2 203.5L239.4 205.3L241 207.6L242.3 209.4L244.9 210.3L248.3 211L251.6 211.8L253.5 214.6L255 216L257.2 217.5L260.1 217.8L261.7 217.5L261.3 219.5L260.6 222.5L260 224.9L260.1 225.8L258.6 226L255.7 225.5L252.8 224.7L249.2 222.6L246.3 222L244.1 223.3L240.4 223.5L240.2 221.1L240 218.2L240.3 214.5L240.1 211L237.2 211.2Z" fill="#c9d8fa"/>
<path d="M268.8 205L268.1 207.8L265 209L261.8 210.2L260.6 211.4L262.1 212.4L262.6 215L261.7 217.5L261.3 219.5L260.6 222.5L260 224.9L260.1 225.8L262.1 226.1L265 225.4L269.3 224.6L271.3 225.2L274.3 224.8L273 222.5L273 219.5L273.7 216.6L275.9 214.5L280.1 211.2L279.3 209.3L278.6 207.3L276.6 206.1L274.1 205.4L271.5 205.4Z" fill="#f1c4d1"/>
<path d="M260.1 225.8L261 226.9L260.6 228L262.9 228.6L264.4 232.1L267.1 234.5L270.7 233.9L273.9 232.3L277.5 232.9L279.6 234.1L280.8 235.1L282 233.6L282.4 230.6L281.3 228.1L281.3 226.1L283.1 224.4L286.1 223.6L285.6 221.6L286.6 218.1L287.8 214.4L286.3 212.2L283.1 211.8L280.1 211.2L275.9 214.5L273.7 216.6L273 219.5L273 222.5L274.3 224.8L271.3 225.2L269.3 224.6L265 225.4L262.1 226.1Z" fill="#f1c4d1"/>
<path d="M291.2 205L294.3 205.6L297.3 206.4L299.9 207.8L301.4 210.6L302.4 213.5L303.9 217.1L305.5 220.7L307.5 224.9L309.5 228.6L310.7 232.4L311.7 236.1L312.6 239.1L308.6 237.4L304.9 236.5L300.8 237.2L299.5 235.6L299.9 232.4L300.4 228.8L297.6 227.4L293.1 227.9L290.4 227L288.6 224.7L286.1 223.6L285.6 221.6L286.6 218.1L287.8 214.4L286.3 212.2L286.9 210.6L287.5 208.6L289.5 206.7Z" fill="#f1c4d1"/>
<path d="M231.8 216.4L233.2 214.6L234 213.1L234.6 211.6L237.2 211.2L240.1 211L240.3 214.5L240 218.2L240.2 221.1L240.4 223.5L236 222.9L233.6 221L232.4 218.6Z" fill="#7c87dc"/>
<path d="M216 220L215.9 217.6L216.2 215.1L215.9 212.9L218.7 211.5L221.4 212L224.1 213.8L226.8 216.5L229.6 217.4L231.8 216.4L232.4 218.6L233.6 221L236 222.9L240.4 223.5L238.2 225.1L237.7 227.6L238 229.8L236.3 230.3L232.7 231.4L231.4 233.1L231.6 235.1L230.1 233.9L226.9 231.3L223 228.7L220.5 227.5L220.5 223.2L219.3 221.6L217.1 220.5Z" fill="#7c87dc"/>
<path d="M220.6 238.4L218.5 239.7L216.6 240.9L214 239.7L211.5 237.7L209.5 236.4L208.9 233.2L208 231.9L205.8 231.4L204 230.4L203.4 228.8L204.3 227.8L207.3 227.8L209.8 227.2L210.9 225.6L211.2 223.8L211.7 222.1L212.8 220.8L214.9 220.2L216 220L217.1 220.5L219.3 221.6L220.5 223.2L220.5 227.5L223 228.7L226.9 231.3L230.1 233.9L231.6 235.1L232.1 236.6L232.8 238.2L230.7 239.7L228.8 239L226.9 239L224.3 239.7L222.4 239Z" fill="#7c87dc"/>
<path d="M238 229.8L237.7 227.6L238.2 225.1L240.4 223.5L244.1 223.3L246.3 222L249.2 222.6L252.8 224.7L255.7 225.5L258.6 226L260.1 225.8L261 226.9L260.6 228L260.4 229.1L257.4 230.2L252 232L248.3 233.2L245.6 234.2L242.3 233.5L240 232Z" fill="#c9d8fa"/>
<path d="M231.6 235.1L231.4 233.1L232.7 231.4L236.3 230.3L238 229.8L240 232L242.3 233.5L245.6 234.2L245.6 236.8L244.6 239.7L242.7 242.1L241.4 245.1L241.3 246.6L239 248.4L236 250L234 247.6L233.2 244.6L233.2 241.2L232.8 238.2L232.1 236.6Z" fill="#7c87dc"/>
<path d="M260.6 228L260.4 229.1L257.4 230.2L252 232L248.3 233.2L245.6 234.2L245.6 236.8L244.6 239.7L246.1 241.1L248.8 242.6L251 243.4L253.2 244.6L255.9 246.4L257.6 249.1L261.2 249.5L264 250.2L266.3 249.4L266.1 246.8L267.6 243.2L269.4 240.5L273 238.6L276.7 240.2L278.3 240.9L279.8 239.6L281.1 237.4L280.8 235.1L279.6 234.1L277.5 232.9L273.9 232.3L270.7 233.9L267.1 234.5L264.4 232.1L262.9 228.6Z" fill="#e5e5e6"/>
<path d="M222.6 265.6L220.8 264.4L218.2 263.6L215.6 262.4L213.8 260.8L212.8 258.4L214 256.6L216.6 255L220 253.6L221.8 251.4L221.8 248.1L221.1 242.9L220.6 238.4L222.4 239L224.3 239.7L226.9 239L228.8 239L230.7 239.7L232.8 238.2L233.2 241.2L233.2 244.6L234 247.6L236 250L237 253L239.3 255.1L242.3 256.5L244 257.8L243.3 260.6L241.1 262.4L238.2 263.6L233.6 263.8L229.1 264.6L225.4 264.1Z" fill="#7c87dc"/>
<path d="M244.6 239.7L242.7 242.1L241.4 245.1L241.3 246.6L239 248.4L236 250L237 253L239.3 255.1L242.3 256.5L244 257.8L243.3 260.6L243.4 263.1L243.8 265.2L247.7 265.5L251.6 265L252.3 262.1L254 259.5L256.6 257.6L256.1 255.6L256.7 253.2L257.6 249.1L255.9 246.4L253.2 244.6L251 243.4L248.8 242.6L246.1 241.1Z" fill="#c9d8fa"/>
<path d="M286.1 223.6L283.1 224.4L281.3 226.1L281.3 228.1L282.4 230.6L282 233.6L280.8 235.1L281.1 237.4L279.8 239.6L278.3 240.9L279.3 243.6L283.8 243.9L287.8 243.6L293.1 243.4L293.1 239.2L292.6 235.6L291.8 230.6L290.4 227L288.6 224.7Z" fill="#f1c4d1"/>
<path d="M290.4 227L291.8 230.6L292.6 235.6L293.1 239.2L293.1 243.4L293.8 245.6L293.3 247.6L295.3 248.4L297 249.2L299.3 249.2L302.1 247.9L300.8 244.7L299.9 241.1L300.8 237.2L299.5 235.6L299.9 232.4L300.4 228.8L297.6 227.4L293.1 227.9Z" fill="#f1c4d1"/>
<path d="M312.6 239.1L316.7 240L319.3 241.2L320.3 243.6L321.9 245.9L325.2 247.8L327.7 249.6L329.1 251.8L329.1 253.4L326.1 253.2L322.9 251.7L319.8 251.2L316.7 251.2L313.6 251.9L312.6 251.1L309 248.3L305.3 247.4L302.1 247.9L300.8 244.7L299.9 241.1L300.8 237.2L304.9 236.5L308.6 237.4Z" fill="#ec8dab"/>
<path d="M278.3 240.9L279.3 243.6L279.7 247L280.3 249.8L281.6 251.1L280.3 254.1L279.3 257.1L279.6 259.8L280.3 261.4L278.3 262.1L276.7 262.3L275.3 261.8L275.3 260L274.1 258.2L273.1 256L270.5 254.1L267.4 252L266.3 249.4L266.1 246.8L267.6 243.2L269.4 240.5L273 238.6L276.7 240.2Z" fill="#ec8dab"/>
<path d="M279.3 243.6L283.8 243.9L287.8 243.6L293.1 243.4L293.8 245.6L293.3 247.6L291.7 248.3L289 249.9L285.3 249.2L281.6 251.1L280.3 249.8L279.7 247Z" fill="#ec8dab"/>
<path d="M281.6 251.1L285.3 249.2L289 249.9L291.7 248.3L293.3 247.6L295.3 248.4L297 249.2L296.6 251.5L296.8 253.8L295.3 256.1L292.6 256.6L289.9 258.3L287.2 260.1L285.3 262.8L282.6 262L280.3 261.4L279.6 259.8L279.3 257.1L280.3 254.1Z" fill="#ec8dab"/>
<path d="M297 249.2L299.3 249.2L302.1 247.9L304.8 250.1L305.8 252.6L305.3 255.6L302.1 258.1L298.5 261L295.8 262.9L293.3 263.6L291.3 264.6L288.8 265.1L287.3 264.4L285.3 262.8L287.2 260.1L289.9 258.3L292.6 256.6L295.3 256.1L296.8 253.8L296.6 251.5Z" fill="#ec8dab"/>
<path d="M313.6 251.9L314.8 253.1L315.8 255.2L316 257L314.7 259.7L312.8 262.9L312 265.6L312.7 268.4L310 267.5L306.3 268.4L303.6 269.3L300.9 268.4L299.1 267.5L295.4 265.4L293.3 263.6L295.8 262.9L298.5 261L302.1 258.1L305.3 255.6L305.8 252.6L304.8 250.1L302.1 247.9L305.3 247.4L309 248.3L312.6 251.1Z" fill="#ec8dab"/>
<path d="M316 257L318.5 257.5L321.1 258.4L323.7 259.4L326.2 261.7L328.2 264.2L328.8 266.8L328.2 268.7L326.3 269.6L322.7 270.4L319.1 271.2L316.3 272.1L314.5 270.2L312.7 268.4L312 265.6L312.8 262.9L314.7 259.7Z" fill="#ec8dab"/>
<path d="M274.1 258.2L270.8 258L265.8 257L261.2 257.7L256.6 257.6L256.1 255.6L256.7 253.2L257.6 249.1L261.2 249.5L264 250.2L266.3 249.4L267.4 252L270.5 254.1L273.1 256Z" fill="#f1c4d1"/>
<path d="M251.6 265L255.9 264.6L259.6 265.5L261.4 266.8L260.5 270L260.6 272.6L262.3 271.8L265.4 269.2L269 265.6L271.7 262.2L275.3 261.8L275.3 260L274.1 258.2L270.8 258L265.8 257L261.2 257.7L256.6 257.6L254 259.5L252.3 262.1Z" fill="#f1c4d1"/>
<path d="M285.3 262.8L287.3 264.4L288.8 265.1L287.3 266.5L285.5 269.3L282.7 272L280.9 274.7L281.8 277.2L280 277.3L277.3 277.8L275 279.4L273.6 282.1L270.8 284.2L268.6 283.2L266.5 281L264.5 278.4L261.6 276L261.1 274.6L260.6 272.6L262.3 271.8L265.4 269.2L269 265.6L271.7 262.2L275.3 261.8L276.7 262.3L278.3 262.1L280.3 261.4L282.6 262Z" fill="#ec8dab"/>
<path d="M243.8 265.2L244 269.1L245.4 272.2L248.6 271.2L252.3 270.5L255.9 269.6L258.7 268.2L261.4 266.8L259.6 265.5L255.9 264.6L251.6 265L247.7 265.5Z" fill="#f1c4d1"/>
<path d="M245.6 286.5L243.3 287.3L241 289L237.7 291.3L236.1 290.5L235.3 286.6L236 284.8L237 283.7L238.6 281.4L240.1 278.3L242.4 276L244.7 274.5L245.4 272.2L248.6 271.2L252.3 270.5L255.9 269.6L258.7 268.2L261.4 266.8L260.5 270L260.6 272.6L261.1 274.6L261.6 276L260.3 276.8L257.8 278.4L254.8 280.9L251.8 282.8L248.8 284.5Z" fill="#f1c4d1"/>
<path d="M236 284.8L234.7 285.5L231.6 286.2L228.5 287.2L226.2 286L225.5 283.7L223.9 281.4L222.4 279.1L221.6 276L220.1 272.9L219.3 270.5L220.8 268L222.6 265.6L225.4 264.1L229.1 264.6L233.6 263.8L238.2 263.6L241.1 262.4L243.3 260.6L243.4 263.1L243.8 265.2L244 269.1L245.4 272.2L244.7 274.5L242.4 276L240.1 278.3L238.6 281.4L237 283.7Z" fill="#e5e5e6"/>
<path d="M263.9 294.4L262.5 294.2L258.2 293.1L252.7 290.9L248.8 288.8L245.6 286.5L248.8 284.5L251.8 282.8L254.8 280.9L257.8 278.4L260.3 276.8L261.6 276L264.5 278.4L266.5 281L268.6 283.2L270.8 284.2L272.7 286.1L272.7 289.3L270 292L266.8 294.8Z" fill="#c9d8fa"/>
<path d="M288.8 265.1L291.3 264.6L293.3 263.6L295.4 265.4L299.1 267.5L300.9 268.4L301.8 270.9L302.3 273.1L300 273.8L296.4 274.3L292.7 274.7L289.1 275.6L286.4 276.6L283.6 276.8L281.8 277.2L280.9 274.7L282.7 272L285.5 269.3L287.3 266.5Z" fill="#f1c4d1"/>
<path d="M316.3 272.1L314.7 274L312.5 275.1L309.2 276.2L306 277.1L303.4 277.6L303 275.6L302.3 273.1L301.8 270.9L300.9 268.4L303.6 269.3L306.3 268.4L310 267.5L312.7 268.4L314.5 270.2Z" fill="#f1c4d1"/>
<path d="M303.4 277.6L304.3 278.6L305.3 279.2L302.3 282.4L300.4 286.5L297.1 288.7L295.1 290.4L294.3 291.4L292.8 290.9L289.5 293.1L285.1 295.3L281.9 297.4L277.5 296.4L274.2 298L269.9 297.4L266.8 294.8L270 292L272.7 289.3L272.7 286.1L270.8 284.2L273.6 282.1L275 279.4L277.3 277.8L280 277.3L281.8 277.2L283.6 276.8L286.4 276.6L289.1 275.6L292.7 274.7L296.4 274.3L300 273.8L302.3 273.1L303 275.6Z" fill="#c9d8fa"/>
<path d="M305.3 279.2L307.3 280.1L309.2 281.1L311.3 281.6L313.6 280.9L314 286.5L314.6 290.9L315.7 295.3L316.3 298.8L312.4 298.9L309.1 297.4L305.8 298.5L302.6 296.4L298.2 294.2L294.9 292L294.3 291.4L295.1 290.4L297.1 288.7L300.4 286.5L302.3 282.4Z" fill="#c9d8fa"/>
<path d="M313.6 280.9L318 278.4L321.2 280L324.5 282.7L327.8 284.9L331.1 286.5L328.9 288.2L326.7 290.4L328.9 291.4L330 294.7L328.9 298L326.4 298.8L324.5 297.2L320.2 298.2L316.3 298.8L315.7 295.3L314.6 290.9L314 286.5Z" fill="#c9d8fa"/>
<path d="M281.9 297.4L283 301.8L284.3 305.1L285.3 308.1L287.3 309.2L291.7 307.3L295.3 306.4L299.5 306.2L302.3 305.9L303.3 302.1L305.8 298.5L302.6 296.4L298.2 294.2L294.9 292L294.3 291.4L292.8 290.9L289.5 293.1L285.1 295.3Z" fill="#e5e5e6"/>
<path d="M272.3 314.1L270 315.6L268.2 314L267.1 308.6L265 304.2L261.7 300.9L260.6 297.6L263.9 294.4L266.8 294.8L269.9 297.4L274.2 298L277.5 296.4L281.9 297.4L283 301.8L284.3 305.1L285.3 308.1L282.3 307.2L279.9 307.2L276.4 309.1L273.3 311.4Z" fill="#c9d8fa"/>
<path d="M326.4 298.8L323.5 301.5L323.5 305.9L324.6 309.2L323.5 312.5L320.2 315.7L316.8 317.6L315.3 314.1L312.6 311.8L308.2 313.2L304 314.8L303.3 313.1L303 309.6L302.3 305.9L303.3 302.1L305.8 298.5L309.1 297.4L312.4 298.9L316.3 298.8L320.2 298.2L324.5 297.2Z" fill="#e5e5e6"/>
<path d="M289.3 326.6L288.6 328.8L284.2 330.4L279.9 329.9L276.6 327.7L275.5 323.4L273.3 319L272.3 314.1L273.3 311.4L276.4 309.1L279.9 307.2L282.3 307.2L285.3 308.1L287.3 309.2L291.7 307.3L295.3 306.4L299.5 306.2L302.3 305.9L303 309.6L303.3 313.1L304 314.8L301.3 317.9L296.2 320.1L291.9 322.3Z" fill="#e5e5e6"/>
<path d="M316.8 317.6L314.8 320.1L313.7 322.3L311.5 324.4L308.2 326.6L306.1 328.8L305 332.1L302.8 334.3L300.6 333.2L297.3 332.1L294.1 331L290.8 327.7L289.3 326.6L291.9 322.3L296.2 320.1L301.3 317.9L304 314.8L308.2 313.2L312.6 311.8L315.3 314.1Z" fill="#e5e5e6"/>
<path d="M316 252L320.5 252.5L324.3 254.1L327.5 255.8L328.8 257.2L327.3 257.5L322.4 256L318.5 254.3L316.6 253.2Z" fill="#ec8dab"/>
<path d="M330.3 280.1L332.3 278.8L334.3 279.6L334.8 281.6L333.3 283.1L331.3 282.6Z" fill="#c9d8fa"/>
<path d="M331.8 284.1L333.8 283.6L335.3 285.1L334.3 287.1L332.3 286.6Z" fill="#c9d8fa"/>
<path d="M335.8 280.6L337.3 280.1L337.8 281.6L336.3 282.4Z" fill="#c9d8fa"/>
<path d="M335.3 276.6L336.6 276.1L337 277.4L335.8 277.9Z" fill="#c9d8fa"/>
<path d="M229.1 200.9L229.4 199L231 196.6L234.8 195.6L237.4 195.3L239.8 196.7L242 199.1L244 201.8L246.8 203L251.3 203.2L254.8 201.9L258 201.5L260.8 202L262.6 203.6L264.8 204.4L267.4 203.6L268.8 205L268.1 207.8L265 209L261.8 210.2L260.6 211.4L262.1 212.4L262.6 215L261.7 217.5L260.1 217.8L257.2 217.5L255 216L253.5 214.6L251.6 211.8L248.3 211L244.9 210.3L242.3 209.4L241 207.6L239.4 205.3L236.2 203.5L232.3 202ZM267.4 203.6L268.3 201.2L270.8 200.6L273.1 199.6L274.1 196.4L275.3 194.5L278.6 193.9L281.1 192.6L282.4 193.2L281.8 194.5L281.1 196.4L281.8 198.3L283.7 199.6L286.3 200.9L288.8 202.8L291.2 205L289.5 206.7L287.5 208.6L286.9 210.6L286.3 212.2L283.1 211.8L280.1 211.2L279.3 209.3L278.6 207.3L276.6 206.1L274.1 205.4L271.5 205.4L268.8 205ZM234.6 211.6L232.9 209.2L229.7 207L226.6 205L226.5 202.4L229.1 200.9L232.3 202L236.2 203.5L239.4 205.3L241 207.6L242.3 209.4L244.9 210.3L248.3 211L251.6 211.8L253.5 214.6L255 216L257.2 217.5L260.1 217.8L261.7 217.5L261.3 219.5L260.6 222.5L260 224.9L260.1 225.8L258.6 226L255.7 225.5L252.8 224.7L249.2 222.6L246.3 222L244.1 223.3L240.4 223.5L240.2 221.1L240 218.2L240.3 214.5L240.1 211L237.2 211.2ZM268.8 205L268.1 207.8L265 209L261.8 210.2L260.6 211.4L262.1 212.4L262.6 215L261.7 217.5L261.3 219.5L260.6 222.5L260 224.9L260.1 225.8L262.1 226.1L265 225.4L269.3 224.6L271.3 225.2L274.3 224.8L273 222.5L273 219.5L273.7 216.6L275.9 214.5L280.1 211.2L279.3 209.3L278.6 207.3L276.6 206.1L274.1 205.4L271.5 205.4ZM260.1 225.8L261 226.9L260.6 228L262.9 228.6L264.4 232.1L267.1 234.5L270.7 233.9L273.9 232.3L277.5 232.9L279.6 234.1L280.8 235.1L282 233.6L282.4 230.6L281.3 228.1L281.3 226.1L283.1 224.4L286.1 223.6L285.6 221.6L286.6 218.1L287.8 214.4L286.3 212.2L283.1 211.8L280.1 211.2L275.9 214.5L273.7 216.6L273 219.5L273 222.5L274.3 224.8L271.3 225.2L269.3 224.6L265 225.4L262.1 226.1ZM291.2 205L294.3 205.6L297.3 206.4L299.9 207.8L301.4 210.6L302.4 213.5L303.9 217.1L305.5 220.7L307.5 224.9L309.5 228.6L310.7 232.4L311.7 236.1L312.6 239.1L308.6 237.4L304.9 236.5L300.8 237.2L299.5 235.6L299.9 232.4L300.4 228.8L297.6 227.4L293.1 227.9L290.4 227L288.6 224.7L286.1 223.6L285.6 221.6L286.6 218.1L287.8 214.4L286.3 212.2L286.9 210.6L287.5 208.6L289.5 206.7ZM231.8 216.4L233.2 214.6L234 213.1L234.6 211.6L237.2 211.2L240.1 211L240.3 214.5L240 218.2L240.2 221.1L240.4 223.5L236 222.9L233.6 221L232.4 218.6ZM216 220L215.9 217.6L216.2 215.1L215.9 212.9L218.7 211.5L221.4 212L224.1 213.8L226.8 216.5L229.6 217.4L231.8 216.4L232.4 218.6L233.6 221L236 222.9L240.4 223.5L238.2 225.1L237.7 227.6L238 229.8L236.3 230.3L232.7 231.4L231.4 233.1L231.6 235.1L230.1 233.9L226.9 231.3L223 228.7L220.5 227.5L220.5 223.2L219.3 221.6L217.1 220.5ZM220.6 238.4L218.5 239.7L216.6 240.9L214 239.7L211.5 237.7L209.5 236.4L208.9 233.2L208 231.9L205.8 231.4L204 230.4L203.4 228.8L204.3 227.8L207.3 227.8L209.8 227.2L210.9 225.6L211.2 223.8L211.7 222.1L212.8 220.8L214.9 220.2L216 220L217.1 220.5L219.3 221.6L220.5 223.2L220.5 227.5L223 228.7L226.9 231.3L230.1 233.9L231.6 235.1L232.1 236.6L232.8 238.2L230.7 239.7L228.8 239L226.9 239L224.3 239.7L222.4 239ZM238 229.8L237.7 227.6L238.2 225.1L240.4 223.5L244.1 223.3L246.3 222L249.2 222.6L252.8 224.7L255.7 225.5L258.6 226L260.1 225.8L261 226.9L260.6 228L260.4 229.1L257.4 230.2L252 232L248.3 233.2L245.6 234.2L242.3 233.5L240 232ZM231.6 235.1L231.4 233.1L232.7 231.4L236.3 230.3L238 229.8L240 232L242.3 233.5L245.6 234.2L245.6 236.8L244.6 239.7L242.7 242.1L241.4 245.1L241.3 246.6L239 248.4L236 250L234 247.6L233.2 244.6L233.2 241.2L232.8 238.2L232.1 236.6ZM260.6 228L260.4 229.1L257.4 230.2L252 232L248.3 233.2L245.6 234.2L245.6 236.8L244.6 239.7L246.1 241.1L248.8 242.6L251 243.4L253.2 244.6L255.9 246.4L257.6 249.1L261.2 249.5L264 250.2L266.3 249.4L266.1 246.8L267.6 243.2L269.4 240.5L273 238.6L276.7 240.2L278.3 240.9L279.8 239.6L281.1 237.4L280.8 235.1L279.6 234.1L277.5 232.9L273.9 232.3L270.7 233.9L267.1 234.5L264.4 232.1L262.9 228.6ZM222.6 265.6L220.8 264.4L218.2 263.6L215.6 262.4L213.8 260.8L212.8 258.4L214 256.6L216.6 255L220 253.6L221.8 251.4L221.8 248.1L221.1 242.9L220.6 238.4L222.4 239L224.3 239.7L226.9 239L228.8 239L230.7 239.7L232.8 238.2L233.2 241.2L233.2 244.6L234 247.6L236 250L237 253L239.3 255.1L242.3 256.5L244 257.8L243.3 260.6L241.1 262.4L238.2 263.6L233.6 263.8L229.1 264.6L225.4 264.1ZM244.6 239.7L242.7 242.1L241.4 245.1L241.3 246.6L239 248.4L236 250L237 253L239.3 255.1L242.3 256.5L244 257.8L243.3 260.6L243.4 263.1L243.8 265.2L247.7 265.5L251.6 265L252.3 262.1L254 259.5L256.6 257.6L256.1 255.6L256.7 253.2L257.6 249.1L255.9 246.4L253.2 244.6L251 243.4L248.8 242.6L246.1 241.1ZM286.1 223.6L283.1 224.4L281.3 226.1L281.3 228.1L282.4 230.6L282 233.6L280.8 235.1L281.1 237.4L279.8 239.6L278.3 240.9L279.3 243.6L283.8 243.9L287.8 243.6L293.1 243.4L293.1 239.2L292.6 235.6L291.8 230.6L290.4 227L288.6 224.7ZM290.4 227L291.8 230.6L292.6 235.6L293.1 239.2L293.1 243.4L293.8 245.6L293.3 247.6L295.3 248.4L297 249.2L299.3 249.2L302.1 247.9L300.8 244.7L299.9 241.1L300.8 237.2L299.5 235.6L299.9 232.4L300.4 228.8L297.6 227.4L293.1 227.9ZM312.6 239.1L316.7 240L319.3 241.2L320.3 243.6L321.9 245.9L325.2 247.8L327.7 249.6L329.1 251.8L329.1 253.4L326.1 253.2L322.9 251.7L319.8 251.2L316.7 251.2L313.6 251.9L312.6 251.1L309 248.3L305.3 247.4L302.1 247.9L300.8 244.7L299.9 241.1L300.8 237.2L304.9 236.5L308.6 237.4ZM278.3 240.9L279.3 243.6L279.7 247L280.3 249.8L281.6 251.1L280.3 254.1L279.3 257.1L279.6 259.8L280.3 261.4L278.3 262.1L276.7 262.3L275.3 261.8L275.3 260L274.1 258.2L273.1 256L270.5 254.1L267.4 252L266.3 249.4L266.1 246.8L267.6 243.2L269.4 240.5L273 238.6L276.7 240.2ZM279.3 243.6L283.8 243.9L287.8 243.6L293.1 243.4L293.8 245.6L293.3 247.6L291.7 248.3L289 249.9L285.3 249.2L281.6 251.1L280.3 249.8L279.7 247ZM281.6 251.1L285.3 249.2L289 249.9L291.7 248.3L293.3 247.6L295.3 248.4L297 249.2L296.6 251.5L296.8 253.8L295.3 256.1L292.6 256.6L289.9 258.3L287.2 260.1L285.3 262.8L282.6 262L280.3 261.4L279.6 259.8L279.3 257.1L280.3 254.1ZM297 249.2L299.3 249.2L302.1 247.9L304.8 250.1L305.8 252.6L305.3 255.6L302.1 258.1L298.5 261L295.8 262.9L293.3 263.6L291.3 264.6L288.8 265.1L287.3 264.4L285.3 262.8L287.2 260.1L289.9 258.3L292.6 256.6L295.3 256.1L296.8 253.8L296.6 251.5ZM313.6 251.9L314.8 253.1L315.8 255.2L316 257L314.7 259.7L312.8 262.9L312 265.6L312.7 268.4L310 267.5L306.3 268.4L303.6 269.3L300.9 268.4L299.1 267.5L295.4 265.4L293.3 263.6L295.8 262.9L298.5 261L302.1 258.1L305.3 255.6L305.8 252.6L304.8 250.1L302.1 247.9L305.3 247.4L309 248.3L312.6 251.1ZM316 257L318.5 257.5L321.1 258.4L323.7 259.4L326.2 261.7L328.2 264.2L328.8 266.8L328.2 268.7L326.3 269.6L322.7 270.4L319.1 271.2L316.3 272.1L314.5 270.2L312.7 268.4L312 265.6L312.8 262.9L314.7 259.7ZM274.1 258.2L270.8 258L265.8 257L261.2 257.7L256.6 257.6L256.1 255.6L256.7 253.2L257.6 249.1L261.2 249.5L264 250.2L266.3 249.4L267.4 252L270.5 254.1L273.1 256ZM251.6 265L255.9 264.6L259.6 265.5L261.4 266.8L260.5 270L260.6 272.6L262.3 271.8L265.4 269.2L269 265.6L271.7 262.2L275.3 261.8L275.3 260L274.1 258.2L270.8 258L265.8 257L261.2 257.7L256.6 257.6L254 259.5L252.3 262.1ZM285.3 262.8L287.3 264.4L288.8 265.1L287.3 266.5L285.5 269.3L282.7 272L280.9 274.7L281.8 277.2L280 277.3L277.3 277.8L275 279.4L273.6 282.1L270.8 284.2L268.6 283.2L266.5 281L264.5 278.4L261.6 276L261.1 274.6L260.6 272.6L262.3 271.8L265.4 269.2L269 265.6L271.7 262.2L275.3 261.8L276.7 262.3L278.3 262.1L280.3 261.4L282.6 262ZM243.8 265.2L244 269.1L245.4 272.2L248.6 271.2L252.3 270.5L255.9 269.6L258.7 268.2L261.4 266.8L259.6 265.5L255.9 264.6L251.6 265L247.7 265.5ZM245.6 286.5L243.3 287.3L241 289L237.7 291.3L236.1 290.5L235.3 286.6L236 284.8L237 283.7L238.6 281.4L240.1 278.3L242.4 276L244.7 274.5L245.4 272.2L248.6 271.2L252.3 270.5L255.9 269.6L258.7 268.2L261.4 266.8L260.5 270L260.6 272.6L261.1 274.6L261.6 276L260.3 276.8L257.8 278.4L254.8 280.9L251.8 282.8L248.8 284.5ZM236 284.8L234.7 285.5L231.6 286.2L228.5 287.2L226.2 286L225.5 283.7L223.9 281.4L222.4 279.1L221.6 276L220.1 272.9L219.3 270.5L220.8 268L222.6 265.6L225.4 264.1L229.1 264.6L233.6 263.8L238.2 263.6L241.1 262.4L243.3 260.6L243.4 263.1L243.8 265.2L244 269.1L245.4 272.2L244.7 274.5L242.4 276L240.1 278.3L238.6 281.4L237 283.7ZM263.9 294.4L262.5 294.2L258.2 293.1L252.7 290.9L248.8 288.8L245.6 286.5L248.8 284.5L251.8 282.8L254.8 280.9L257.8 278.4L260.3 276.8L261.6 276L264.5 278.4L266.5 281L268.6 283.2L270.8 284.2L272.7 286.1L272.7 289.3L270 292L266.8 294.8ZM288.8 265.1L291.3 264.6L293.3 263.6L295.4 265.4L299.1 267.5L300.9 268.4L301.8 270.9L302.3 273.1L300 273.8L296.4 274.3L292.7 274.7L289.1 275.6L286.4 276.6L283.6 276.8L281.8 277.2L280.9 274.7L282.7 272L285.5 269.3L287.3 266.5ZM316.3 272.1L314.7 274L312.5 275.1L309.2 276.2L306 277.1L303.4 277.6L303 275.6L302.3 273.1L301.8 270.9L300.9 268.4L303.6 269.3L306.3 268.4L310 267.5L312.7 268.4L314.5 270.2ZM303.4 277.6L304.3 278.6L305.3 279.2L302.3 282.4L300.4 286.5L297.1 288.7L295.1 290.4L294.3 291.4L292.8 290.9L289.5 293.1L285.1 295.3L281.9 297.4L277.5 296.4L274.2 298L269.9 297.4L266.8 294.8L270 292L272.7 289.3L272.7 286.1L270.8 284.2L273.6 282.1L275 279.4L277.3 277.8L280 277.3L281.8 277.2L283.6 276.8L286.4 276.6L289.1 275.6L292.7 274.7L296.4 274.3L300 273.8L302.3 273.1L303 275.6ZM305.3 279.2L307.3 280.1L309.2 281.1L311.3 281.6L313.6 280.9L314 286.5L314.6 290.9L315.7 295.3L316.3 298.8L312.4 298.9L309.1 297.4L305.8 298.5L302.6 296.4L298.2 294.2L294.9 292L294.3 291.4L295.1 290.4L297.1 288.7L300.4 286.5L302.3 282.4ZM313.6 280.9L318 278.4L321.2 280L324.5 282.7L327.8 284.9L331.1 286.5L328.9 288.2L326.7 290.4L328.9 291.4L330 294.7L328.9 298L326.4 298.8L324.5 297.2L320.2 298.2L316.3 298.8L315.7 295.3L314.6 290.9L314 286.5ZM281.9 297.4L283 301.8L284.3 305.1L285.3 308.1L287.3 309.2L291.7 307.3L295.3 306.4L299.5 306.2L302.3 305.9L303.3 302.1L305.8 298.5L302.6 296.4L298.2 294.2L294.9 292L294.3 291.4L292.8 290.9L289.5 293.1L285.1 295.3ZM272.3 314.1L270 315.6L268.2 314L267.1 308.6L265 304.2L261.7 300.9L260.6 297.6L263.9 294.4L266.8 294.8L269.9 297.4L274.2 298L277.5 296.4L281.9 297.4L283 301.8L284.3 305.1L285.3 308.1L282.3 307.2L279.9 307.2L276.4 309.1L273.3 311.4ZM326.4 298.8L323.5 301.5L323.5 305.9L324.6 309.2L323.5 312.5L320.2 315.7L316.8 317.6L315.3 314.1L312.6 311.8L308.2 313.2L304 314.8L303.3 313.1L303 309.6L302.3 305.9L303.3 302.1L305.8 298.5L309.1 297.4L312.4 298.9L316.3 298.8L320.2 298.2L324.5 297.2ZM289.3 326.6L288.6 328.8L284.2 330.4L279.9 329.9L276.6 327.7L275.5 323.4L273.3 319L272.3 314.1L273.3 311.4L276.4 309.1L279.9 307.2L282.3 307.2L285.3 308.1L287.3 309.2L291.7 307.3L295.3 306.4L299.5 306.2L302.3 305.9L303 309.6L303.3 313.1L304 314.8L301.3 317.9L296.2 320.1L291.9 322.3ZM316.8 317.6L314.8 320.1L313.7 322.3L311.5 324.4L308.2 326.6L306.1 328.8L305 332.1L302.8 334.3L300.6 333.2L297.3 332.1L294.1 331L290.8 327.7L289.3 326.6L291.9 322.3L296.2 320.1L301.3 317.9L304 314.8L308.2 313.2L312.6 311.8L315.3 314.1ZM316 252L320.5 252.5L324.3 254.1L327.5 255.8L328.8 257.2L327.3 257.5L322.4 256L318.5 254.3L316.6 253.2ZM330.3 280.1L332.3 278.8L334.3 279.6L334.8 281.6L333.3 283.1L331.3 282.6ZM331.8 284.1L333.8 283.6L335.3 285.1L334.3 287.1L332.3 286.6ZM335.8 280.6L337.3 280.1L337.8 281.6L336.3 282.4ZM335.3 276.6L336.6 276.1L337 277.4L335.8 277.9Z" fill="none" stroke="#808080" stroke-width="0.6" stroke-linejoin="round"/>
</g>
<g font-family="Liberation Serif" font-size="6.3" fill="#1e1e2a" text-anchor="middle"><text transform="translate(250.3 209.85) scale(1.0 1.06)">XZ</text><text transform="translate(278.2 204.55) scale(1.0 1.06)">LYG</text><text transform="translate(235.8 219.55) scale(1.0 1.06)">HB</text><text transform="translate(247.7 219.15) scale(1.0 1.06)">SZ</text><text transform="translate(268.3 218.45) scale(1.0 1.06)">SQ</text><text transform="translate(276.4 224.75) scale(1.0 1.06)">HA</text><text transform="translate(296.1 222.95) scale(1.0 1.06)">YC</text><text transform="translate(227.6 226.95) scale(1.0 1.06)">BZ</text><text transform="translate(247.2 229.55) scale(1.0 1.06)">BB</text><text transform="translate(215.3 233.95) scale(1.0 1.06)">FY</text><text transform="translate(237.5 243.05) scale(1.0 1.06)">HN</text><text transform="translate(256.8 240.85) scale(1.0 1.06)">CU</text><text transform="translate(286.8 239.65) scale(1.0 1.06)">YZ</text><text transform="translate(295.6 240.15) scale(1.0 1.06)">TA</text><text transform="translate(313.4 246.95) scale(1.0 1.06)">NT</text><text transform="translate(285.4 248.85) scale(1.0 1.06)">ZJ</text><text transform="translate(273 251.75) scale(1.0 1.06)">NJ</text><text transform="translate(249.3 254.55) scale(1.0 1.06)">HF</text><text transform="translate(228.6 254.45) scale(1.0 1.06)">LA</text><text transform="translate(261.4 256.95) scale(1.0 1.06)">MAS</text><text transform="translate(287.9 256.45) scale(1.0 1.06)">CA</text><text transform="translate(310.2 259.05) scale(1.0 1.06)">SU</text><text transform="translate(291.7 263.45) scale(1.0 1.06)">WX</text><text transform="translate(261.8 264.75) scale(1.0 1.06)">WH</text><text transform="translate(320.3 265.95) scale(1.0 1.06)">SH</text><text transform="translate(251.6 270.75) scale(1.0 1.06)">TL</text><text transform="translate(274.8 273.55) scale(1.0 1.06)">XC</text><text transform="translate(294.3 272.95) scale(1.0 1.06)">HU</text><text transform="translate(308.2 274.25) scale(1.0 1.06)">JX</text><text transform="translate(231.2 276.55) scale(1.0 1.06)">AQ</text><text transform="translate(251.7 278.75) scale(1.0 1.06)">CI</text><text transform="translate(333 286.25) scale(1.0 1.06)">ZS</text><text transform="translate(259.3 287.65) scale(1.0 1.06)">HS</text><text transform="translate(284 287.95) scale(1.0 1.06)">HZ</text><text transform="translate(306.9 290.15) scale(1.0 1.06)">SX</text><text transform="translate(320.9 290.75) scale(1.0 1.06)">NB</text><text transform="translate(272 305.05) scale(1.0 1.06)">QZ</text><text transform="translate(291.4 301.95) scale(1.0 1.06)">JH</text><text transform="translate(315 307.65) scale(1.0 1.06)">TZ</text><text transform="translate(282.2 320.15) scale(1.0 1.06)">LS</text><text transform="translate(298.1 326.45) scale(1.0 1.06)">WZ</text></g>
<rect x="198.7" y="185.2" width="157.2" height="156.5" fill="none" stroke="#1a1a1a" stroke-width="1.3"/>
<text x="200.4" y="194.1" font-family="Liberation Serif" font-weight="bold" font-size="8.1" fill="#2a2a2a">(e) 2015</text>
<text x="348" y="193.9" font-family="Liberation Sans" font-weight="bold" font-size="6.4" fill="#222" text-anchor="middle">N</text>
<path d="M347.8 196.2L342.8 213.1L348.1 208.2Z" fill="#111"/>
<path d="M347.8 196.2L353 213L348.1 208.2Z" fill="#fff" stroke="#111" stroke-width="0.6" stroke-linejoin="round"/>
<rect x="314.7" y="334.5" width="32.6" height="2.5" fill="#0a0a0a"/>
<rect x="323.3" y="334.7" width="7.3" height="2.1" fill="#a8a8a8"/>
<g font-family="Liberation Serif" font-weight="bold" font-size="3.9" fill="#333"><text x="314.9" y="332.6" text-anchor="middle">0</text><text x="322.7" y="332.6" text-anchor="middle">50</text><text x="330.9" y="332.6" text-anchor="middle">100</text><text x="347.1" y="332.6" text-anchor="middle">200</text><text x="348.2" y="336.9" font-weight="normal">km</text></g>
<g>
<path d="M402.3 200.9L402.6 199L404.2 196.6L408 195.6L410.6 195.3L413 196.7L415.2 199.1L417.2 201.8L420 203L424.5 203.2L428 201.9L431.2 201.5L434 202L435.8 203.6L438 204.4L440.6 203.6L442 205L441.3 207.8L438.2 209L435 210.2L433.8 211.4L435.3 212.4L435.8 215L434.9 217.5L433.3 217.8L430.4 217.5L428.2 216L426.7 214.6L424.8 211.8L421.5 211L418.1 210.3L415.5 209.4L414.2 207.6L412.6 205.3L409.4 203.5L405.5 202Z" fill="#c9d8fa"/>
<path d="M440.6 203.6L441.5 201.2L444 200.6L446.3 199.6L447.3 196.4L448.5 194.5L451.8 193.9L454.3 192.6L455.6 193.2L455 194.5L454.3 196.4L455 198.3L456.9 199.6L459.5 200.9L462 202.8L464.4 205L462.7 206.7L460.7 208.6L460.1 210.6L459.5 212.2L456.3 211.8L453.3 211.2L452.5 209.3L451.8 207.3L449.8 206.1L447.3 205.4L444.7 205.4L442 205Z" fill="#ec8dab"/>
<path d="M407.8 211.6L406.1 209.2L402.9 207L399.8 205L399.7 202.4L402.3 200.9L405.5 202L409.4 203.5L412.6 205.3L414.2 207.6L415.5 209.4L418.1 210.3L421.5 211L424.8 211.8L426.7 214.6L428.2 216L430.4 217.5L433.3 217.8L434.9 217.5L434.5 219.5L433.8 222.5L433.2 224.9L433.3 225.8L431.8 226L428.9 225.5L426 224.7L422.4 222.6L419.5 222L417.3 223.3L413.6 223.5L413.4 221.1L413.2 218.2L413.5 214.5L413.3 211L410.4 211.2Z" fill="#7c87dc"/>
<path d="M442 205L441.3 207.8L438.2 209L435 210.2L433.8 211.4L435.3 212.4L435.8 215L434.9 217.5L434.5 219.5L433.8 222.5L433.2 224.9L433.3 225.8L435.3 226.1L438.2 225.4L442.5 224.6L444.5 225.2L447.5 224.8L446.2 222.5L446.2 219.5L446.9 216.6L449.1 214.5L453.3 211.2L452.5 209.3L451.8 207.3L449.8 206.1L447.3 205.4L444.7 205.4Z" fill="#ec8dab"/>
<path d="M433.3 225.8L434.2 226.9L433.8 228L436.1 228.6L437.6 232.1L440.3 234.5L443.9 233.9L447.1 232.3L450.7 232.9L452.8 234.1L454 235.1L455.2 233.6L455.6 230.6L454.5 228.1L454.5 226.1L456.3 224.4L459.3 223.6L458.8 221.6L459.8 218.1L461 214.4L459.5 212.2L456.3 211.8L453.3 211.2L449.1 214.5L446.9 216.6L446.2 219.5L446.2 222.5L447.5 224.8L444.5 225.2L442.5 224.6L438.2 225.4L435.3 226.1Z" fill="#f1c4d1"/>
<path d="M464.4 205L467.5 205.6L470.5 206.4L473.1 207.8L474.6 210.6L475.6 213.5L477.1 217.1L478.7 220.7L480.7 224.9L482.7 228.6L483.9 232.4L484.9 236.1L485.8 239.1L481.8 237.4L478.1 236.5L474 237.2L472.7 235.6L473.1 232.4L473.6 228.8L470.8 227.4L466.3 227.9L463.6 227L461.8 224.7L459.3 223.6L458.8 221.6L459.8 218.1L461 214.4L459.5 212.2L460.1 210.6L460.7 208.6L462.7 206.7Z" fill="#ec8dab"/>
<path d="M405 216.4L406.4 214.6L407.2 213.1L407.8 211.6L410.4 211.2L413.3 211L413.5 214.5L413.2 218.2L413.4 221.1L413.6 223.5L409.2 222.9L406.8 221L405.6 218.6Z" fill="#7c87dc"/>
<path d="M389.2 220L389.1 217.6L389.4 215.1L389.1 212.9L391.9 211.5L394.6 212L397.3 213.8L400 216.5L402.8 217.4L405 216.4L405.6 218.6L406.8 221L409.2 222.9L413.6 223.5L411.4 225.1L410.9 227.6L411.2 229.8L409.5 230.3L405.9 231.4L404.6 233.1L404.8 235.1L403.3 233.9L400.1 231.3L396.2 228.7L393.7 227.5L393.7 223.2L392.5 221.6L390.3 220.5Z" fill="#7c87dc"/>
<path d="M393.8 238.4L391.7 239.7L389.8 240.9L387.2 239.7L384.7 237.7L382.7 236.4L382.1 233.2L381.2 231.9L379 231.4L377.2 230.4L376.6 228.8L377.5 227.8L380.5 227.8L383 227.2L384.1 225.6L384.4 223.8L384.9 222.1L386 220.8L388.1 220.2L389.2 220L390.3 220.5L392.5 221.6L393.7 223.2L393.7 227.5L396.2 228.7L400.1 231.3L403.3 233.9L404.8 235.1L405.3 236.6L406 238.2L403.9 239.7L402 239L400.1 239L397.5 239.7L395.6 239Z" fill="#7c87dc"/>
<path d="M411.2 229.8L410.9 227.6L411.4 225.1L413.6 223.5L417.3 223.3L419.5 222L422.4 222.6L426 224.7L428.9 225.5L431.8 226L433.3 225.8L434.2 226.9L433.8 228L433.6 229.1L430.6 230.2L425.2 232L421.5 233.2L418.8 234.2L415.5 233.5L413.2 232Z" fill="#c9d8fa"/>
<path d="M404.8 235.1L404.6 233.1L405.9 231.4L409.5 230.3L411.2 229.8L413.2 232L415.5 233.5L418.8 234.2L418.8 236.8L417.8 239.7L415.9 242.1L414.6 245.1L414.5 246.6L412.2 248.4L409.2 250L407.2 247.6L406.4 244.6L406.4 241.2L406 238.2L405.3 236.6Z" fill="#c9d8fa"/>
<path d="M433.8 228L433.6 229.1L430.6 230.2L425.2 232L421.5 233.2L418.8 234.2L418.8 236.8L417.8 239.7L419.3 241.1L422 242.6L424.2 243.4L426.4 244.6L429.1 246.4L430.8 249.1L434.4 249.5L437.2 250.2L439.5 249.4L439.3 246.8L440.8 243.2L442.6 240.5L446.2 238.6L449.9 240.2L451.5 240.9L453 239.6L454.3 237.4L454 235.1L452.8 234.1L450.7 232.9L447.1 232.3L443.9 233.9L440.3 234.5L437.6 232.1L436.1 228.6Z" fill="#f1c4d1"/>
<path d="M395.8 265.6L394 264.4L391.4 263.6L388.8 262.4L387 260.8L386 258.4L387.2 256.6L389.8 255L393.2 253.6L395 251.4L395 248.1L394.3 242.9L393.8 238.4L395.6 239L397.5 239.7L400.1 239L402 239L403.9 239.7L406 238.2L406.4 241.2L406.4 244.6L407.2 247.6L409.2 250L410.2 253L412.5 255.1L415.5 256.5L417.2 257.8L416.5 260.6L414.3 262.4L411.4 263.6L406.8 263.8L402.3 264.6L398.6 264.1Z" fill="#c9d8fa"/>
<path d="M417.8 239.7L415.9 242.1L414.6 245.1L414.5 246.6L412.2 248.4L409.2 250L410.2 253L412.5 255.1L415.5 256.5L417.2 257.8L416.5 260.6L416.6 263.1L417 265.2L420.9 265.5L424.8 265L425.5 262.1L427.2 259.5L429.8 257.6L429.3 255.6L429.9 253.2L430.8 249.1L429.1 246.4L426.4 244.6L424.2 243.4L422 242.6L419.3 241.1Z" fill="#e5e5e6"/>
<path d="M459.3 223.6L456.3 224.4L454.5 226.1L454.5 228.1L455.6 230.6L455.2 233.6L454 235.1L454.3 237.4L453 239.6L451.5 240.9L452.5 243.6L457 243.9L461 243.6L466.3 243.4L466.3 239.2L465.8 235.6L465 230.6L463.6 227L461.8 224.7Z" fill="#ec8dab"/>
<path d="M463.6 227L465 230.6L465.8 235.6L466.3 239.2L466.3 243.4L467 245.6L466.5 247.6L468.5 248.4L470.2 249.2L472.5 249.2L475.3 247.9L474 244.7L473.1 241.1L474 237.2L472.7 235.6L473.1 232.4L473.6 228.8L470.8 227.4L466.3 227.9Z" fill="#ec8dab"/>
<path d="M485.8 239.1L489.9 240L492.5 241.2L493.5 243.6L495.1 245.9L498.4 247.8L500.9 249.6L502.3 251.8L502.3 253.4L499.3 253.2L496.1 251.7L493 251.2L489.9 251.2L486.8 251.9L485.8 251.1L482.2 248.3L478.5 247.4L475.3 247.9L474 244.7L473.1 241.1L474 237.2L478.1 236.5L481.8 237.4Z" fill="#ec8dab"/>
<path d="M451.5 240.9L452.5 243.6L452.9 247L453.5 249.8L454.8 251.1L453.5 254.1L452.5 257.1L452.8 259.8L453.5 261.4L451.5 262.1L449.9 262.3L448.5 261.8L448.5 260L447.3 258.2L446.3 256L443.7 254.1L440.6 252L439.5 249.4L439.3 246.8L440.8 243.2L442.6 240.5L446.2 238.6L449.9 240.2Z" fill="#ec8dab"/>
<path d="M452.5 243.6L457 243.9L461 243.6L466.3 243.4L467 245.6L466.5 247.6L464.9 248.3L462.2 249.9L458.5 249.2L454.8 251.1L453.5 249.8L452.9 247Z" fill="#ec8dab"/>
<path d="M454.8 251.1L458.5 249.2L462.2 249.9L464.9 248.3L466.5 247.6L468.5 248.4L470.2 249.2L469.8 251.5L470 253.8L468.5 256.1L465.8 256.6L463.1 258.3L460.4 260.1L458.5 262.8L455.8 262L453.5 261.4L452.8 259.8L452.5 257.1L453.5 254.1Z" fill="#ec8dab"/>
<path d="M470.2 249.2L472.5 249.2L475.3 247.9L478 250.1L479 252.6L478.5 255.6L475.3 258.1L471.7 261L469 262.9L466.5 263.6L464.5 264.6L462 265.1L460.5 264.4L458.5 262.8L460.4 260.1L463.1 258.3L465.8 256.6L468.5 256.1L470 253.8L469.8 251.5Z" fill="#ec8dab"/>
<path d="M486.8 251.9L488 253.1L489 255.2L489.2 257L487.9 259.7L486 262.9L485.2 265.6L485.9 268.4L483.2 267.5L479.5 268.4L476.8 269.3L474.1 268.4L472.3 267.5L468.6 265.4L466.5 263.6L469 262.9L471.7 261L475.3 258.1L478.5 255.6L479 252.6L478 250.1L475.3 247.9L478.5 247.4L482.2 248.3L485.8 251.1Z" fill="#ec8dab"/>
<path d="M489.2 257L491.7 257.5L494.3 258.4L496.9 259.4L499.4 261.7L501.4 264.2L502 266.8L501.4 268.7L499.5 269.6L495.9 270.4L492.3 271.2L489.5 272.1L487.7 270.2L485.9 268.4L485.2 265.6L486 262.9L487.9 259.7Z" fill="#ec8dab"/>
<path d="M447.3 258.2L444 258L439 257L434.4 257.7L429.8 257.6L429.3 255.6L429.9 253.2L430.8 249.1L434.4 249.5L437.2 250.2L439.5 249.4L440.6 252L443.7 254.1L446.3 256Z" fill="#ec8dab"/>
<path d="M424.8 265L429.1 264.6L432.8 265.5L434.6 266.8L433.7 270L433.8 272.6L435.5 271.8L438.6 269.2L442.2 265.6L444.9 262.2L448.5 261.8L448.5 260L447.3 258.2L444 258L439 257L434.4 257.7L429.8 257.6L427.2 259.5L425.5 262.1Z" fill="#ec8dab"/>
<path d="M458.5 262.8L460.5 264.4L462 265.1L460.5 266.5L458.7 269.3L455.9 272L454.1 274.7L455 277.2L453.2 277.3L450.5 277.8L448.2 279.4L446.8 282.1L444 284.2L441.8 283.2L439.7 281L437.7 278.4L434.8 276L434.3 274.6L433.8 272.6L435.5 271.8L438.6 269.2L442.2 265.6L444.9 262.2L448.5 261.8L449.9 262.3L451.5 262.1L453.5 261.4L455.8 262Z" fill="#ec8dab"/>
<path d="M417 265.2L417.2 269.1L418.6 272.2L421.8 271.2L425.5 270.5L429.1 269.6L431.9 268.2L434.6 266.8L432.8 265.5L429.1 264.6L424.8 265L420.9 265.5Z" fill="#ec8dab"/>
<path d="M418.8 286.5L416.5 287.3L414.2 289L410.9 291.3L409.3 290.5L408.5 286.6L409.2 284.8L410.2 283.7L411.8 281.4L413.3 278.3L415.6 276L417.9 274.5L418.6 272.2L421.8 271.2L425.5 270.5L429.1 269.6L431.9 268.2L434.6 266.8L433.7 270L433.8 272.6L434.3 274.6L434.8 276L433.5 276.8L431 278.4L428 280.9L425 282.8L422 284.5Z" fill="#ec8dab"/>
<path d="M409.2 284.8L407.9 285.5L404.8 286.2L401.7 287.2L399.4 286L398.7 283.7L397.1 281.4L395.6 279.1L394.8 276L393.3 272.9L392.5 270.5L394 268L395.8 265.6L398.6 264.1L402.3 264.6L406.8 263.8L411.4 263.6L414.3 262.4L416.5 260.6L416.6 263.1L417 265.2L417.2 269.1L418.6 272.2L417.9 274.5L415.6 276L413.3 278.3L411.8 281.4L410.2 283.7Z" fill="#e5e5e6"/>
<path d="M437.1 294.4L435.7 294.2L431.4 293.1L425.9 290.9L422 288.8L418.8 286.5L422 284.5L425 282.8L428 280.9L431 278.4L433.5 276.8L434.8 276L437.7 278.4L439.7 281L441.8 283.2L444 284.2L445.9 286.1L445.9 289.3L443.2 292L440 294.8Z" fill="#e5e5e6"/>
<path d="M462 265.1L464.5 264.6L466.5 263.6L468.6 265.4L472.3 267.5L474.1 268.4L475 270.9L475.5 273.1L473.2 273.8L469.6 274.3L465.9 274.7L462.3 275.6L459.6 276.6L456.8 276.8L455 277.2L454.1 274.7L455.9 272L458.7 269.3L460.5 266.5Z" fill="#f1c4d1"/>
<path d="M489.5 272.1L487.9 274L485.7 275.1L482.4 276.2L479.2 277.1L476.6 277.6L476.2 275.6L475.5 273.1L475 270.9L474.1 268.4L476.8 269.3L479.5 268.4L483.2 267.5L485.9 268.4L487.7 270.2Z" fill="#f1c4d1"/>
<path d="M476.6 277.6L477.5 278.6L478.5 279.2L475.5 282.4L473.6 286.5L470.3 288.7L468.3 290.4L467.5 291.4L466 290.9L462.7 293.1L458.3 295.3L455.1 297.4L450.7 296.4L447.4 298L443.1 297.4L440 294.8L443.2 292L445.9 289.3L445.9 286.1L444 284.2L446.8 282.1L448.2 279.4L450.5 277.8L453.2 277.3L455 277.2L456.8 276.8L459.6 276.6L462.3 275.6L465.9 274.7L469.6 274.3L473.2 273.8L475.5 273.1L476.2 275.6Z" fill="#e5e5e6"/>
<path d="M478.5 279.2L480.5 280.1L482.4 281.1L484.5 281.6L486.8 280.9L487.2 286.5L487.8 290.9L488.9 295.3L489.5 298.8L485.6 298.9L482.3 297.4L479 298.5L475.8 296.4L471.4 294.2L468.1 292L467.5 291.4L468.3 290.4L470.3 288.7L473.6 286.5L475.5 282.4Z" fill="#e5e5e6"/>
<path d="M486.8 280.9L491.2 278.4L494.4 280L497.7 282.7L501 284.9L504.3 286.5L502.1 288.2L499.9 290.4L502.1 291.4L503.2 294.7L502.1 298L499.6 298.8L497.7 297.2L493.4 298.2L489.5 298.8L488.9 295.3L487.8 290.9L487.2 286.5Z" fill="#ec8dab"/>
<path d="M455.1 297.4L456.2 301.8L457.5 305.1L458.5 308.1L460.5 309.2L464.9 307.3L468.5 306.4L472.7 306.2L475.5 305.9L476.5 302.1L479 298.5L475.8 296.4L471.4 294.2L468.1 292L467.5 291.4L466 290.9L462.7 293.1L458.3 295.3Z" fill="#e5e5e6"/>
<path d="M445.5 314.1L443.2 315.6L441.4 314L440.3 308.6L438.2 304.2L434.9 300.9L433.8 297.6L437.1 294.4L440 294.8L443.1 297.4L447.4 298L450.7 296.4L455.1 297.4L456.2 301.8L457.5 305.1L458.5 308.1L455.5 307.2L453.1 307.2L449.6 309.1L446.5 311.4Z" fill="#c9d8fa"/>
<path d="M499.6 298.8L496.7 301.5L496.7 305.9L497.8 309.2L496.7 312.5L493.4 315.7L490 317.6L488.5 314.1L485.8 311.8L481.4 313.2L477.2 314.8L476.5 313.1L476.2 309.6L475.5 305.9L476.5 302.1L479 298.5L482.3 297.4L485.6 298.9L489.5 298.8L493.4 298.2L497.7 297.2Z" fill="#f1c4d1"/>
<path d="M462.5 326.6L461.8 328.8L457.4 330.4L453.1 329.9L449.8 327.7L448.7 323.4L446.5 319L445.5 314.1L446.5 311.4L449.6 309.1L453.1 307.2L455.5 307.2L458.5 308.1L460.5 309.2L464.9 307.3L468.5 306.4L472.7 306.2L475.5 305.9L476.2 309.6L476.5 313.1L477.2 314.8L474.5 317.9L469.4 320.1L465.1 322.3Z" fill="#e5e5e6"/>
<path d="M490 317.6L488 320.1L486.9 322.3L484.7 324.4L481.4 326.6L479.3 328.8L478.2 332.1L476 334.3L473.8 333.2L470.5 332.1L467.3 331L464 327.7L462.5 326.6L465.1 322.3L469.4 320.1L474.5 317.9L477.2 314.8L481.4 313.2L485.8 311.8L488.5 314.1Z" fill="#f1c4d1"/>
<path d="M489.2 252L493.7 252.5L497.5 254.1L500.7 255.8L502 257.2L500.5 257.5L495.6 256L491.7 254.3L489.8 253.2Z" fill="#ec8dab"/>
<path d="M503.5 280.1L505.5 278.8L507.5 279.6L508 281.6L506.5 283.1L504.5 282.6Z" fill="#c9d8fa"/>
<path d="M505 284.1L507 283.6L508.5 285.1L507.5 287.1L505.5 286.6Z" fill="#c9d8fa"/>
<path d="M509 280.6L510.5 280.1L511 281.6L509.5 282.4Z" fill="#c9d8fa"/>
<path d="M508.5 276.6L509.8 276.1L510.2 277.4L509 277.9Z" fill="#c9d8fa"/>
<path d="M402.3 200.9L402.6 199L404.2 196.6L408 195.6L410.6 195.3L413 196.7L415.2 199.1L417.2 201.8L420 203L424.5 203.2L428 201.9L431.2 201.5L434 202L435.8 203.6L438 204.4L440.6 203.6L442 205L441.3 207.8L438.2 209L435 210.2L433.8 211.4L435.3 212.4L435.8 215L434.9 217.5L433.3 217.8L430.4 217.5L428.2 216L426.7 214.6L424.8 211.8L421.5 211L418.1 210.3L415.5 209.4L414.2 207.6L412.6 205.3L409.4 203.5L405.5 202ZM440.6 203.6L441.5 201.2L444 200.6L446.3 199.6L447.3 196.4L448.5 194.5L451.8 193.9L454.3 192.6L455.6 193.2L455 194.5L454.3 196.4L455 198.3L456.9 199.6L459.5 200.9L462 202.8L464.4 205L462.7 206.7L460.7 208.6L460.1 210.6L459.5 212.2L456.3 211.8L453.3 211.2L452.5 209.3L451.8 207.3L449.8 206.1L447.3 205.4L444.7 205.4L442 205ZM407.8 211.6L406.1 209.2L402.9 207L399.8 205L399.7 202.4L402.3 200.9L405.5 202L409.4 203.5L412.6 205.3L414.2 207.6L415.5 209.4L418.1 210.3L421.5 211L424.8 211.8L426.7 214.6L428.2 216L430.4 217.5L433.3 217.8L434.9 217.5L434.5 219.5L433.8 222.5L433.2 224.9L433.3 225.8L431.8 226L428.9 225.5L426 224.7L422.4 222.6L419.5 222L417.3 223.3L413.6 223.5L413.4 221.1L413.2 218.2L413.5 214.5L413.3 211L410.4 211.2ZM442 205L441.3 207.8L438.2 209L435 210.2L433.8 211.4L435.3 212.4L435.8 215L434.9 217.5L434.5 219.5L433.8 222.5L433.2 224.9L433.3 225.8L435.3 226.1L438.2 225.4L442.5 224.6L444.5 225.2L447.5 224.8L446.2 222.5L446.2 219.5L446.9 216.6L449.1 214.5L453.3 211.2L452.5 209.3L451.8 207.3L449.8 206.1L447.3 205.4L444.7 205.4ZM433.3 225.8L434.2 226.9L433.8 228L436.1 228.6L437.6 232.1L440.3 234.5L443.9 233.9L447.1 232.3L450.7 232.9L452.8 234.1L454 235.1L455.2 233.6L455.6 230.6L454.5 228.1L454.5 226.1L456.3 224.4L459.3 223.6L458.8 221.6L459.8 218.1L461 214.4L459.5 212.2L456.3 211.8L453.3 211.2L449.1 214.5L446.9 216.6L446.2 219.5L446.2 222.5L447.5 224.8L444.5 225.2L442.5 224.6L438.2 225.4L435.3 226.1ZM464.4 205L467.5 205.6L470.5 206.4L473.1 207.8L474.6 210.6L475.6 213.5L477.1 217.1L478.7 220.7L480.7 224.9L482.7 228.6L483.9 232.4L484.9 236.1L485.8 239.1L481.8 237.4L478.1 236.5L474 237.2L472.7 235.6L473.1 232.4L473.6 228.8L470.8 227.4L466.3 227.9L463.6 227L461.8 224.7L459.3 223.6L458.8 221.6L459.8 218.1L461 214.4L459.5 212.2L460.1 210.6L460.7 208.6L462.7 206.7ZM405 216.4L406.4 214.6L407.2 213.1L407.8 211.6L410.4 211.2L413.3 211L413.5 214.5L413.2 218.2L413.4 221.1L413.6 223.5L409.2 222.9L406.8 221L405.6 218.6ZM389.2 220L389.1 217.6L389.4 215.1L389.1 212.9L391.9 211.5L394.6 212L397.3 213.8L400 216.5L402.8 217.4L405 216.4L405.6 218.6L406.8 221L409.2 222.9L413.6 223.5L411.4 225.1L410.9 227.6L411.2 229.8L409.5 230.3L405.9 231.4L404.6 233.1L404.8 235.1L403.3 233.9L400.1 231.3L396.2 228.7L393.7 227.5L393.7 223.2L392.5 221.6L390.3 220.5ZM393.8 238.4L391.7 239.7L389.8 240.9L387.2 239.7L384.7 237.7L382.7 236.4L382.1 233.2L381.2 231.9L379 231.4L377.2 230.4L376.6 228.8L377.5 227.8L380.5 227.8L383 227.2L384.1 225.6L384.4 223.8L384.9 222.1L386 220.8L388.1 220.2L389.2 220L390.3 220.5L392.5 221.6L393.7 223.2L393.7 227.5L396.2 228.7L400.1 231.3L403.3 233.9L404.8 235.1L405.3 236.6L406 238.2L403.9 239.7L402 239L400.1 239L397.5 239.7L395.6 239ZM411.2 229.8L410.9 227.6L411.4 225.1L413.6 223.5L417.3 223.3L419.5 222L422.4 222.6L426 224.7L428.9 225.5L431.8 226L433.3 225.8L434.2 226.9L433.8 228L433.6 229.1L430.6 230.2L425.2 232L421.5 233.2L418.8 234.2L415.5 233.5L413.2 232ZM404.8 235.1L404.6 233.1L405.9 231.4L409.5 230.3L411.2 229.8L413.2 232L415.5 233.5L418.8 234.2L418.8 236.8L417.8 239.7L415.9 242.1L414.6 245.1L414.5 246.6L412.2 248.4L409.2 250L407.2 247.6L406.4 244.6L406.4 241.2L406 238.2L405.3 236.6ZM433.8 228L433.6 229.1L430.6 230.2L425.2 232L421.5 233.2L418.8 234.2L418.8 236.8L417.8 239.7L419.3 241.1L422 242.6L424.2 243.4L426.4 244.6L429.1 246.4L430.8 249.1L434.4 249.5L437.2 250.2L439.5 249.4L439.3 246.8L440.8 243.2L442.6 240.5L446.2 238.6L449.9 240.2L451.5 240.9L453 239.6L454.3 237.4L454 235.1L452.8 234.1L450.7 232.9L447.1 232.3L443.9 233.9L440.3 234.5L437.6 232.1L436.1 228.6ZM395.8 265.6L394 264.4L391.4 263.6L388.8 262.4L387 260.8L386 258.4L387.2 256.6L389.8 255L393.2 253.6L395 251.4L395 248.1L394.3 242.9L393.8 238.4L395.6 239L397.5 239.7L400.1 239L402 239L403.9 239.7L406 238.2L406.4 241.2L406.4 244.6L407.2 247.6L409.2 250L410.2 253L412.5 255.1L415.5 256.5L417.2 257.8L416.5 260.6L414.3 262.4L411.4 263.6L406.8 263.8L402.3 264.6L398.6 264.1ZM417.8 239.7L415.9 242.1L414.6 245.1L414.5 246.6L412.2 248.4L409.2 250L410.2 253L412.5 255.1L415.5 256.5L417.2 257.8L416.5 260.6L416.6 263.1L417 265.2L420.9 265.5L424.8 265L425.5 262.1L427.2 259.5L429.8 257.6L429.3 255.6L429.9 253.2L430.8 249.1L429.1 246.4L426.4 244.6L424.2 243.4L422 242.6L419.3 241.1ZM459.3 223.6L456.3 224.4L454.5 226.1L454.5 228.1L455.6 230.6L455.2 233.6L454 235.1L454.3 237.4L453 239.6L451.5 240.9L452.5 243.6L457 243.9L461 243.6L466.3 243.4L466.3 239.2L465.8 235.6L465 230.6L463.6 227L461.8 224.7ZM463.6 227L465 230.6L465.8 235.6L466.3 239.2L466.3 243.4L467 245.6L466.5 247.6L468.5 248.4L470.2 249.2L472.5 249.2L475.3 247.9L474 244.7L473.1 241.1L474 237.2L472.7 235.6L473.1 232.4L473.6 228.8L470.8 227.4L466.3 227.9ZM485.8 239.1L489.9 240L492.5 241.2L493.5 243.6L495.1 245.9L498.4 247.8L500.9 249.6L502.3 251.8L502.3 253.4L499.3 253.2L496.1 251.7L493 251.2L489.9 251.2L486.8 251.9L485.8 251.1L482.2 248.3L478.5 247.4L475.3 247.9L474 244.7L473.1 241.1L474 237.2L478.1 236.5L481.8 237.4ZM451.5 240.9L452.5 243.6L452.9 247L453.5 249.8L454.8 251.1L453.5 254.1L452.5 257.1L452.8 259.8L453.5 261.4L451.5 262.1L449.9 262.3L448.5 261.8L448.5 260L447.3 258.2L446.3 256L443.7 254.1L440.6 252L439.5 249.4L439.3 246.8L440.8 243.2L442.6 240.5L446.2 238.6L449.9 240.2ZM452.5 243.6L457 243.9L461 243.6L466.3 243.4L467 245.6L466.5 247.6L464.9 248.3L462.2 249.9L458.5 249.2L454.8 251.1L453.5 249.8L452.9 247ZM454.8 251.1L458.5 249.2L462.2 249.9L464.9 248.3L466.5 247.6L468.5 248.4L470.2 249.2L469.8 251.5L470 253.8L468.5 256.1L465.8 256.6L463.1 258.3L460.4 260.1L458.5 262.8L455.8 262L453.5 261.4L452.8 259.8L452.5 257.1L453.5 254.1ZM470.2 249.2L472.5 249.2L475.3 247.9L478 250.1L479 252.6L478.5 255.6L475.3 258.1L471.7 261L469 262.9L466.5 263.6L464.5 264.6L462 265.1L460.5 264.4L458.5 262.8L460.4 260.1L463.1 258.3L465.8 256.6L468.5 256.1L470 253.8L469.8 251.5ZM486.8 251.9L488 253.1L489 255.2L489.2 257L487.9 259.7L486 262.9L485.2 265.6L485.9 268.4L483.2 267.5L479.5 268.4L476.8 269.3L474.1 268.4L472.3 267.5L468.6 265.4L466.5 263.6L469 262.9L471.7 261L475.3 258.1L478.5 255.6L479 252.6L478 250.1L475.3 247.9L478.5 247.4L482.2 248.3L485.8 251.1ZM489.2 257L491.7 257.5L494.3 258.4L496.9 259.4L499.4 261.7L501.4 264.2L502 266.8L501.4 268.7L499.5 269.6L495.9 270.4L492.3 271.2L489.5 272.1L487.7 270.2L485.9 268.4L485.2 265.6L486 262.9L487.9 259.7ZM447.3 258.2L444 258L439 257L434.4 257.7L429.8 257.6L429.3 255.6L429.9 253.2L430.8 249.1L434.4 249.5L437.2 250.2L439.5 249.4L440.6 252L443.7 254.1L446.3 256ZM424.8 265L429.1 264.6L432.8 265.5L434.6 266.8L433.7 270L433.8 272.6L435.5 271.8L438.6 269.2L442.2 265.6L444.9 262.2L448.5 261.8L448.5 260L447.3 258.2L444 258L439 257L434.4 257.7L429.8 257.6L427.2 259.5L425.5 262.1ZM458.5 262.8L460.5 264.4L462 265.1L460.5 266.5L458.7 269.3L455.9 272L454.1 274.7L455 277.2L453.2 277.3L450.5 277.8L448.2 279.4L446.8 282.1L444 284.2L441.8 283.2L439.7 281L437.7 278.4L434.8 276L434.3 274.6L433.8 272.6L435.5 271.8L438.6 269.2L442.2 265.6L444.9 262.2L448.5 261.8L449.9 262.3L451.5 262.1L453.5 261.4L455.8 262ZM417 265.2L417.2 269.1L418.6 272.2L421.8 271.2L425.5 270.5L429.1 269.6L431.9 268.2L434.6 266.8L432.8 265.5L429.1 264.6L424.8 265L420.9 265.5ZM418.8 286.5L416.5 287.3L414.2 289L410.9 291.3L409.3 290.5L408.5 286.6L409.2 284.8L410.2 283.7L411.8 281.4L413.3 278.3L415.6 276L417.9 274.5L418.6 272.2L421.8 271.2L425.5 270.5L429.1 269.6L431.9 268.2L434.6 266.8L433.7 270L433.8 272.6L434.3 274.6L434.8 276L433.5 276.8L431 278.4L428 280.9L425 282.8L422 284.5ZM409.2 284.8L407.9 285.5L404.8 286.2L401.7 287.2L399.4 286L398.7 283.7L397.1 281.4L395.6 279.1L394.8 276L393.3 272.9L392.5 270.5L394 268L395.8 265.6L398.6 264.1L402.3 264.6L406.8 263.8L411.4 263.6L414.3 262.4L416.5 260.6L416.6 263.1L417 265.2L417.2 269.1L418.6 272.2L417.9 274.5L415.6 276L413.3 278.3L411.8 281.4L410.2 283.7ZM437.1 294.4L435.7 294.2L431.4 293.1L425.9 290.9L422 288.8L418.8 286.5L422 284.5L425 282.8L428 280.9L431 278.4L433.5 276.8L434.8 276L437.7 278.4L439.7 281L441.8 283.2L444 284.2L445.9 286.1L445.9 289.3L443.2 292L440 294.8ZM462 265.1L464.5 264.6L466.5 263.6L468.6 265.4L472.3 267.5L474.1 268.4L475 270.9L475.5 273.1L473.2 273.8L469.6 274.3L465.9 274.7L462.3 275.6L459.6 276.6L456.8 276.8L455 277.2L454.1 274.7L455.9 272L458.7 269.3L460.5 266.5ZM489.5 272.1L487.9 274L485.7 275.1L482.4 276.2L479.2 277.1L476.6 277.6L476.2 275.6L475.5 273.1L475 270.9L474.1 268.4L476.8 269.3L479.5 268.4L483.2 267.5L485.9 268.4L487.7 270.2ZM476.6 277.6L477.5 278.6L478.5 279.2L475.5 282.4L473.6 286.5L470.3 288.7L468.3 290.4L467.5 291.4L466 290.9L462.7 293.1L458.3 295.3L455.1 297.4L450.7 296.4L447.4 298L443.1 297.4L440 294.8L443.2 292L445.9 289.3L445.9 286.1L444 284.2L446.8 282.1L448.2 279.4L450.5 277.8L453.2 277.3L455 277.2L456.8 276.8L459.6 276.6L462.3 275.6L465.9 274.7L469.6 274.3L473.2 273.8L475.5 273.1L476.2 275.6ZM478.5 279.2L480.5 280.1L482.4 281.1L484.5 281.6L486.8 280.9L487.2 286.5L487.8 290.9L488.9 295.3L489.5 298.8L485.6 298.9L482.3 297.4L479 298.5L475.8 296.4L471.4 294.2L468.1 292L467.5 291.4L468.3 290.4L470.3 288.7L473.6 286.5L475.5 282.4ZM486.8 280.9L491.2 278.4L494.4 280L497.7 282.7L501 284.9L504.3 286.5L502.1 288.2L499.9 290.4L502.1 291.4L503.2 294.7L502.1 298L499.6 298.8L497.7 297.2L493.4 298.2L489.5 298.8L488.9 295.3L487.8 290.9L487.2 286.5ZM455.1 297.4L456.2 301.8L457.5 305.1L458.5 308.1L460.5 309.2L464.9 307.3L468.5 306.4L472.7 306.2L475.5 305.9L476.5 302.1L479 298.5L475.8 296.4L471.4 294.2L468.1 292L467.5 291.4L466 290.9L462.7 293.1L458.3 295.3ZM445.5 314.1L443.2 315.6L441.4 314L440.3 308.6L438.2 304.2L434.9 300.9L433.8 297.6L437.1 294.4L440 294.8L443.1 297.4L447.4 298L450.7 296.4L455.1 297.4L456.2 301.8L457.5 305.1L458.5 308.1L455.5 307.2L453.1 307.2L449.6 309.1L446.5 311.4ZM499.6 298.8L496.7 301.5L496.7 305.9L497.8 309.2L496.7 312.5L493.4 315.7L490 317.6L488.5 314.1L485.8 311.8L481.4 313.2L477.2 314.8L476.5 313.1L476.2 309.6L475.5 305.9L476.5 302.1L479 298.5L482.3 297.4L485.6 298.9L489.5 298.8L493.4 298.2L497.7 297.2ZM462.5 326.6L461.8 328.8L457.4 330.4L453.1 329.9L449.8 327.7L448.7 323.4L446.5 319L445.5 314.1L446.5 311.4L449.6 309.1L453.1 307.2L455.5 307.2L458.5 308.1L460.5 309.2L464.9 307.3L468.5 306.4L472.7 306.2L475.5 305.9L476.2 309.6L476.5 313.1L477.2 314.8L474.5 317.9L469.4 320.1L465.1 322.3ZM490 317.6L488 320.1L486.9 322.3L484.7 324.4L481.4 326.6L479.3 328.8L478.2 332.1L476 334.3L473.8 333.2L470.5 332.1L467.3 331L464 327.7L462.5 326.6L465.1 322.3L469.4 320.1L474.5 317.9L477.2 314.8L481.4 313.2L485.8 311.8L488.5 314.1ZM489.2 252L493.7 252.5L497.5 254.1L500.7 255.8L502 257.2L500.5 257.5L495.6 256L491.7 254.3L489.8 253.2ZM503.5 280.1L505.5 278.8L507.5 279.6L508 281.6L506.5 283.1L504.5 282.6ZM505 284.1L507 283.6L508.5 285.1L507.5 287.1L505.5 286.6ZM509 280.6L510.5 280.1L511 281.6L509.5 282.4ZM508.5 276.6L509.8 276.1L510.2 277.4L509 277.9Z" fill="none" stroke="#808080" stroke-width="0.6" stroke-linejoin="round"/>
</g>
<g font-family="Liberation Serif" font-size="6.3" fill="#1e1e2a" text-anchor="middle"><text transform="translate(423.5 209.85) scale(1.0 1.06)">XZ</text><text transform="translate(451.4 204.55) scale(1.0 1.06)">LYG</text><text transform="translate(409 219.55) scale(1.0 1.06)">HB</text><text transform="translate(420.9 219.15) scale(1.0 1.06)">SZ</text><text transform="translate(441.5 218.45) scale(1.0 1.06)">SQ</text><text transform="translate(449.6 224.75) scale(1.0 1.06)">HA</text><text transform="translate(469.3 222.95) scale(1.0 1.06)">YC</text><text transform="translate(400.8 226.95) scale(1.0 1.06)">BZ</text><text transform="translate(420.4 229.55) scale(1.0 1.06)">BB</text><text transform="translate(388.5 233.95) scale(1.0 1.06)">FY</text><text transform="translate(410.7 243.05) scale(1.0 1.06)">HN</text><text transform="translate(430 240.85) scale(1.0 1.06)">CU</text><text transform="translate(460 239.65) scale(1.0 1.06)">YZ</text><text transform="translate(468.8 240.15) scale(1.0 1.06)">TA</text><text transform="translate(486.6 246.95) scale(1.0 1.06)">NT</text><text transform="translate(458.6 248.85) scale(1.0 1.06)">ZJ</text><text transform="translate(446.2 251.75) scale(1.0 1.06)">NJ</text><text transform="translate(422.5 254.55) scale(1.0 1.06)">HF</text><text transform="translate(401.8 254.45) scale(1.0 1.06)">LA</text><text transform="translate(434.6 256.95) scale(1.0 1.06)">MAS</text><text transform="translate(461.1 256.45) scale(1.0 1.06)">CA</text><text transform="translate(483.4 259.05) scale(1.0 1.06)">SU</text><text transform="translate(464.9 263.45) scale(1.0 1.06)">WX</text><text transform="translate(435 264.75) scale(1.0 1.06)">WH</text><text transform="translate(493.5 265.95) scale(1.0 1.06)">SH</text><text transform="translate(424.8 270.75) scale(1.0 1.06)">TL</text><text transform="translate(448 273.55) scale(1.0 1.06)">XC</text><text transform="translate(467.5 272.95) scale(1.0 1.06)">HU</text><text transform="translate(481.4 274.25) scale(1.0 1.06)">JX</text><text transform="translate(404.4 276.55) scale(1.0 1.06)">AQ</text><text transform="translate(424.9 278.75) scale(1.0 1.06)">CI</text><text transform="translate(506.2 286.25) scale(1.0 1.06)">ZS</text><text transform="translate(432.5 287.65) scale(1.0 1.06)">HS</text><text transform="translate(457.2 287.95) scale(1.0 1.06)">HZ</text><text transform="translate(480.1 290.15) scale(1.0 1.06)">SX</text><text transform="translate(494.1 290.75) scale(1.0 1.06)">NB</text><text transform="translate(445.2 305.05) scale(1.0 1.06)">QZ</text><text transform="translate(464.6 301.95) scale(1.0 1.06)">JH</text><text transform="translate(488.2 307.65) scale(1.0 1.06)">TZ</text><text transform="translate(455.4 320.15) scale(1.0 1.06)">LS</text><text transform="translate(471.3 326.45) scale(1.0 1.06)">WZ</text></g>
<rect x="368.7" y="185.2" width="156.8" height="156.5" fill="none" stroke="#1a1a1a" stroke-width="1.3"/>
<text x="370.4" y="194.1" font-family="Liberation Serif" font-weight="bold" font-size="8.1" fill="#2a2a2a">(f) 2020</text>
<text x="518.2" y="193.9" font-family="Liberation Sans" font-weight="bold" font-size="6.4" fill="#222" text-anchor="middle">N</text>
<path d="M518 196.2L513 213.1L518.3 208.2Z" fill="#111"/>
<path d="M518 196.2L523.2 213L518.3 208.2Z" fill="#fff" stroke="#111" stroke-width="0.6" stroke-linejoin="round"/>
<rect x="483.6" y="334.5" width="32.6" height="2.5" fill="#0a0a0a"/>
<rect x="492.2" y="334.7" width="7.3" height="2.1" fill="#a8a8a8"/>
<g font-family="Liberation Serif" font-weight="bold" font-size="3.9" fill="#333"><text x="483.8" y="332.6" text-anchor="middle">0</text><text x="491.6" y="332.6" text-anchor="middle">50</text><text x="499.8" y="332.6" text-anchor="middle">100</text><text x="516" y="332.6" text-anchor="middle">200</text><text x="517.1" y="336.9" font-weight="normal">km</text></g>
<g font-family="Liberation Serif" font-weight="bold" font-size="9" fill="#111"><line x1="55.7" y1="14.9" x2="55.7" y2="19.3" stroke="#111" stroke-width="1"/>
<text x="55.7" y="12.1" text-anchor="middle">116°E</text>
<line x1="91.5" y1="14.9" x2="91.5" y2="19.3" stroke="#111" stroke-width="1"/>
<text x="91.5" y="12.1" text-anchor="middle">118°E</text>
<line x1="127.3" y1="14.9" x2="127.3" y2="19.3" stroke="#111" stroke-width="1"/>
<text x="127.3" y="12.1" text-anchor="middle">120°E</text>
<line x1="163.1" y1="14.9" x2="163.1" y2="19.3" stroke="#111" stroke-width="1"/>
<text x="163.1" y="12.1" text-anchor="middle">122°E</text>
<line x1="21.8" y1="47" x2="26.6" y2="47" stroke="#111" stroke-width="1"/>
<text transform="translate(18.6 47) rotate(-90)" text-anchor="middle">34°N</text>
<line x1="21.8" y1="82.6" x2="26.6" y2="82.6" stroke="#111" stroke-width="1"/>
<text transform="translate(18.6 82.6) rotate(-90)" text-anchor="middle">32°N</text>
<line x1="21.8" y1="118.2" x2="26.6" y2="118.2" stroke="#111" stroke-width="1"/>
<text transform="translate(18.6 118.2) rotate(-90)" text-anchor="middle">30°N</text>
<line x1="21.8" y1="153.8" x2="26.6" y2="153.8" stroke="#111" stroke-width="1"/>
<text transform="translate(18.6 153.8) rotate(-90)" text-anchor="middle">28°N</text>
<line x1="227.6" y1="14.9" x2="227.6" y2="19.3" stroke="#111" stroke-width="1"/>
<text x="227.6" y="12.1" text-anchor="middle">116°E</text>
<line x1="263.4" y1="14.9" x2="263.4" y2="19.3" stroke="#111" stroke-width="1"/>
<text x="263.4" y="12.1" text-anchor="middle">118°E</text>
<line x1="299.2" y1="14.9" x2="299.2" y2="19.3" stroke="#111" stroke-width="1"/>
<text x="299.2" y="12.1" text-anchor="middle">120°E</text>
<line x1="335" y1="14.9" x2="335" y2="19.3" stroke="#111" stroke-width="1"/>
<text x="335" y="12.1" text-anchor="middle">122°E</text>
<line x1="393.1" y1="14.9" x2="393.1" y2="19.3" stroke="#111" stroke-width="1"/>
<text x="393.1" y="12.1" text-anchor="middle">116°E</text>
<line x1="428.9" y1="14.9" x2="428.9" y2="19.3" stroke="#111" stroke-width="1"/>
<text x="428.9" y="12.1" text-anchor="middle">118°E</text>
<line x1="464.7" y1="14.9" x2="464.7" y2="19.3" stroke="#111" stroke-width="1"/>
<text x="464.7" y="12.1" text-anchor="middle">120°E</text>
<line x1="500.5" y1="14.9" x2="500.5" y2="19.3" stroke="#111" stroke-width="1"/>
<text x="500.5" y="12.1" text-anchor="middle">122°E</text>
<line x1="525.4" y1="47" x2="530.6" y2="47" stroke="#111" stroke-width="1"/>
<text transform="translate(540.2 47) rotate(-90)" text-anchor="middle">34°N</text>
<line x1="525.4" y1="82.6" x2="530.6" y2="82.6" stroke="#111" stroke-width="1"/>
<text transform="translate(540.2 82.6) rotate(-90)" text-anchor="middle">32°N</text>
<line x1="525.4" y1="118.2" x2="530.6" y2="118.2" stroke="#111" stroke-width="1"/>
<text transform="translate(540.2 118.2) rotate(-90)" text-anchor="middle">30°N</text>
<line x1="525.4" y1="153.8" x2="530.6" y2="153.8" stroke="#111" stroke-width="1"/>
<text transform="translate(540.2 153.8) rotate(-90)" text-anchor="middle">28°N</text>
<line x1="54.8" y1="341.7" x2="54.8" y2="346.3" stroke="#111" stroke-width="1"/>
<text x="54.8" y="355.9" text-anchor="middle">116°E</text>
<line x1="90.6" y1="341.7" x2="90.6" y2="346.3" stroke="#111" stroke-width="1"/>
<text x="90.6" y="355.9" text-anchor="middle">118°E</text>
<line x1="126.4" y1="341.7" x2="126.4" y2="346.3" stroke="#111" stroke-width="1"/>
<text x="126.4" y="355.9" text-anchor="middle">120°E</text>
<line x1="162.2" y1="341.7" x2="162.2" y2="346.3" stroke="#111" stroke-width="1"/>
<text x="162.2" y="355.9" text-anchor="middle">122°E</text>
<line x1="22" y1="213" x2="26.8" y2="213" stroke="#111" stroke-width="1"/>
<text transform="translate(18.8 213) rotate(-90)" text-anchor="middle">34°N</text>
<line x1="22" y1="248.6" x2="26.8" y2="248.6" stroke="#111" stroke-width="1"/>
<text transform="translate(18.8 248.6) rotate(-90)" text-anchor="middle">32°N</text>
<line x1="22" y1="284.2" x2="26.8" y2="284.2" stroke="#111" stroke-width="1"/>
<text transform="translate(18.8 284.2) rotate(-90)" text-anchor="middle">30°N</text>
<line x1="22" y1="319.8" x2="26.8" y2="319.8" stroke="#111" stroke-width="1"/>
<text transform="translate(18.8 319.8) rotate(-90)" text-anchor="middle">28°N</text>
<line x1="223.8" y1="341.7" x2="223.8" y2="346.3" stroke="#111" stroke-width="1"/>
<text x="223.8" y="355.9" text-anchor="middle">116°E</text>
<line x1="259.6" y1="341.7" x2="259.6" y2="346.3" stroke="#111" stroke-width="1"/>
<text x="259.6" y="355.9" text-anchor="middle">118°E</text>
<line x1="295.4" y1="341.7" x2="295.4" y2="346.3" stroke="#111" stroke-width="1"/>
<text x="295.4" y="355.9" text-anchor="middle">120°E</text>
<line x1="331.2" y1="341.7" x2="331.2" y2="346.3" stroke="#111" stroke-width="1"/>
<text x="331.2" y="355.9" text-anchor="middle">122°E</text>
<line x1="397" y1="341.7" x2="397" y2="346.3" stroke="#111" stroke-width="1"/>
<text x="397" y="355.9" text-anchor="middle">116°E</text>
<line x1="432.8" y1="341.7" x2="432.8" y2="346.3" stroke="#111" stroke-width="1"/>
<text x="432.8" y="355.9" text-anchor="middle">118°E</text>
<line x1="468.6" y1="341.7" x2="468.6" y2="346.3" stroke="#111" stroke-width="1"/>
<text x="468.6" y="355.9" text-anchor="middle">120°E</text>
<line x1="504.4" y1="341.7" x2="504.4" y2="346.3" stroke="#111" stroke-width="1"/>
<text x="504.4" y="355.9" text-anchor="middle">122°E</text>
<line x1="525.5" y1="212.6" x2="530.7" y2="212.6" stroke="#111" stroke-width="1"/>
<text transform="translate(540.3 212.6) rotate(-90)" text-anchor="middle">34°N</text>
<line x1="525.5" y1="248.2" x2="530.7" y2="248.2" stroke="#111" stroke-width="1"/>
<text transform="translate(540.3 248.2) rotate(-90)" text-anchor="middle">32°N</text>
<line x1="525.5" y1="283.8" x2="530.7" y2="283.8" stroke="#111" stroke-width="1"/>
<text transform="translate(540.3 283.8) rotate(-90)" text-anchor="middle">30°N</text>
<line x1="525.5" y1="319.4" x2="530.7" y2="319.4" stroke="#111" stroke-width="1"/>
<text transform="translate(540.3 319.4) rotate(-90)" text-anchor="middle">28°N</text></g>
<text x="6.8" y="369.6" font-family="Liberation Serif" font-weight="bold" font-size="9.35" fill="#111">Coefficient (X9)</text>
<rect x="5.2" y="373.9" width="18.6" height="9.2" fill="#7c87dc" stroke="#8c8c8c" stroke-width="0.7"/>
<text x="27" y="381.6" font-family="Liberation Serif" font-size="8.35" fill="#333">Weak (< −0.016)</text>
<rect x="95.4" y="373.9" width="18.6" height="9.2" fill="#c9d8fa" stroke="#8c8c8c" stroke-width="0.7"/>
<text x="117.5" y="381.6" font-family="Liberation Serif" font-size="8.35" fill="#333">Relatively Weak (−0.016 – 0)</text>
<rect x="226.2" y="373.9" width="18.6" height="9.2" fill="#e5e5e6" stroke="#8c8c8c" stroke-width="0.7"/>
<text x="247.8" y="381.6" font-family="Liberation Serif" font-size="8.35" fill="#333">Medium (0 – 0.012)</text>
<rect x="324" y="373.9" width="18.6" height="9.2" fill="#f1c4d1" stroke="#8c8c8c" stroke-width="0.7"/>
<text x="346.3" y="381.6" font-family="Liberation Serif" font-size="8.35" fill="#333">Relatively strong (0.012 – 0.030)</text>
<rect x="467.5" y="373.9" width="18.6" height="9.2" fill="#ec8dab" stroke="#8c8c8c" stroke-width="0.7"/>
<text x="488.6" y="381.6" font-family="Liberation Serif" font-size="8.35" fill="#333">Strong (> 0.030 )</text>
</svg>
</body></html>
